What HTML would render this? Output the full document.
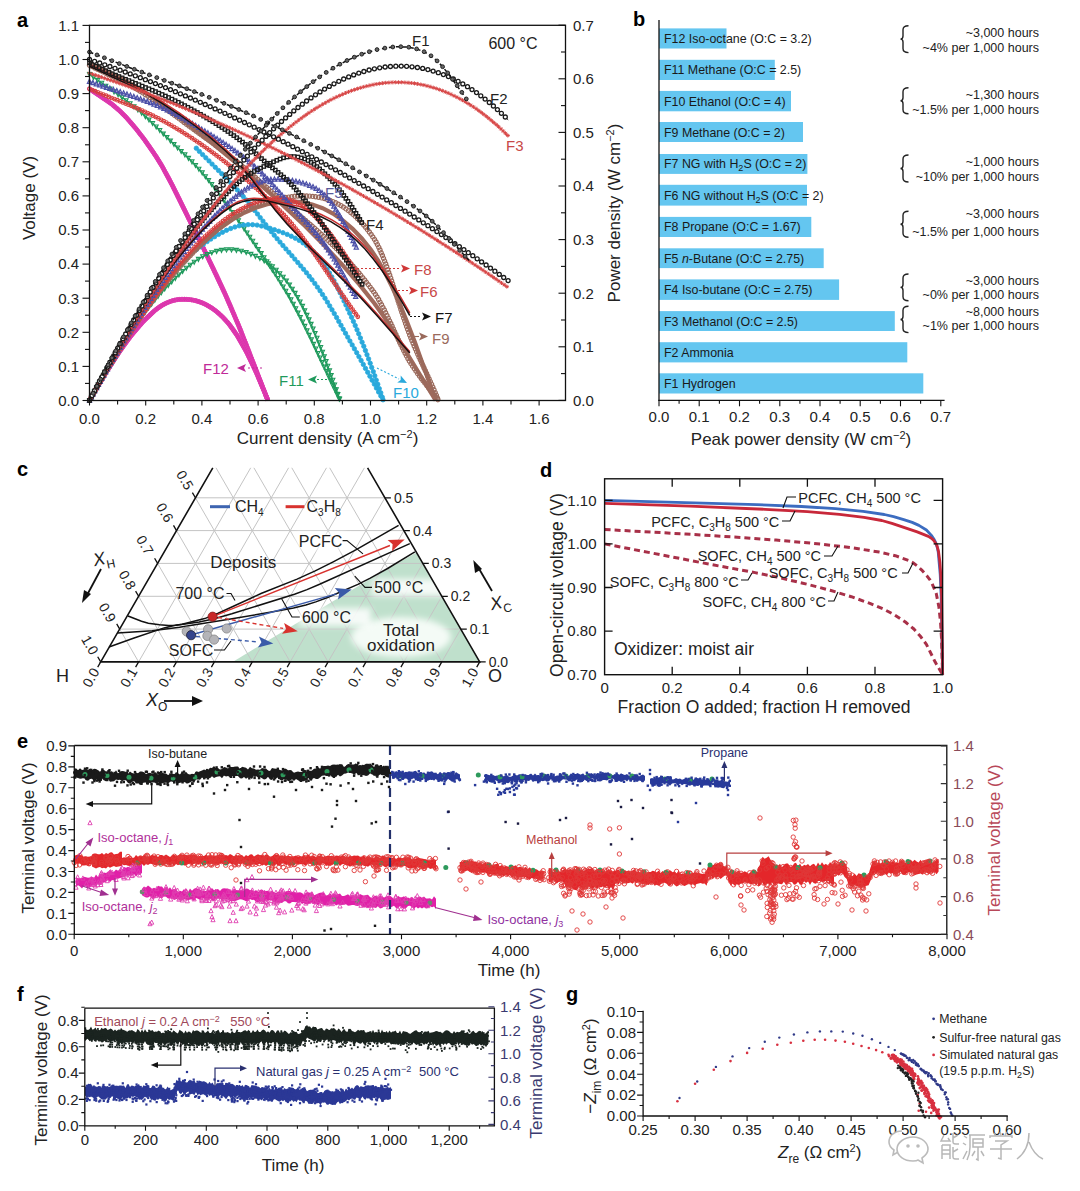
<!DOCTYPE html>
<html><head><meta charset="utf-8"><style>
html,body{margin:0;padding:0;background:#fff;width:1080px;height:1191px;overflow:hidden}
svg{display:block}
text{font-family:"Liberation Sans", sans-serif}
</style></head><body>
<svg width="1080" height="1191" viewBox="0 0 1080 1191" font-family="Liberation Sans, sans-serif">
<rect width="1080" height="1191" fill="#fff"/>
<defs><marker id="m1" markerUnits="userSpaceOnUse" markerWidth="12" markerHeight="12" viewBox="-6.0 -6.0 12 12" refX="0" refY="0" overflow="visible"><circle r="2.0" fill="none" stroke="#e03cb0" stroke-width="1.0"/></marker><marker id="m2" markerUnits="userSpaceOnUse" markerWidth="12" markerHeight="12" viewBox="-6.0 -6.0 12 12" refX="0" refY="0" overflow="visible"><path d="M0 2.4l2 -4h-4z" fill="none" stroke="#1f9a5c" stroke-width="1.1"/></marker><marker id="m3" markerUnits="userSpaceOnUse" markerWidth="12" markerHeight="12" viewBox="-6.0 -6.0 12 12" refX="0" refY="0" overflow="visible"><circle r="2.2" fill="#2aa9dc" stroke="#2aa9dc" stroke-width="0.8"/></marker><marker id="m4" markerUnits="userSpaceOnUse" markerWidth="12" markerHeight="12" viewBox="-6.0 -6.0 12 12" refX="0" refY="0" overflow="visible"><circle r="2.1" fill="none" stroke="#9a6a5c" stroke-width="1.2"/></marker><marker id="m5" markerUnits="userSpaceOnUse" markerWidth="12" markerHeight="12" viewBox="-6.0 -6.0 12 12" refX="0" refY="0" overflow="visible"><circle r="1.8" fill="none" stroke="#d84040" stroke-width="1.1"/></marker><marker id="m6" markerUnits="userSpaceOnUse" markerWidth="12" markerHeight="12" viewBox="-6.0 -6.0 12 12" refX="0" refY="0" overflow="visible"><path d="M0 -2.5l2.1 4.2h-4.2z" fill="none" stroke="#4b4fa8" stroke-width="1.2"/></marker><marker id="m7" markerUnits="userSpaceOnUse" markerWidth="12" markerHeight="12" viewBox="-6.0 -6.0 12 12" refX="0" refY="0" overflow="visible"><rect x="-1.7" y="-1.7" width="3.4" height="3.4" fill="none" stroke="#1a1a1a" stroke-width="1.3"/></marker><marker id="m8" markerUnits="userSpaceOnUse" markerWidth="12" markerHeight="12" viewBox="-6.0 -6.0 12 12" refX="0" refY="0" overflow="visible"><path d="M-2 0h4M0 -2v4M-1.4 -1.4l2.8 2.8M-1.4 1.4l2.8 -2.8" fill="none" stroke="#d84848" stroke-width="1.0"/></marker><marker id="m9" markerUnits="userSpaceOnUse" markerWidth="12" markerHeight="12" viewBox="-6.0 -6.0 12 12" refX="0" refY="0" overflow="visible"><circle r="2.0" fill="#fff" stroke="#1a1a1a" stroke-width="1.3"/></marker><marker id="m10" markerUnits="userSpaceOnUse" markerWidth="12" markerHeight="12" viewBox="-6.0 -6.0 12 12" refX="0" refY="0" overflow="visible"><circle r="1.9" fill="#666" stroke="#222" stroke-width="1.0"/></marker><marker id="m11" markerUnits="userSpaceOnUse" markerWidth="12" markerHeight="12" viewBox="-6.0 -6.0 12 12" refX="0" refY="0" overflow="visible"><circle r="2.5" fill="#2e9a5c"/></marker><marker id="m12" markerUnits="userSpaceOnUse" markerWidth="12" markerHeight="12" viewBox="-6.0 -6.0 12 12" refX="0" refY="0" overflow="visible"><rect x="-1.2" y="-1.2" width="2.4" height="2.4" fill="#1a1a1a"/></marker><marker id="m13" markerUnits="userSpaceOnUse" markerWidth="12" markerHeight="12" viewBox="-6.0 -6.0 12 12" refX="0" refY="0" overflow="visible"><rect x="-1.2" y="-1.2" width="2.4" height="2.4" fill="#283a9a"/></marker><marker id="m14" markerUnits="userSpaceOnUse" markerWidth="12" markerHeight="12" viewBox="-6.0 -6.0 12 12" refX="0" refY="0" overflow="visible"><rect x="-1.2" y="-1.2" width="2.4" height="2.4" fill="#1a1a40"/></marker><marker id="m15" markerUnits="userSpaceOnUse" markerWidth="12" markerHeight="12" viewBox="-6.0 -6.0 12 12" refX="0" refY="0" overflow="visible"><circle r="2.2" fill="none" stroke="#e03838" stroke-width="0.9"/></marker><marker id="m16" markerUnits="userSpaceOnUse" markerWidth="12" markerHeight="12" viewBox="-6.0 -6.0 12 12" refX="0" refY="0" overflow="visible"><circle r="2.4" fill="#6a8a70"/></marker><marker id="m17" markerUnits="userSpaceOnUse" markerWidth="12" markerHeight="12" viewBox="-6.0 -6.0 12 12" refX="0" refY="0" overflow="visible"><path d="M0 -2.5l2.1 4.2h-4.2z" fill="none" stroke="#e040b0" stroke-width="0.9"/></marker><marker id="m18" markerUnits="userSpaceOnUse" markerWidth="12" markerHeight="12" viewBox="-6.0 -6.0 12 12" refX="0" refY="0" overflow="visible"><rect x="-0.9" y="-0.9" width="1.8" height="1.8" fill="#1b2420"/></marker><marker id="m19" markerUnits="userSpaceOnUse" markerWidth="12" markerHeight="12" viewBox="-6.0 -6.0 12 12" refX="0" refY="0" overflow="visible"><rect x="-1.1" y="-1.1" width="2.2" height="2.2" fill="#2b3896"/></marker><marker id="m20" markerUnits="userSpaceOnUse" markerWidth="12" markerHeight="12" viewBox="-6.0 -6.0 12 12" refX="0" refY="0" overflow="visible"><circle r="1.2" fill="#303a88" stroke="none" stroke-width="0"/></marker><marker id="m21" markerUnits="userSpaceOnUse" markerWidth="12" markerHeight="12" viewBox="-6.0 -6.0 12 12" refX="0" refY="0" overflow="visible"><circle r="1.3" fill="#d83040" stroke="none" stroke-width="0"/></marker><marker id="m22" markerUnits="userSpaceOnUse" markerWidth="12" markerHeight="12" viewBox="-6.0 -6.0 12 12" refX="0" refY="0" overflow="visible"><circle r="1.2" fill="#222" stroke="none" stroke-width="0"/></marker></defs>
<g id="pa">
<path d="M89.5 88.8 112.1 104.4 119.2 110.4 126.4 117.6 135.3 127.9 144.8 140.2 156.1 156.5 162.7 167.3 173.4 187.4 203.1 247.6 224.5 292.7 240 328.9 267.9 400.5" stroke="#d62aa8" stroke-width="4.6" fill="none" />
<path d="M89.5 88.8 91.5 90.2 93.4 91.6 95.4 92.9 97.4 94.2 99.4 95.5 101.4 96.9 103.4 98.2 105.4 99.5 107.4 100.9 109.4 102.3 111.3 103.7 113.2 105.2 115 106.7 116.9 108.3 118.6 109.9 120.4 111.5 122.1 113.2 123.8 114.9 125.5 116.6 127.1 118.4 128.7 120.2 130.3 122 131.9 123.8 133.4 125.6 135 127.5 136.5 129.3 138 131.2 139.4 133.1 140.9 135 142.4 136.9 143.8 138.8 145.2 140.8 146.6 142.7 148 144.7 149.4 146.6 150.8 148.6 152.1 150.6 153.5 152.6 154.8 154.6 156.1 156.6 157.4 158.6 158.7 160.6 160 162.7 161.2 164.7 162.4 166.8 163.6 168.9 164.7 171 165.9 173.1 167 175.2 168.2 177.3 169.3 179.4 170.4 181.6 171.5 183.7 172.6 185.8 173.6 188 174.7 190.1 175.8 192.3 176.9 194.4 177.9 196.6 179 198.7 180 200.9 181.1 203.1 182.1 205.2 183.2 207.4 184.2 209.5 185.3 211.7 186.3 213.8 187.4 216 188.4 218.2 189.5 220.3 190.6 222.5 191.6 224.6 192.7 226.8 193.8 228.9 194.9 231 195.9 233.2 197 235.3 198.1 237.5 199.1 239.6 200.2 241.8 201.3 243.9 202.3 246.1 203.4 248.2 204.5 250.4 205.5 252.5 206.6 254.7 207.6 256.9 208.7 259 209.7 261.2 210.8 263.3 211.8 265.5 212.9 267.7 213.9 269.8 214.9 272 216 274.2 217 276.3 218 278.5 219 280.7 220 282.9 221 285 222 287.2 223 289.4 224 291.6 225 293.8 226 296 227 298.2 227.9 300.3 228.9 302.5 229.9 304.7 230.8 306.9 231.8 309.1 232.7 311.4 233.7 313.6 234.6 315.8 235.5 318 236.4 320.2 237.4 322.4 238.3 324.6 239.2 326.9 240.1 329.1 241 331.3 241.8 333.6 242.7 335.8 243.6 338 244.5 340.2 245.4 342.5 246.3 344.7 247.1 347 248 349.2 248.9 351.4 249.7 353.7 250.6 355.9 251.5 358.1 252.3 360.4 253.2 362.6 254.1 364.9 254.9 367.1 255.8 369.3 256.7 371.6 257.5 373.8 258.4 376 259.2 378.3 260.1 380.5 261 382.8 261.9 385 262.7 387.2 263.6 389.5 264.5 391.7 265.3 393.9 266.2 396.2 267.1 398.4" fill="none" stroke="none" marker-start="url(#m1)" marker-mid="url(#m1)" marker-end="url(#m1)"/>
<path d="M89.5 400.4 105 374.3 118.6 353 131.1 335.7 142.4 322.4 153.7 311.5 158.5 307.7 163.3 304.6 168 302.3 173.4 300.4 178.1 299.5 183.5 299.2 189.4 299.6 195.4 300.6 201.3 302.5 206.7 305 212 308.2 217.4 312.2 222.7 317.1 228.1 323 237 335.3 246.5 352 256.6 373.3 267.9 400.4" stroke="#d62aa8" stroke-width="4.6" fill="none" />
<path d="M89.5 400.4 90.7 398.3 91.9 396.2 93.1 394.2 94.3 392.1 95.5 390 96.8 388 98 385.9 99.2 383.8 100.4 381.8 101.7 379.7 102.9 377.7 104.2 375.6 105.4 373.6 106.7 371.5 108 369.5 109.2 367.5 110.5 365.4 111.8 363.4 113.1 361.4 114.4 359.4 115.7 357.4 117.1 355.4 118.4 353.4 119.8 351.4 121.1 349.4 122.5 347.5 123.9 345.5 125.3 343.5 126.7 341.6 128.1 339.7 129.6 337.8 131 335.9 132.5 334 134 332.1 135.5 330.3 137.1 328.4 138.7 326.6 140.2 324.8 141.8 323 143.5 321.3 145.1 319.5 146.8 317.8 148.6 316.2 150.3 314.5 152.1 312.9 153.9 311.3 155.7 309.8 157.6 308.3 159.6 306.9 161.6 305.6 163.7 304.4 165.8 303.3 168 302.3 170.2 301.4 172.5 300.7 174.8 300.1 177.2 299.7 179.6 299.4 182 299.2 184.4 299.2 186.8 299.3 189.1 299.6 191.5 299.9 193.9 300.3 196.2 300.9 198.5 301.5 200.8 302.3 203 303.2 205.2 304.2 207.3 305.3 209.4 306.5 211.4 307.8 213.4 309.1 215.4 310.6 217.2 312.1 219 313.6 220.8 315.3 222.5 316.9 224.2 318.6 225.8 320.4 227.4 322.2 229 324.1 230.5 325.9 231.9 327.8 233.3 329.8 234.7 331.8 236 333.8 237.3 335.8 238.6 337.8 239.8 339.9 241 341.9 242.2 344 243.4 346.1 244.5 348.2 245.7 350.3 246.8 352.5 247.9 354.6 248.9 356.8 250 358.9 251 361.1 252.1 363.2 253.1 365.4 254.1 367.6 255.1 369.8 256 372 257 374.2 258 376.4 258.9 378.6 259.9 380.8 260.8 383 261.7 385.2 262.7 387.4 263.6 389.6 264.5 391.9 265.4 394.1 266.3 396.3 267.2 398.5" fill="none" stroke="none" marker-start="url(#m1)" marker-mid="url(#m1)" marker-end="url(#m1)"/>
<path d="M89.5 74.2 125.4 99.8 136.3 108.3 144.6 115.6 193.9 163.5 204.8 175.6 216.5 190.2 234 214.1 265 258.7 277.5 277.5 287.5 293.7 295.9 308.6 305.9 328.2 340.2 400.5" stroke="#1f9a5c" stroke-width="1.3" fill="none" />
<path d="M89.5 74.2 93.5 77.1 97.6 80 101.7 82.9 105.8 85.8 109.9 88.6 114 91.5 118.1 94.4 122.1 97.3 126.1 100.3 130.1 103.4 134 106.5 137.9 109.6 141.7 112.9 145.4 116.3 149 119.7 152.6 123.1 156.2 126.6 159.8 130.1 163.3 133.7 166.9 137.2 170.4 140.7 174 144.2 177.6 147.6 181.2 151.1 184.9 154.5 188.5 158 192 161.5 195.5 165.1 198.9 168.8 202.2 172.5 205.4 176.3 208.6 180.2 211.7 184.1 214.8 188 217.9 192 220.9 196 223.9 200 226.8 204 229.8 208.1 232.7 212.1 235.6 216.2 238.4 220.3 241.3 224.4 244.1 228.5 247 232.6 249.8 236.8 252.7 240.9 255.5 245 258.3 249.1 261.2 253.2 264 257.3 266.8 261.5 269.7 265.6 272.4 269.8 275.2 273.9 277.9 278.1 280.6 282.3 283.2 286.6 285.8 290.9 288.4 295.2 290.9 299.5 293.3 303.9 295.7 308.3 298 312.7 300.3 317.1 302.6 321.6 304.8 326 307 330.5 309.2 335 311.4 339.5 313.5 344 315.7 348.6 317.8 353.1 319.9 357.6 322 362.2 324.1 366.7 326.3 371.2 328.4 375.8 330.5 380.3 332.6 384.8 334.8 389.3 336.9 393.8 339.1 398.3" fill="none" stroke="none" marker-start="url(#m2)" marker-mid="url(#m2)" marker-end="url(#m2)"/>
<path d="M89.5 400.4 109.6 365.4 129.6 333.7 146.3 310.3 154.7 300 163 290.5 173.1 280.2 183.1 270.8 191.4 263.8 199 258.6 206.5 254.6 214 251.7 221.5 250 229 249.4 236.5 250 244.9 251.9 253.3 255 261.6 259.2 269.1 264.1 276.7 270.2 283.3 277.1 289.2 284.3 294.2 291.6 300 301.5 305.9 312.9 311.7 325.5 324.3 356.4 340.2 400.4" stroke="#1f9a5c" stroke-width="1.3" fill="none" />
<path d="M89.5 400.4 91.9 396 94.3 391.7 96.8 387.3 99.3 382.9 101.8 378.6 104.3 374.3 106.8 370 109.4 365.7 112 361.4 114.6 357.1 117.2 352.9 119.9 348.7 122.5 344.4 125.3 340.2 128 336.1 130.8 331.9 133.6 327.8 136.5 323.7 139.4 319.6 142.3 315.6 145.3 311.6 148.4 307.6 151.6 303.8 154.8 299.9 158 296.1 161.3 292.4 164.7 288.7 168.2 285.1 171.7 281.5 175.3 278 178.9 274.6 182.6 271.2 186.3 267.9 190.2 264.8 194.2 261.8 198.4 259 202.7 256.4 207.2 254.2 211.8 252.4 216.6 251 221.5 250 226.5 249.5 231.5 249.5 236.4 250 241.3 250.9 246.2 252.2 250.9 254 255.4 256 259.9 258.2 264.2 260.7 268.4 263.5 272.4 266.5 276.2 269.8 279.8 273.3 283.2 276.9 286.4 280.7 289.5 284.7 292.3 288.8 295.1 293 297.6 297.2 300.1 301.6 302.5 306 304.7 310.5 306.9 315 309 319.5 311.1 324 313.1 328.6 315.1 333.2 317 337.8 318.9 342.5 320.7 347.1 322.5 351.8 324.3 356.4 326.1 361.1 327.8 365.8 329.5 370.5 331.2 375.2 332.9 379.9 334.6 384.6 336.3 389.3 337.9 394.1 339.6 398.8" fill="none" stroke="none" marker-start="url(#m2)" marker-mid="url(#m2)" marker-end="url(#m2)"/>
<path d="M196.3 148.2 227.5 179.5 243.1 196.4 251.8 206.9 274.3 235.3 302.3 267.8 314.8 283.5 323.5 296 332.9 311.2 358.5 355.9 383.4 400.5" stroke="#2aa9dc" stroke-width="1.2" fill="none" />
<path d="M196.3 148.2 199.4 151.4 202.6 154.6 205.8 157.8 209 160.9 212.1 164.1 215.3 167.3 218.5 170.5 221.7 173.7 224.9 176.9 228 180.1 231.1 183.3 234.2 186.6 237.3 189.9 240.3 193.2 243.3 196.6 246.2 200 249.1 203.5 251.9 207 254.7 210.5 257.5 214 260.2 217.6 263 221.1 265.8 224.7 268.6 228.2 271.4 231.7 274.2 235.2 277.1 238.7 280 242.1 282.9 245.5 285.9 248.9 288.9 252.3 291.9 255.7 294.8 259.1 297.8 262.5 300.7 265.9 303.6 269.3 306.5 272.8 309.3 276.3 312 279.8 314.8 283.4 317.4 287.1 320 290.7 322.5 294.5 325 298.2 327.4 302.1 329.7 305.9 332 309.8 334.3 313.6 336.6 317.5 338.8 321.4 341 325.3 343.2 329.3 345.5 333.2 347.7 337.1 349.9 341 352.2 344.9 354.4 348.8 356.7 352.7 358.9 356.6 361.1 360.5 363.3 364.4 365.5 368.4 367.7 372.3 369.9 376.2 372.1 380.2 374.3 384.1 376.4 388 378.6 392 380.8 395.9 383 399.8" fill="none" stroke="none" marker-start="url(#m3)" marker-mid="url(#m3)" marker-end="url(#m3)"/>
<path d="M196.3 249.7 210.6 239.2 217.5 235 224.4 231.3 230.6 228.6 236.8 226.5 243.1 225.1 248.1 224.6 254.9 224.9 261.8 226 269.9 228.3 281.1 232 288.6 235 295.5 238.3 301.7 242 307.3 246.1 316.1 254.3 323.5 263.6 331 275.5 339.8 292.1 352.2 318.8 361.6 340.9 372.2 368.6 383.4 400.4" stroke="#2aa9dc" stroke-width="1.2" fill="none" />
<path d="M196.3 249.7 199.8 246.9 203.4 244.2 207.1 241.6 210.8 239.1 214.6 236.7 218.5 234.4 222.5 232.3 226.5 230.3 230.7 228.5 234.9 227 239.2 225.8 243.6 225 248.1 224.6 252.6 224.7 257.1 225.1 261.5 226 265.9 227.1 270.2 228.4 274.5 229.7 278.7 231.2 283 232.7 287.2 234.4 291.3 236.2 295.3 238.2 299.2 240.4 303 242.9 306.6 245.5 310.1 248.4 313.4 251.5 316.5 254.7 319.4 258.1 322.2 261.7 324.8 265.4 327.2 269.1 329.5 273 331.8 276.9 334 280.8 336.1 284.8 338.1 288.8 340.1 292.8 342.1 296.9 344 301 345.9 305 347.8 309.1 349.7 313.2 351.6 317.3 353.4 321.4 355.2 325.5 357 329.7 358.7 333.8 360.4 338 362.1 342.2 363.8 346.3 365.4 350.5 367 354.7 368.6 358.9 370.2 363.2 371.7 367.4 373.3 371.6 374.8 375.8 376.3 380.1 377.8 384.3 379.3 388.6 380.8 392.8 382.3 397.1" fill="none" stroke="none" marker-start="url(#m3)" marker-mid="url(#m3)" marker-end="url(#m3)"/>
<path d="M89.5 62.9 119.5 77.7 134.5 85.8 150.7 96.1 169.1 109.5 209.5 141 238.4 164.8 273 195.9 305.3 226.3 324.9 246.1 342.2 264.7 359.5 284.7 374.5 303.5 383.8 316.5 394.1 332.4 435.7 400.5" stroke="#a06a5c" stroke-width="4.2" fill="none" />
<path d="M89.5 65.3 92.2 66.6 94.9 68 97.6 69.3 100.3 70.6 103 71.9 105.7 73.2 108.4 74.5 111.1 75.8 113.8 77.1 116.5 78.4 119.2 79.7 121.9 81.1 124.5 82.4 127.2 83.8 129.8 85.3 132.5 86.7 135.1 88.2 137.6 89.7 140.2 91.3 142.8 92.9 145.3 94.5 147.8 96.1 150.3 97.8 152.8 99.5 155.2 101.2 157.7 102.9 160.1 104.7 162.5 106.4 165 108.2 167.4 110 169.8 111.8 172.2 113.6 174.6 115.4 177 117.1 179.4 118.9 181.8 120.7 184.2 122.5 186.6 124.3 189 126.1 191.5 127.9 193.9 129.6 196.3 131.4 198.7 133.2 201.2 134.9 203.6 136.7 206 138.4 208.5 140.2 210.9 141.9 213.3 143.7 215.7 145.5 218.2 147.3 220.6 149.1 223 150.9 225.4 152.7 227.7 154.5 230.1 156.3 232.5 158.2 234.8 160 237.2 161.9 239.5 163.8 241.8 165.7 244.1 167.7 246.4 169.6 248.6 171.6 250.9 173.6 253.1 175.5 255.4 177.5 257.6 179.5 259.8 181.6 262.1 183.6 264.3 185.6 266.6 187.5 268.8 189.5 271.1 191.5 273.4 193.4 275.6 195.4 277.9 197.3 280.2 199.3 282.5 201.2 284.8 203.1 287.1 205 289.4 207 291.7 208.9 294 210.8 296.3 212.7 298.6 214.7 300.9 216.6 303.2 218.5 305.5 220.5 307.8 222.4 310.1 224.4 312.3 226.3 314.6 228.3 316.8 230.3 319.1 232.3 321.3 234.3 323.5 236.3 325.7 238.4 327.9 240.4 330.1 242.5 332.3 244.5 334.4 246.6 336.5 248.7 338.7 250.9 340.8 253 342.9 255.2 344.9 257.3 347 259.5 349 261.7 351 264 353 266.2 355 268.5 356.9 270.7 358.9 273 360.8 275.3 362.7 277.7 364.6 280 366.4 282.3 368.3 284.7 370.1 287.1 371.9 289.5 373.7 291.9 375.4 294.4 377 296.9 378.6 299.5 380 302.1 381.5 304.7 382.9 307.4 384.3 310 385.6 312.7 386.9 315.4 388.2 318.1 389.5 320.8 390.8 323.5 392.1 326.2 393.3 329 394.6 331.7 395.9 334.4 397.2 337.1 398.4 339.8 399.7 342.5 401 345.2 402.4 347.9 403.7 350.6 405.1 353.3 406.5 355.9 407.9 358.6 409.4 361.2 411 363.7 412.6 366.2 414.3 368.7 416 371.2 417.7 373.7 419.5 376.1 421.3 378.5 423.1 380.9 424.9 383.2 426.8 385.6 428.7 387.9 430.5 390.3 432.4 392.6 434.3 395 436.1 397.4 437.9 399.7" fill="none" stroke="none" marker-start="url(#m4)" marker-mid="url(#m4)" marker-end="url(#m4)"/>
<path d="M89.5 400.4 104.5 374.4 119.5 349.5 133.4 327.7 146 309 158.7 291.7 170.3 277.2 183 262.6 195.7 249.4 208.4 237.6 219.9 228.2 232.6 219.4 244.1 212.8 255.7 207.8 267.2 204.3 278.8 202.1 290.3 201.4 301.8 202.2 312.2 204.4 322.6 208.2 333 213.6 343.4 220.8 352.6 228.8 361.8 238.5 371.1 250 378 260.4 384.9 272.5 391.8 286.4 398.8 301.7 406.8 321.3 414.9 342.3 435.7 400.4" stroke="#a06a5c" stroke-width="4.2" fill="none" />
<path d="M89.5 400.4 91 397.8 92.5 395.2 94 392.6 95.5 390 97 387.4 98.5 384.8 100 382.2 101.5 379.6 103 377 104.6 374.4 106.1 371.9 107.6 369.3 109.2 366.7 110.7 364.2 112.3 361.6 113.8 359 115.4 356.5 117 353.9 118.5 351.4 120.1 348.8 121.7 346.3 123.3 343.7 124.9 341.2 126.5 338.7 128.2 336.1 129.8 333.6 131.4 331.1 133.1 328.6 134.7 326.1 136.4 323.6 138.1 321.1 139.7 318.6 141.4 316.2 143.1 313.7 144.9 311.2 146.6 308.8 148.3 306.3 150.1 303.9 151.9 301.5 153.7 299.1 155.5 296.7 157.3 294.3 159.1 291.9 160.9 289.5 162.8 287.2 164.6 284.8 166.5 282.5 168.4 280.2 170.3 277.8 172.3 275.5 174.2 273.3 176.2 271 178.1 268.7 180.1 266.5 182.1 264.3 184.2 262 186.2 259.8 188.2 257.6 190.3 255.5 192.4 253.3 194.5 251.1 196.6 249 198.7 246.9 200.8 244.8 203 242.7 205.2 240.6 207.4 238.6 209.6 236.6 211.8 234.6 214.1 232.6 216.3 230.6 218.6 228.7 221 226.8 223.3 224.9 225.7 223.1 228.1 221.3 230.5 219.6 233 217.9 235.5 216.2 238 214.6 240.6 213.1 243.2 211.6 245.9 210.2 248.6 208.9 251.3 207.6 254.1 206.5 256.9 205.4 259.7 204.3 262.5 203.4 265.4 202.5 268.3 201.6 271.1 200.8 274 200 277 199.3 279.9 198.7 282.8 198.1 285.8 197.5 288.7 197.1 291.7 196.7 294.7 196.3 297.7 196.1 300.7 196 303.7 195.9 306.7 196 309.7 196.1 312.7 196.4 315.6 196.8 318.6 197.3 321.5 197.9 324.4 198.6 327.3 199.5 330.1 200.5 332.9 201.6 335.7 202.8 338.3 204.2 341 205.6 343.5 207.2 346 208.9 348.4 210.6 350.8 212.5 353.1 214.4 355.3 216.4 357.5 218.5 359.6 220.6 361.7 222.8 363.7 225 365.6 227.3 367.5 229.7 369.3 232 371.1 234.4 372.8 236.9 374.5 239.4 376 242 377.4 244.6 378.8 247.3 380 250 381.2 252.8 382.4 255.5 383.5 258.3 384.6 261.1 385.7 263.9 386.7 266.7 387.7 269.6 388.7 272.4 389.7 275.2 390.7 278.1 391.6 280.9 392.6 283.8 393.5 286.6 394.4 289.5 395.4 292.3 396.3 295.2 397.2 298 398.1 300.9 399 303.7 400 306.6 400.9 309.5 401.8 312.3 402.8 315.2 403.7 318 404.7 320.8 405.6 323.7 406.6 326.5 407.6 329.3 408.7 332.2 409.7 335 410.8 337.8 411.9 340.5 413.1 343.3 414.2 346.1 415.4 348.8 416.6 351.6 417.8 354.3 419 357.1 420.3 359.8 421.5 362.5 422.8 365.3 424 368 425.3 370.7 426.6 373.4 427.8 376.2 429.1 378.9 430.3 381.6 431.6 384.3 432.8 387.1 434 389.8 435.2 392.6 436.4 395.3 437.5 398.1" fill="none" stroke="none" marker-start="url(#m4)" marker-mid="url(#m4)" marker-end="url(#m4)"/>
<path d="M89.5 88.8 142.4 110.7 156.7 117.5 170.2 124.8 189 136.2 206.9 148.4 224.9 161.8 242.8 176.4 258.9 190.7 274.2 205.1 284 215.1 293.9 226.4 302.8 237.9 312.7 251.4 345.9 299.9 358.4 317.6" stroke="#d03838" stroke-width="1.4" fill="none" />
<path d="M89.5 88.8 92.3 90 95 91.2 97.8 92.3 100.6 93.5 103.3 94.6 106.1 95.7 108.9 96.9 111.7 98 114.5 99.1 117.3 100.2 120 101.3 122.8 102.4 125.6 103.6 128.4 104.7 131.2 105.8 133.9 107 136.7 108.2 139.4 109.4 142.2 110.6 144.9 111.8 147.6 113.1 150.3 114.4 153 115.7 155.7 117 158.4 118.4 161.1 119.8 163.7 121.2 166.3 122.6 168.9 124.1 171.5 125.6 174.1 127.1 176.7 128.6 179.3 130.2 181.9 131.7 184.4 133.3 186.9 134.9 189.5 136.5 192 138.2 194.5 139.8 197 141.5 199.5 143.2 201.9 144.9 204.4 146.6 206.9 148.3 209.3 150.1 211.7 151.8 214.1 153.6 216.5 155.4 218.9 157.2 221.3 159 223.7 160.9 226.1 162.7 228.4 164.6 230.8 166.4 233.1 168.3 235.4 170.2 237.7 172.1 240 174.1 242.3 176 244.6 177.9 246.9 179.9 249.1 181.9 251.4 183.9 253.6 185.9 255.8 187.9 258.1 189.9 260.3 191.9 262.5 194 264.7 196 266.9 198.1 269 200.1 271.2 202.2 273.3 204.3 275.5 206.4 277.6 208.5 279.7 210.6 281.8 212.8 283.9 214.9 285.9 217.1 287.9 219.4 289.9 221.7 291.8 223.9 293.8 226.3 295.6 228.6 297.5 230.9 299.4 233.3 301.2 235.7 303 238.1 304.8 240.5 306.6 242.9 308.3 245.3 310.1 247.7 311.8 250.2 313.6 252.6 315.3 255.1 317 257.6 318.7 260 320.4 262.5 322.1 265 323.8 267.4 325.5 269.9 327.2 272.4 328.9 274.9 330.5 277.4 332.2 279.9 333.9 282.4 335.6 284.8 337.3 287.3 338.9 289.8 340.6 292.3 342.3 294.8 344 297.2 345.7 299.7 347.4 302.2 349.1 304.6 350.8 307.1 352.6 309.5 354.3 312 356.1 314.4 357.8 316.8" fill="none" stroke="none" marker-start="url(#m5)" marker-mid="url(#m5)" marker-end="url(#m5)"/>
<path d="M89.5 400.4 113.7 359.6 137 322.8 157.6 292.7 176.4 268.1 186.3 256.4 195.3 246.5 204.2 237.4 213.2 229.1 222.2 221.7 230.2 215.8 239.2 210.2 247.3 206 255.3 202.7 263.4 200.3 271.5 198.8 278.6 198.3 284 198.6 289.4 199.8 294.8 201.7 301 205.1 307.3 209.6 313.6 215.1 319.9 221.5 326.1 228.8 340.5 248.2 358.4 275.8" stroke="#d03838" stroke-width="1.4" fill="none" />
<path d="M89.5 400.4 91 397.8 92.5 395.2 94 392.6 95.5 390 97 387.4 98.5 384.8 100.1 382.2 101.6 379.7 103.1 377.1 104.7 374.5 106.2 371.9 107.7 369.4 109.3 366.8 110.8 364.2 112.4 361.7 114 359.1 115.5 356.6 117.1 354 118.7 351.4 120.3 348.9 121.9 346.4 123.5 343.8 125.1 341.3 126.7 338.7 128.3 336.2 129.9 333.7 131.5 331.2 133.2 328.6 134.8 326.1 136.4 323.6 138.1 321.1 139.7 318.6 141.4 316.1 143.1 313.6 144.8 311.1 146.4 308.7 148.1 306.2 149.9 303.7 151.6 301.3 153.3 298.8 155 296.4 156.8 293.9 158.5 291.5 160.3 289.1 162.1 286.7 163.9 284.2 165.7 281.8 167.5 279.5 169.3 277.1 171.2 274.7 173 272.4 174.9 270 176.8 267.7 178.7 265.4 180.6 263.1 182.5 260.8 184.5 258.5 186.4 256.2 188.4 254 190.4 251.7 192.4 249.5 194.5 247.3 196.5 245.1 198.6 243 200.7 240.8 202.9 238.7 205 236.6 207.2 234.6 209.4 232.5 211.6 230.5 213.9 228.5 216.1 226.6 218.4 224.6 220.8 222.8 223.1 220.9 225.5 219.1 228 217.4 230.4 215.7 232.9 214 235.5 212.4 238.1 210.9 240.7 209.4 243.3 208 246 206.6 248.7 205.4 251.5 204.2 254.3 203.1 257.1 202.1 260 201.2 262.9 200.4 265.8 199.8 268.7 199.2 271.7 198.8 274.7 198.5 277.7 198.4 280.7 198.4 283.7 198.6 286.6 199.1 289.6 199.8 292.4 200.8 295.2 201.9 297.8 203.3 300.4 204.8 303 206.4 305.4 208.1 307.8 210 310.1 211.9 312.3 213.9 314.5 216 316.6 218.1 318.7 220.2 320.7 222.5 322.7 224.7 324.6 227 326.5 229.3 328.4 231.7 330.3 234 332.1 236.4 333.9 238.8 335.6 241.3 337.4 243.7 339.1 246.2 340.8 248.6 342.5 251.1 344.1 253.6 345.8 256.1 347.4 258.6 349.1 261.1 350.7 263.6 352.3 266.2 353.9 268.7 355.6 271.2 357.2 273.8" fill="none" stroke="none" marker-start="url(#m5)" marker-mid="url(#m5)" marker-end="url(#m5)"/>
<path d="M89.5 81.7 142.9 100.1 158 106 170.5 111.7 188.3 121.4 216.7 138.7 232.8 149.3 247 160.1 257.7 169.5 269.2 181.2 309.3 225.7 319.1 237.2 326.2 246.7 332.4 256.2 356.4 298.2" stroke="#4b4fa8" stroke-width="1.0" fill="none" />
<path d="M89.5 81.7 92.9 82.9 96.3 84.1 99.7 85.2 103.1 86.4 106.5 87.6 109.9 88.7 113.3 89.8 116.8 91 120.2 92.1 123.6 93.3 127 94.4 130.4 95.6 133.8 96.8 137.2 98 140.6 99.2 143.9 100.5 147.3 101.7 150.7 103 154 104.4 157.3 105.8 160.6 107.2 163.9 108.6 167.2 110.1 170.4 111.7 173.6 113.4 176.8 115 180 116.7 183.1 118.5 186.3 120.3 189.4 122.1 192.5 123.9 195.6 125.8 198.7 127.6 201.7 129.5 204.8 131.3 207.9 133.2 211 135.1 214 137 217.1 138.9 220.1 140.8 223.1 142.8 226.1 144.8 229.1 146.8 232.1 148.9 235 150.9 237.9 153.1 240.8 155.2 243.7 157.4 246.5 159.7 249.3 161.9 252 164.3 254.7 166.7 257.3 169.1 259.9 171.6 262.5 174.2 265 176.7 267.5 179.3 269.9 182 272.4 184.6 274.8 187.3 277.2 189.9 279.6 192.6 282 195.3 284.4 198 286.8 200.7 289.1 203.4 291.5 206.1 293.9 208.8 296.4 211.4 298.8 214.1 301.2 216.8 303.6 219.4 306.1 222.1 308.5 224.8 310.9 227.4 313.2 230.2 315.5 232.9 317.8 235.7 320.1 238.5 322.3 241.4 324.4 244.2 326.5 247.2 328.5 250.2 330.5 253.2 332.4 256.2 334.3 259.3 336.1 262.4 337.9 265.5 339.7 268.6 341.5 271.8 343.3 274.9 345 278 346.8 281.2 348.5 284.3 350.3 287.5 352.1 290.6 353.8 293.7 355.7 296.8" fill="none" stroke="none" marker-start="url(#m6)" marker-mid="url(#m6)" marker-end="url(#m6)"/>
<path d="M89.5 400.4 113.5 358.7 137.6 319.1 158.9 286.2 177.6 259.9 197.2 235.5 207.8 223.4 217.6 213.1 226.5 204.6 234.5 197.7 242.6 191.6 250.6 186.4 257.7 183 264.8 180.8 271.9 179.6 279.9 179.4 289.7 180.4 300.4 182.6 308.4 185.1 315.5 188.5 320.9 192.1 325.3 195.9 328.9 199.8 333.3 205.6 342.2 220.2 356.4 247.6" stroke="#4b4fa8" stroke-width="1.0" fill="none" />
<path d="M89.5 400.4 91.3 397.3 93 394.1 94.8 391 96.6 387.9 98.4 384.7 100.2 381.6 102 378.5 103.8 375.4 105.6 372.3 107.4 369.1 109.2 366 111 362.9 112.8 359.8 114.7 356.7 116.5 353.6 118.3 350.5 120.2 347.5 122 344.4 123.9 341.3 125.8 338.2 127.6 335.1 129.5 332.1 131.4 329 133.3 325.9 135.2 322.9 137.1 319.8 139 316.8 140.9 313.7 142.9 310.7 144.8 307.7 146.8 304.6 148.7 301.6 150.7 298.6 152.7 295.6 154.6 292.6 156.6 289.6 158.7 286.6 160.7 283.6 162.7 280.6 164.8 277.7 166.8 274.7 168.9 271.8 171 268.9 173.1 266 175.3 263.1 177.4 260.2 179.6 257.3 181.8 254.5 184 251.6 186.2 248.8 188.5 246 190.7 243.2 193 240.4 195.3 237.7 197.7 234.9 200 232.2 202.4 229.5 204.8 226.8 207.2 224.1 209.7 221.5 212.1 218.8 214.6 216.2 217.1 213.7 219.7 211.1 222.2 208.6 224.9 206.1 227.5 203.7 230.2 201.3 232.9 199 235.7 196.7 238.6 194.5 241.5 192.3 244.4 190.3 247.4 188.3 250.5 186.5 253.7 184.8 257 183.3 260.4 182.1 263.8 181 267.3 180.3 270.9 179.7 274.5 179.4 278.1 179.3 281.7 179.5 285.2 179.8 288.8 180.2 292.4 180.8 295.9 181.5 299.4 182.3 302.9 183.3 306.3 184.3 309.7 185.6 313 187.1 316.1 188.8 319.1 190.8 322 193 324.7 195.3 327.2 197.9 329.6 200.6 331.8 203.5 333.9 206.4 335.8 209.4 337.7 212.5 339.6 215.6 341.4 218.7 343.1 221.9 344.8 225 346.5 228.2 348.2 231.4 349.8 234.6 351.4 237.8 353.1 241 354.7 244.2 356.3 247.4" fill="none" stroke="none" marker-start="url(#m6)" marker-mid="url(#m6)" marker-end="url(#m6)"/>
<path d="M89.5 64.6 133.3 85.2 145 91.5 162.1 101.7 179.2 112.8 195.2 124.3 210.2 136 225.1 148.8 234.7 157.9 243.3 167.4 252.9 179.3 275.3 208.5 287 222.4 306.3 242.5 344.7 279.8 360.7 296.1 377.8 314.8 409.8 351.7" stroke="#c83030" stroke-width="1.5" fill="none" />
<path d="M89.5 66.3 133.3 86.9 145 93.2 162.1 103.4 179.2 114.5 195.2 126 210.2 137.7 225.1 150.5 234.7 159.6 243.3 169.1 252.9 181 275.3 210.2 287 224.1 306.3 244.2 344.7 281.6 360.7 297.8 377.8 316.5 409.8 353.1" stroke="#1a1010" stroke-width="1.5" fill="none" />
<path d="M89.5 400.4 113 357.7 135.4 319.7 155.7 288.3 166.4 273.1 176 260.2 185.6 248.2 195.2 237.1 204.8 227 213.4 219 223 211.1 231.5 205.1 237.9 201.8 244.3 199.6 248.6 198.7 253.9 198.2 263.6 198.7 273.2 200.4 296.7 205.9 309.5 209.9 321.2 214.5 331.9 219.9 341.5 225.9 350 232.3 358.6 239.9 366.1 247.7 373.5 256.6 382.1 268.1 390.6 280.9 400.2 296.4 409.8 313" stroke="#c83030" stroke-width="1.5" fill="none" />
<path d="M89.5 400.4 113 357.9 135.4 320.1 155.7 288.9 174.9 262.4 184.5 250.4 194.1 239.2 203.8 229.1 212.3 221.1 221.9 213.1 230.4 207.2 236.9 203.7 243.3 201.4 247.5 200.4 252.9 199.8 262.5 200.2 272.1 201.9 295.6 207.6 308.4 211.6 320.1 216.3 330.8 221.7 340.4 227.6 349 233.9 357.5 241.4 365 249.1 373.5 259.3 382.1 270.8 390.6 283.5 400.2 298.9 409.8 315.5" stroke="#1a1010" stroke-width="1.5" fill="none" />
<path d="M89.5 62.9 92.7 64.5 96 66.1 99.2 67.7 102.4 69.2 105.7 70.7 109 72.2 112.3 73.7 115.6 75.1 118.9 76.5 122.2 77.9 125.5 79.3 128.9 80.6 132.2 82 135.5 83.4 138.9 84.7 142.2 86.1 145.5 87.5 148.9 88.8 152.2 90.2 155.5 91.6 158.8 93.1 162.1 94.5 165.4 96 168.6 97.5 171.9 99.1 175.1 100.7 178.3 102.3 181.5 103.9 184.7 105.6 187.9 107.3 191.1 109 194.2 110.8 197.3 112.5 200.5 114.3 203.6 116.1 206.7 118 209.8 119.8 212.8 121.7 215.9 123.6 218.9 125.6 221.9 127.5 224.9 129.5 227.9 131.5 230.9 133.6 233.8 135.6 236.8 137.7 239.6 139.9 242.5 142.1 245.3 144.4 248 146.7 250.7 149 253.5 151.4 256.1 153.8 258.8 156.2 261.5 158.6 264.2 161 267 163.3 269.7 165.6 272.5 167.9 275.3 170.1 278.1 172.4 280.9 174.7 283.6 177.1 286.3 179.5 288.9 182 291.4 184.6 293.9 187.2 296.3 189.9 298.6 192.6 300.9 195.3 303.2 198.1 305.5 200.9 307.6 203.8 309.8 206.7 311.9 209.6 314 212.5 316.1 215.5 318.1 218.4 320.1 221.4 322.2 224.4 324.2 227.4 326.2 230.3 328.3 233.3 330.3 236.3 332.3 239.2 334.4 242.2 336.4 245.2 338.4 248.2 340.4 251.2 342.3 254.2 344.3 257.2 346.3 260.2 348.3 263.2 350.2 266.2 352.2 269.3 354.2 272.3 356.2 275.3 358.1 278.3 360.1 281.3 362.1 284.3" fill="none" stroke="none" marker-start="url(#m7)" marker-mid="url(#m7)" marker-end="url(#m7)"/>
<path d="M89.5 400.4 91.2 397.2 92.9 394 94.6 390.9 96.3 387.7 98 384.5 99.7 381.4 101.5 378.2 103.2 375.1 104.9 371.9 106.7 368.8 108.4 365.6 110.2 362.5 112 359.3 113.7 356.2 115.5 353.1 117.3 349.9 119.1 346.8 120.9 343.7 122.7 340.6 124.5 337.5 126.3 334.4 128.1 331.3 129.9 328.2 131.8 325.1 133.6 322 135.5 318.9 137.3 315.8 139.2 312.7 141 309.6 142.9 306.6 144.8 303.5 146.7 300.4 148.6 297.4 150.5 294.3 152.4 291.3 154.3 288.2 156.3 285.2 158.2 282.1 160.2 279.1 162.1 276.1 164.1 273.1 166.1 270.1 168.1 267.1 170.1 264.1 172.1 261.1 174.2 258.2 176.2 255.2 178.3 252.3 180.4 249.3 182.5 246.4 184.6 243.5 186.7 240.6 188.9 237.7 191 234.8 193.2 232 195.4 229.1 197.6 226.3 199.9 223.5 202.2 220.7 204.4 217.9 206.7 215.1 209.1 212.4 211.4 209.7 213.8 207 216.2 204.3 218.7 201.7 221.1 199 223.6 196.4 226.2 193.9 228.7 191.4 231.3 188.9 234 186.4 236.7 184 239.4 181.7 242.2 179.5 245.1 177.3 248.1 175.3 251.1 173.4 254.2 171.5 257.4 169.8 260.6 168.1 263.8 166.5 267 164.9 270.3 163.3 273.5 161.8 276.8 160.3 280.1 159 283.5 157.8 287 157 290.6 156.6 294.2 156.6 297.8 157 301.3 157.9 304.7 159 308 160.5 311.1 162.4 314 164.4 316.9 166.6 319.6 168.9 322.3 171.3 324.9 173.8 327.5 176.3 330 178.9 332.5 181.5 334.9 184.2 337.2 187 339.4 189.8 341.7 192.6 343.8 195.5 345.9 198.4 348 201.3 350.1 204.3 352.1 207.3 354 210.3 356 213.3 357.9 216.4 359.8 219.4 361.7 222.5" fill="none" stroke="none" marker-start="url(#m7)" marker-mid="url(#m7)" marker-end="url(#m7)"/>
<path d="M89.5 73.1 114.6 81.6 141.1 91.2 167.7 101.4 194.2 112.3 219.3 123.1 245.8 135.1 272.3 147.8 298.8 161 324 174.2 350.5 188.7 377 203.8 403.5 219.5 455.2 251.8 481.7 269.4 508.2 287.5" stroke="#d84848" stroke-width="1.0" fill="none" />
<path d="M89.5 73.1 92.5 74.2 95.6 75.2 98.6 76.2 101.6 77.2 104.7 78.2 107.7 79.3 110.7 80.3 113.7 81.3 116.8 82.4 119.8 83.5 122.8 84.5 125.8 85.6 128.8 86.7 131.8 87.8 134.8 88.9 137.8 90 140.8 91.1 143.8 92.2 146.8 93.4 149.8 94.5 152.8 95.6 155.8 96.8 158.8 98 161.8 99.1 164.7 100.3 167.7 101.5 170.7 102.6 173.7 103.8 176.6 105 179.6 106.2 182.6 107.4 185.5 108.7 188.5 109.9 191.4 111.1 194.4 112.3 197.3 113.6 200.3 114.8 203.2 116.1 206.2 117.4 209.1 118.6 212 119.9 215 121.2 217.9 122.5 220.8 123.8 223.7 125.1 226.7 126.4 229.6 127.7 232.5 129 235.4 130.3 238.3 131.7 241.2 133 244.1 134.3 247 135.7 249.9 137 252.8 138.4 255.7 139.8 258.6 141.1 261.5 142.5 264.4 143.9 267.3 145.3 270.1 146.7 273 148.1 275.9 149.5 278.8 150.9 281.6 152.4 284.5 153.8 287.4 155.2 290.2 156.7 293.1 158.1 295.9 159.5 298.8 161 301.6 162.5 304.5 163.9 307.3 165.4 310.1 166.9 313 168.4 315.8 169.9 318.6 171.3 321.5 172.8 324.3 174.4 327.1 175.9 329.9 177.4 332.7 178.9 335.6 180.4 338.4 182 341.2 183.5 344 185 346.8 186.6 349.6 188.1 352.4 189.7 355.2 191.3 357.9 192.8 360.7 194.4 363.5 196 366.3 197.6 369.1 199.2 371.8 200.8 374.6 202.4 377.4 204 380.1 205.6 382.9 207.2 385.7 208.8 388.4 210.4 391.2 212.1 393.9 213.7 396.7 215.4 399.4 217 402.2 218.6 404.9 220.3 407.6 222 410.4 223.6 413.1 225.3 415.8 227 418.6 228.6 421.3 230.3 424 232 426.7 233.7 429.4 235.4 432.1 237.1 434.8 238.8 437.5 240.5 440.2 242.3 442.9 244 445.6 245.7 448.3 247.4 451 249.2 453.7 250.9 456.4 252.6 459.1 254.4 461.7 256.1 464.4 257.9 467.1 259.7 469.8 261.4 472.4 263.2 475.1 265 477.7 266.7 480.4 268.5 483.1 270.3 485.7 272.1 488.4 273.9 491 275.7 493.6 277.5 496.3 279.3 498.9 281.1 501.5 283 504.2 284.8 506.8 286.6" fill="none" stroke="none" marker-start="url(#m8)" marker-mid="url(#m8)" marker-end="url(#m8)"/>
<path d="M89.5 400.4 120.2 346 135.6 320.2 150.9 295.4 166.3 271.8 180.2 251.2 194.2 231.6 208.1 213.1 222.1 195.6 236 179.2 250 163.9 262.6 151.2 276.5 138.2 289.1 127.5 301.6 117.9 314.2 109.4 326.8 102 339.3 95.7 351.9 90.6 364.4 86.7 377 84 389.6 82.5 402.1 82.3 413.3 83.3 425.8 85.6 437 88.8 449.6 93.7 460.7 99.3 473.3 106.9 484.5 114.9 495.6 124.1 508.2 135.9" stroke="#d84848" stroke-width="1.0" fill="none" />
<path d="M89.5 400.4 91 397.6 92.6 394.8 94.1 392 95.7 389.2 97.2 386.4 98.8 383.6 100.3 380.8 101.9 378 103.5 375.2 105 372.4 106.6 369.6 108.2 366.9 109.8 364.1 111.3 361.3 112.9 358.5 114.5 355.7 116.1 353 117.7 350.2 119.4 347.4 121 344.7 122.6 341.9 124.2 339.2 125.8 336.4 127.5 333.6 129.1 330.9 130.8 328.2 132.4 325.4 134.1 322.7 135.7 319.9 137.4 317.2 139 314.5 140.7 311.7 142.4 309 144.1 306.3 145.8 303.6 147.5 300.9 149.2 298.2 150.9 295.5 152.6 292.8 154.3 290.1 156.1 287.4 157.8 284.7 159.5 282 161.3 279.3 163 276.6 164.8 274 166.6 271.3 168.3 268.6 170.1 266 171.9 263.3 173.7 260.7 175.5 258 177.3 255.4 179.1 252.8 181 250.1 182.8 247.5 184.6 244.9 186.5 242.3 188.3 239.7 190.2 237.1 192.1 234.5 194 231.9 195.9 229.3 197.8 226.7 199.7 224.2 201.6 221.6 203.5 219.1 205.5 216.5 207.4 214 209.4 211.5 211.4 208.9 213.3 206.4 215.3 203.9 217.3 201.4 219.3 198.9 221.4 196.5 223.4 194 225.4 191.5 227.5 189.1 229.6 186.6 231.7 184.2 233.8 181.8 235.9 179.4 238 177 240.1 174.6 242.3 172.2 244.4 169.9 246.6 167.5 248.8 165.2 251 162.9 253.2 160.6 255.4 158.3 257.7 156 260 153.7 262.2 151.5 264.5 149.3 266.8 147 269.2 144.8 271.5 142.7 273.9 140.5 276.3 138.4 278.7 136.3 281.1 134.2 283.5 132.1 286 130.1 288.5 128 291 126 293.5 124.1 296 122.1 298.6 120.2 301.2 118.3 303.8 116.4 306.4 114.6 309 112.8 311.7 111 314.4 109.3 317.1 107.6 319.8 106 322.6 104.3 325.4 102.8 328.2 101.2 331 99.7 333.9 98.3 336.8 96.9 339.7 95.6 342.6 94.3 345.6 93 348.5 91.9 351.5 90.7 354.6 89.7 357.6 88.7 360.7 87.8 363.7 86.9 366.8 86.1 369.9 85.4 373.1 84.7 376.2 84.1 379.4 83.6 382.6 83.2 385.7 82.8 388.9 82.6 392.1 82.4 395.3 82.3 398.5 82.3 401.7 82.3 404.9 82.5 408.1 82.7 411.3 83 414.5 83.4 417.6 83.9 420.8 84.5 423.9 85.1 427 85.9 430.1 86.7 433.2 87.6 436.2 88.5 439.3 89.6 442.3 90.7 445.3 91.9 448.2 93.1 451.1 94.4 454 95.8 456.9 97.2 459.7 98.7 462.5 100.2 465.3 101.8 468 103.5 470.7 105.2 473.4 106.9 476.1 108.7 478.7 110.6 481.3 112.5 483.8 114.4 486.4 116.4 488.8 118.3 491.3 120.4 493.7 122.5 496.2 124.6 498.5 126.7 500.9 128.9 503.2 131.1 505.5 133.3 507.8 135.5" fill="none" stroke="none" marker-start="url(#m8)" marker-mid="url(#m8)" marker-end="url(#m8)"/>
<path d="M89.5 59.5 114.6 68.2 141.1 78 167.7 88.5 194.2 99.6 219.3 110.8 245.8 123.1 272.3 136.2 298.8 149.9 324 163.4 350.5 178.4 377 194 403.5 210.2 428.6 226.2 455.2 243.8 481.7 261.9 508.2 280.7" stroke="#222" stroke-width="1.0" fill="none" />
<path d="M89.5 59.5 94.6 61.3 99.7 63 104.8 64.8 109.9 66.5 115 68.3 120.1 70.2 125.2 72 130.2 73.9 135.3 75.8 140.3 77.7 145.4 79.7 150.4 81.6 155.4 83.6 160.4 85.6 165.5 87.6 170.5 89.6 175.4 91.7 180.4 93.8 185.4 95.9 190.4 98 195.3 100.1 200.3 102.3 205.2 104.5 210.2 106.6 215.1 108.9 220 111.1 224.9 113.3 229.8 115.6 234.7 117.9 239.6 120.2 244.5 122.5 249.3 124.8 254.2 127.2 259.1 129.6 263.9 132 268.7 134.4 273.6 136.8 278.4 139.2 283.2 141.7 288 144.2 292.8 146.7 297.5 149.2 302.3 151.7 307.1 154.3 311.8 156.8 316.6 159.4 321.3 162 326 164.6 330.8 167.2 335.5 169.8 340.2 172.5 344.9 175.2 349.6 177.9 354.2 180.6 358.9 183.3 363.6 186 368.2 188.7 372.9 191.5 377.5 194.3 382.1 197.1 386.7 199.9 391.3 202.7 395.9 205.5 400.5 208.4 405.1 211.2 409.7 214.1 414.2 217 418.8 219.9 423.3 222.8 427.9 225.7 432.4 228.7 436.9 231.6 441.4 234.6 445.9 237.6 450.4 240.6 454.9 243.6 459.4 246.6 463.9 249.6 468.3 252.7 472.8 255.7 477.2 258.8 481.6 261.9 486.1 265 490.5 268.1 494.9 271.2 499.3 274.4 503.7 277.5 508.1 280.6" fill="none" stroke="none" marker-start="url(#m9)" marker-mid="url(#m9)" marker-end="url(#m9)"/>
<path d="M89.5 400.4 120.2 343.7 135.6 316.8 150.9 290.9 166.3 266.2 180.2 244.7 194.2 224.2 208.1 204.8 222.1 186.5 236 169.2 250 153.2 262.6 139.8 276.5 126.1 289.1 114.9 301.6 104.7 314.2 95.7 326.8 87.8 339.3 81.1 351.9 75.6 364.4 71.3 377 68.3 389.6 66.6 402.1 66.2 413.3 66.9 425.8 69.1 437 72.3 449.6 77.1 460.7 82.7 473.3 90.4 484.5 98.5 495.6 107.9 508.2 119.9" stroke="#222" stroke-width="1.0" fill="none" />
<path d="M89.5 400.4 92 395.6 94.5 390.8 97.1 386.1 99.6 381.3 102.2 376.6 104.7 371.8 107.3 367.1 109.9 362.3 112.5 357.6 115.1 352.9 117.7 348.1 120.3 343.4 123 338.7 125.7 334 128.3 329.3 131 324.6 133.7 320 136.4 315.3 139.2 310.6 141.9 306 144.7 301.3 147.4 296.7 150.2 292.1 153 287.5 155.8 282.9 158.7 278.3 161.5 273.7 164.4 269.1 167.3 264.5 170.2 260 173.1 255.5 176.1 250.9 179.1 246.4 182.1 241.9 185.1 237.5 188.1 233 191.2 228.5 194.3 224.1 197.4 219.7 200.5 215.3 203.7 210.9 206.8 206.6 210 202.2 213.3 197.9 216.6 193.6 219.9 189.3 223.2 185.1 226.5 180.8 229.9 176.6 233.4 172.5 236.8 168.3 240.3 164.2 243.9 160.1 247.4 156.1 251 152.1 254.7 148.1 258.4 144.1 262.1 140.2 265.9 136.4 269.7 132.6 273.6 128.8 277.6 125.1 281.5 121.5 285.6 117.9 289.7 114.4 293.8 110.9 298 107.5 302.3 104.2 306.6 101 311 97.9 315.5 94.8 320 91.9 324.6 89.1 329.3 86.4 334 83.8 338.8 81.3 343.7 79 348.7 76.9 353.7 74.9 358.8 73.1 363.9 71.5 369.1 70 374.4 68.8 379.7 67.8 385.1 67 390.4 66.5 395.8 66.2 401.2 66.1 406.6 66.3 412 66.8 417.4 67.5 422.7 68.4 427.9 69.6 433.1 71.1 438.3 72.7 443.4 74.6 448.4 76.6 453.3 78.9 458.1 81.3 462.8 83.9 467.5 86.7 472 89.6 476.5 92.6 480.8 95.8 485.1 99.1 489.3 102.5 493.4 106 497.4 109.6 501.4 113.3 505.3 117" fill="none" stroke="none" marker-start="url(#m9)" marker-mid="url(#m9)" marker-end="url(#m9)"/>
<path d="M89.5 52 131.3 68.2 199.7 93.6 233.9 107.4 255.4 116.9 278.2 127.8 301 139.3 323.8 151.5 351.6 167.2 379.5 183.9 401 197.5 417.5 209.1 427.6 217.1 436.5 225.3 469.4 260.7" stroke="#111" stroke-width="1.5" fill="none" stroke-dasharray="4 3"/>
<path d="M89.5 52 97 54.9 104.4 57.8 111.9 60.7 119.3 63.6 126.8 66.4 134.3 69.3 141.8 72.1 149.3 74.9 156.8 77.6 164.3 80.4 171.8 83.2 179.3 85.9 186.8 88.7 194.3 91.6 201.7 94.4 209.2 97.3 216.6 100.3 224 103.3 231.4 106.4 238.8 109.5 246.1 112.7 253.4 116 260.7 119.4 267.9 122.8 275.1 126.3 282.3 129.8 289.4 133.4 296.6 137 303.7 140.7 310.7 144.4 317.8 148.2 324.8 152 331.8 155.9 338.8 159.8 345.7 163.8 352.6 167.8 359.5 171.9 366.4 176 373.3 180.1 380.1 184.3 386.9 188.5 393.7 192.8 400.4 197.1 407 201.6 413.6 206.2 420 211 426.2 216 432.2 221.2 438 226.8 443.5 232.6 449 238.4 454.3 244.3 459.7 250.3 465.1 256.2" fill="none" stroke="none" marker-start="url(#m10)" marker-mid="url(#m10)" marker-end="url(#m10)"/>
<path d="M89.5 400.4 118.6 345.5 149 292 164.2 266.6 179.4 242.2 194.6 218.8 208.5 198.4 222.5 178.9 235.1 162.1 247.8 146.2 260.5 131.5 273.1 117.7 285.8 105.1 298.5 93.5 309.8 84.2 322.5 74.9 335.2 66.9 347.8 60.1 360.5 54.7 373.2 50.6 385.8 47.9 397.2 46.7 407.4 47.1 415 48.5 422.6 51.1 428.9 54.4 435.2 59.2 441.6 65.6 449.2 74.7 469.4 103.3" stroke="#111" stroke-width="1.5" fill="none" stroke-dasharray="4 3"/>
<path d="M89.5 400.4 93.2 393.3 96.9 386.2 100.6 379.1 104.3 372 108.1 365 111.8 357.9 115.7 350.9 119.5 343.9 123.4 336.9 127.3 329.9 131.2 322.9 135.1 315.9 139.1 309 143.1 302.1 147.1 295.2 151.2 288.3 155.3 281.4 159.4 274.5 163.5 267.7 167.7 260.9 171.9 254.1 176.2 247.3 180.5 240.5 184.8 233.8 189.2 227.1 193.6 220.4 198 213.8 202.5 207.1 207 200.5 211.6 194 216.2 187.5 220.9 181 225.7 174.5 230.5 168.1 235.3 161.8 240.3 155.5 245.3 149.3 250.4 143.1 255.6 137 260.9 131 266.2 125.1 271.7 119.2 277.2 113.5 282.9 107.8 288.7 102.3 294.6 96.9 300.6 91.7 306.8 86.6 313.1 81.7 319.6 76.9 326.2 72.4 333 68.2 339.9 64.2 347 60.5 354.3 57.2 361.7 54.2 369.3 51.7 377 49.6 384.9 48.1 392.8 47 400.8 46.7 408.8 47.2 416.6 48.9 424.1 51.7 431 55.8 437.1 60.9 442.6 66.7 447.7 72.9 452.5 79.2 457.2 85.7 461.8 92.3 466.3 98.9" fill="none" stroke="none" marker-start="url(#m10)" marker-mid="url(#m10)" marker-end="url(#m10)"/>
<rect x="89.5" y="25.3" width="476" height="375.2" fill="none" stroke="#111" stroke-width="1.3"/>
<line x1="82.5" y1="400.5" x2="89.5" y2="400.5" stroke="#111" stroke-width="1.1" />
<text x="79" y="405.8" font-size="15" text-anchor="end" fill="#222" font-weight="normal" >0.0</text>
<line x1="85" y1="383.4" x2="89.5" y2="383.4" stroke="#111" stroke-width="1.1" />
<line x1="82.5" y1="366.4" x2="89.5" y2="366.4" stroke="#111" stroke-width="1.1" />
<text x="79" y="371.7" font-size="15" text-anchor="end" fill="#222" font-weight="normal" >0.1</text>
<line x1="85" y1="349.4" x2="89.5" y2="349.4" stroke="#111" stroke-width="1.1" />
<line x1="82.5" y1="332.3" x2="89.5" y2="332.3" stroke="#111" stroke-width="1.1" />
<text x="79" y="337.6" font-size="15" text-anchor="end" fill="#222" font-weight="normal" >0.2</text>
<line x1="85" y1="315.2" x2="89.5" y2="315.2" stroke="#111" stroke-width="1.1" />
<line x1="82.5" y1="298.2" x2="89.5" y2="298.2" stroke="#111" stroke-width="1.1" />
<text x="79" y="303.5" font-size="15" text-anchor="end" fill="#222" font-weight="normal" >0.3</text>
<line x1="85" y1="281.1" x2="89.5" y2="281.1" stroke="#111" stroke-width="1.1" />
<line x1="82.5" y1="264.1" x2="89.5" y2="264.1" stroke="#111" stroke-width="1.1" />
<text x="79" y="269.4" font-size="15" text-anchor="end" fill="#222" font-weight="normal" >0.4</text>
<line x1="85" y1="247" x2="89.5" y2="247" stroke="#111" stroke-width="1.1" />
<line x1="82.5" y1="230" x2="89.5" y2="230" stroke="#111" stroke-width="1.1" />
<text x="79" y="235.3" font-size="15" text-anchor="end" fill="#222" font-weight="normal" >0.5</text>
<line x1="85" y1="212.9" x2="89.5" y2="212.9" stroke="#111" stroke-width="1.1" />
<line x1="82.5" y1="195.9" x2="89.5" y2="195.9" stroke="#111" stroke-width="1.1" />
<text x="79" y="201.2" font-size="15" text-anchor="end" fill="#222" font-weight="normal" >0.6</text>
<line x1="85" y1="178.8" x2="89.5" y2="178.8" stroke="#111" stroke-width="1.1" />
<line x1="82.5" y1="161.8" x2="89.5" y2="161.8" stroke="#111" stroke-width="1.1" />
<text x="79" y="167.1" font-size="15" text-anchor="end" fill="#222" font-weight="normal" >0.7</text>
<line x1="85" y1="144.8" x2="89.5" y2="144.8" stroke="#111" stroke-width="1.1" />
<line x1="82.5" y1="127.7" x2="89.5" y2="127.7" stroke="#111" stroke-width="1.1" />
<text x="79" y="133" font-size="15" text-anchor="end" fill="#222" font-weight="normal" >0.8</text>
<line x1="85" y1="110.6" x2="89.5" y2="110.6" stroke="#111" stroke-width="1.1" />
<line x1="82.5" y1="93.6" x2="89.5" y2="93.6" stroke="#111" stroke-width="1.1" />
<text x="79" y="98.9" font-size="15" text-anchor="end" fill="#222" font-weight="normal" >0.9</text>
<line x1="85" y1="76.5" x2="89.5" y2="76.5" stroke="#111" stroke-width="1.1" />
<line x1="82.5" y1="59.5" x2="89.5" y2="59.5" stroke="#111" stroke-width="1.1" />
<text x="79" y="64.8" font-size="15" text-anchor="end" fill="#222" font-weight="normal" >1.0</text>
<line x1="85" y1="42.4" x2="89.5" y2="42.4" stroke="#111" stroke-width="1.1" />
<line x1="82.5" y1="25.4" x2="89.5" y2="25.4" stroke="#111" stroke-width="1.1" />
<text x="79" y="30.7" font-size="15" text-anchor="end" fill="#222" font-weight="normal" >1.1</text>
<line x1="558.5" y1="400.4" x2="565.5" y2="400.4" stroke="#111" stroke-width="1.1" />
<text x="573" y="405.7" font-size="15" text-anchor="start" fill="#222" font-weight="normal" >0.0</text>
<line x1="561" y1="373.6" x2="565.5" y2="373.6" stroke="#111" stroke-width="1.1" />
<line x1="558.5" y1="346.8" x2="565.5" y2="346.8" stroke="#111" stroke-width="1.1" />
<text x="573" y="352.1" font-size="15" text-anchor="start" fill="#222" font-weight="normal" >0.1</text>
<line x1="561" y1="320" x2="565.5" y2="320" stroke="#111" stroke-width="1.1" />
<line x1="558.5" y1="293.2" x2="565.5" y2="293.2" stroke="#111" stroke-width="1.1" />
<text x="573" y="298.5" font-size="15" text-anchor="start" fill="#222" font-weight="normal" >0.2</text>
<line x1="561" y1="266.4" x2="565.5" y2="266.4" stroke="#111" stroke-width="1.1" />
<line x1="558.5" y1="239.6" x2="565.5" y2="239.6" stroke="#111" stroke-width="1.1" />
<text x="573" y="244.9" font-size="15" text-anchor="start" fill="#222" font-weight="normal" >0.3</text>
<line x1="561" y1="212.8" x2="565.5" y2="212.8" stroke="#111" stroke-width="1.1" />
<line x1="558.5" y1="186" x2="565.5" y2="186" stroke="#111" stroke-width="1.1" />
<text x="573" y="191.3" font-size="15" text-anchor="start" fill="#222" font-weight="normal" >0.4</text>
<line x1="561" y1="159.2" x2="565.5" y2="159.2" stroke="#111" stroke-width="1.1" />
<line x1="558.5" y1="132.4" x2="565.5" y2="132.4" stroke="#111" stroke-width="1.1" />
<text x="573" y="137.7" font-size="15" text-anchor="start" fill="#222" font-weight="normal" >0.5</text>
<line x1="561" y1="105.6" x2="565.5" y2="105.6" stroke="#111" stroke-width="1.1" />
<line x1="558.5" y1="78.8" x2="565.5" y2="78.8" stroke="#111" stroke-width="1.1" />
<text x="573" y="84.1" font-size="15" text-anchor="start" fill="#222" font-weight="normal" >0.6</text>
<line x1="561" y1="52" x2="565.5" y2="52" stroke="#111" stroke-width="1.1" />
<line x1="558.5" y1="25.2" x2="565.5" y2="25.2" stroke="#111" stroke-width="1.1" />
<text x="573" y="30.5" font-size="15" text-anchor="start" fill="#222" font-weight="normal" >0.7</text>
<line x1="89.5" y1="400.5" x2="89.5" y2="405.5" stroke="#111" stroke-width="1.1" />
<text x="89.5" y="424" font-size="15" text-anchor="middle" fill="#222" font-weight="normal" >0.0</text>
<line x1="117.6" y1="400.5" x2="117.6" y2="404.5" stroke="#111" stroke-width="1.1" />
<line x1="145.7" y1="400.5" x2="145.7" y2="405.5" stroke="#111" stroke-width="1.1" />
<text x="145.7" y="424" font-size="15" text-anchor="middle" fill="#222" font-weight="normal" >0.2</text>
<line x1="173.8" y1="400.5" x2="173.8" y2="404.5" stroke="#111" stroke-width="1.1" />
<line x1="201.9" y1="400.5" x2="201.9" y2="405.5" stroke="#111" stroke-width="1.1" />
<text x="201.9" y="424" font-size="15" text-anchor="middle" fill="#222" font-weight="normal" >0.4</text>
<line x1="230" y1="400.5" x2="230" y2="404.5" stroke="#111" stroke-width="1.1" />
<line x1="258.1" y1="400.5" x2="258.1" y2="405.5" stroke="#111" stroke-width="1.1" />
<text x="258.1" y="424" font-size="15" text-anchor="middle" fill="#222" font-weight="normal" >0.6</text>
<line x1="286.2" y1="400.5" x2="286.2" y2="404.5" stroke="#111" stroke-width="1.1" />
<line x1="314.3" y1="400.5" x2="314.3" y2="405.5" stroke="#111" stroke-width="1.1" />
<text x="314.3" y="424" font-size="15" text-anchor="middle" fill="#222" font-weight="normal" >0.8</text>
<line x1="342.4" y1="400.5" x2="342.4" y2="404.5" stroke="#111" stroke-width="1.1" />
<line x1="370.5" y1="400.5" x2="370.5" y2="405.5" stroke="#111" stroke-width="1.1" />
<text x="370.5" y="424" font-size="15" text-anchor="middle" fill="#222" font-weight="normal" >1.0</text>
<line x1="398.6" y1="400.5" x2="398.6" y2="404.5" stroke="#111" stroke-width="1.1" />
<line x1="426.7" y1="400.5" x2="426.7" y2="405.5" stroke="#111" stroke-width="1.1" />
<text x="426.7" y="424" font-size="15" text-anchor="middle" fill="#222" font-weight="normal" >1.2</text>
<line x1="454.8" y1="400.5" x2="454.8" y2="404.5" stroke="#111" stroke-width="1.1" />
<line x1="482.9" y1="400.5" x2="482.9" y2="405.5" stroke="#111" stroke-width="1.1" />
<text x="482.9" y="424" font-size="15" text-anchor="middle" fill="#222" font-weight="normal" >1.4</text>
<line x1="511" y1="400.5" x2="511" y2="404.5" stroke="#111" stroke-width="1.1" />
<line x1="539.1" y1="400.5" x2="539.1" y2="405.5" stroke="#111" stroke-width="1.1" />
<text x="539.1" y="424" font-size="15" text-anchor="middle" fill="#222" font-weight="normal" >1.6</text>
<text x="327.5" y="444" font-size="17" text-anchor="middle" fill="#222" font-weight="normal" >Current density (A cm<tspan font-size="11" dy="-6">−2</tspan><tspan dy="6">)</tspan></text>
<text transform="translate(35 198) rotate(-90)" font-size="17" text-anchor="middle" fill="#222">Voltage (V)</text>
<text transform="translate(620 213) rotate(-90)" font-size="17" text-anchor="middle" fill="#222">Power density (W cm<tspan font-size="11" dy="-6">−2</tspan><tspan dy="6">)</tspan></text>
<text x="17" y="27" font-size="20" text-anchor="start" fill="#000" font-weight="bold" >a</text>
<text x="513" y="49" font-size="16" text-anchor="middle" fill="#222" font-weight="normal" >600 °C</text>
<text x="412" y="46" font-size="15" text-anchor="start" fill="#222" font-weight="normal" >F1</text>
<text x="490" y="104" font-size="15" text-anchor="start" fill="#222" font-weight="normal" >F2</text>
<text x="506" y="151" font-size="15" text-anchor="start" fill="#c84848" font-weight="normal" >F3</text>
<text x="366" y="230" font-size="15" text-anchor="start" fill="#222" font-weight="normal" >F4</text>
<text x="325" y="198" font-size="15" text-anchor="start" fill="#5a5a9a" font-weight="normal" >F5</text>
<text x="414" y="275" font-size="15" text-anchor="start" fill="#c84848" font-weight="normal" >F8</text>
<text x="420" y="297" font-size="15" text-anchor="start" fill="#c84848" font-weight="normal" >F6</text>
<text x="435" y="323" font-size="15" text-anchor="start" fill="#111" font-weight="normal" >F7</text>
<text x="432" y="344" font-size="15" text-anchor="start" fill="#9a6a5c" font-weight="normal" >F9</text>
<text x="393" y="398" font-size="15" text-anchor="start" fill="#2aa9dc" font-weight="normal" >F10</text>
<text x="279" y="386" font-size="15" text-anchor="start" fill="#1f9a5c" font-weight="normal" >F11</text>
<text x="203" y="374" font-size="15" text-anchor="start" fill="#c02a98" font-weight="normal" >F12</text>
<line x1="357" y1="268.5" x2="401" y2="268.5" stroke="#d03838" stroke-width="1.1" stroke-dasharray="2 2"/>
<path d="M410 268.5L401 272.5L403 268.5L401 264.5z" fill="#d03838"/>
<line x1="398" y1="290.5" x2="409" y2="290.5" stroke="#d03838" stroke-width="1.1" stroke-dasharray="2 2"/>
<path d="M418 290.5L409 294.5L411 290.5L409 286.5z" fill="#d03838"/>
<line x1="410" y1="316.5" x2="422" y2="316.5" stroke="#111" stroke-width="1.1" stroke-dasharray="2 2"/>
<path d="M431 316.5L422 320.5L424 316.5L422 312.5z" fill="#111"/>
<line x1="412" y1="336.5" x2="419" y2="336.5" stroke="#9a6a5c" stroke-width="1.1" />
<path d="M428 336.5L419 340.5L421 336.5L419 332.5z" fill="#9a6a5c"/>
<line x1="377" y1="368" x2="399" y2="379" stroke="#2aa9dc" stroke-width="1.1" stroke-dasharray="2 2"/>
<path d="M407 383L397.2 382.6L400.7 379.9L400.7 375.4z" fill="#2aa9dc"/>
<line x1="331" y1="379.5" x2="317" y2="379.5" stroke="#1f9a5c" stroke-width="1.1" stroke-dasharray="2 2"/>
<path d="M308 379.5L317 375.5L315 379.5L317 383.5z" fill="#1f9a5c"/>
<line x1="262" y1="368" x2="246" y2="368" stroke="#c02a98" stroke-width="1.1" stroke-dasharray="2 2"/>
<path d="M237 368L246 364L244 368L246 372z" fill="#c02a98"/>
</g>
<g id="pb">
<text x="633" y="26" font-size="20" text-anchor="start" fill="#000" font-weight="bold" >b</text>
<rect x="659" y="28.4" width="67.5" height="20.1" fill="#64c6f0"/>
<rect x="659" y="59.8" width="115.8" height="20.2" fill="#64c6f0"/>
<rect x="659" y="90.9" width="132" height="20.4" fill="#64c6f0"/>
<rect x="659" y="122" width="144" height="20" fill="#64c6f0"/>
<rect x="659" y="154" width="148.4" height="19.9" fill="#64c6f0"/>
<rect x="659" y="184.8" width="148" height="20.8" fill="#64c6f0"/>
<rect x="659" y="216.9" width="152.3" height="20.1" fill="#64c6f0"/>
<rect x="659" y="248.3" width="164.7" height="19.8" fill="#64c6f0"/>
<rect x="659" y="279.4" width="180.1" height="20.5" fill="#64c6f0"/>
<rect x="659" y="311.1" width="235.8" height="19.9" fill="#64c6f0"/>
<rect x="659" y="342.2" width="248.3" height="20.2" fill="#64c6f0"/>
<rect x="659" y="373.3" width="264.3" height="20.2" fill="#64c6f0"/>
<text x="664" y="43" font-size="12.4" text-anchor="start" fill="#1a1a1a" font-weight="normal" >F12 Iso-octane (O:C = 3.2)</text>
<text x="664" y="74.4" font-size="12.4" text-anchor="start" fill="#1a1a1a" font-weight="normal" >F11 Methane (O:C = 2.5)</text>
<text x="664" y="105.6" font-size="12.4" text-anchor="start" fill="#1a1a1a" font-weight="normal" >F10 Ethanol (O:C = 4)</text>
<text x="664" y="136.5" font-size="12.4" text-anchor="start" fill="#1a1a1a" font-weight="normal" >F9 Methane (O:C = 2)</text>
<text x="664" y="168.4" font-size="12.4" text-anchor="start" fill="#1a1a1a" font-weight="normal" >F7 NG with H<tspan font-size="9" dy="3">2</tspan><tspan dy="-3">S (O:C = 2)</tspan></text>
<text x="664" y="199.7" font-size="12.4" text-anchor="start" fill="#1a1a1a" font-weight="normal" >F6 NG without H<tspan font-size="9" dy="3">2</tspan><tspan dy="-3">S (O:C = 2)</tspan></text>
<text x="664" y="231.4" font-size="12.4" text-anchor="start" fill="#1a1a1a" font-weight="normal" >F8 Propane (O:C = 1.67)</text>
<text x="664" y="262.7" font-size="12.4" text-anchor="start" fill="#1a1a1a" font-weight="normal" >F5 <tspan font-style="italic">n</tspan>-Butane (O:C = 2.75)</text>
<text x="664" y="294.1" font-size="12.4" text-anchor="start" fill="#1a1a1a" font-weight="normal" >F4 Iso-butane (O:C = 2.75)</text>
<text x="664" y="325.6" font-size="12.4" text-anchor="start" fill="#1a1a1a" font-weight="normal" >F3 Methanol (O:C = 2.5)</text>
<text x="664" y="356.8" font-size="12.4" text-anchor="start" fill="#1a1a1a" font-weight="normal" >F2 Ammonia</text>
<text x="664" y="387.9" font-size="12.4" text-anchor="start" fill="#1a1a1a" font-weight="normal" >F1 Hydrogen</text>
<line x1="659" y1="20" x2="659" y2="401" stroke="#111" stroke-width="1.3" />
<line x1="658.4" y1="400.3" x2="944.6" y2="400.3" stroke="#111" stroke-width="1.3" />
<line x1="659" y1="400.3" x2="659" y2="406.3" stroke="#111" stroke-width="1.1" />
<text x="659" y="421.5" font-size="15" text-anchor="middle" fill="#222" font-weight="normal" >0.0</text>
<line x1="679.1" y1="400.3" x2="679.1" y2="403.8" stroke="#111" stroke-width="1.1" />
<line x1="699.2" y1="400.3" x2="699.2" y2="406.3" stroke="#111" stroke-width="1.1" />
<text x="699.2" y="421.5" font-size="15" text-anchor="middle" fill="#222" font-weight="normal" >0.1</text>
<line x1="719.4" y1="400.3" x2="719.4" y2="403.8" stroke="#111" stroke-width="1.1" />
<line x1="739.5" y1="400.3" x2="739.5" y2="406.3" stroke="#111" stroke-width="1.1" />
<text x="739.5" y="421.5" font-size="15" text-anchor="middle" fill="#222" font-weight="normal" >0.2</text>
<line x1="759.6" y1="400.3" x2="759.6" y2="403.8" stroke="#111" stroke-width="1.1" />
<line x1="779.8" y1="400.3" x2="779.8" y2="406.3" stroke="#111" stroke-width="1.1" />
<text x="779.8" y="421.5" font-size="15" text-anchor="middle" fill="#222" font-weight="normal" >0.3</text>
<line x1="799.9" y1="400.3" x2="799.9" y2="403.8" stroke="#111" stroke-width="1.1" />
<line x1="820" y1="400.3" x2="820" y2="406.3" stroke="#111" stroke-width="1.1" />
<text x="820" y="421.5" font-size="15" text-anchor="middle" fill="#222" font-weight="normal" >0.4</text>
<line x1="840.1" y1="400.3" x2="840.1" y2="403.8" stroke="#111" stroke-width="1.1" />
<line x1="860.2" y1="400.3" x2="860.2" y2="406.3" stroke="#111" stroke-width="1.1" />
<text x="860.2" y="421.5" font-size="15" text-anchor="middle" fill="#222" font-weight="normal" >0.5</text>
<line x1="880.4" y1="400.3" x2="880.4" y2="403.8" stroke="#111" stroke-width="1.1" />
<line x1="900.5" y1="400.3" x2="900.5" y2="406.3" stroke="#111" stroke-width="1.1" />
<text x="900.5" y="421.5" font-size="15" text-anchor="middle" fill="#222" font-weight="normal" >0.6</text>
<line x1="920.6" y1="400.3" x2="920.6" y2="403.8" stroke="#111" stroke-width="1.1" />
<line x1="940.8" y1="400.3" x2="940.8" y2="406.3" stroke="#111" stroke-width="1.1" />
<text x="940.8" y="421.5" font-size="15" text-anchor="middle" fill="#222" font-weight="normal" >0.7</text>
<text x="801" y="444.5" font-size="17" text-anchor="middle" fill="#222" font-weight="normal" >Peak power density (W cm<tspan font-size="11" dy="-6">−2</tspan><tspan dy="6">)</tspan></text>
<text x="1039" y="36.9" font-size="12.5" text-anchor="end" fill="#222" font-weight="normal" >~3,000 hours</text>
<text x="1039" y="51.9" font-size="12.5" text-anchor="end" fill="#222" font-weight="normal" >~4% per 1,000 hours</text>
<path d="M908.5 25.7Q903 25.7 903 29.7V36.1Q903 39.1 900.5 39.1Q903 39.1 903 42.1V48.6Q903 52.6 908.5 52.6" stroke="#222" stroke-width="1.4" fill="none"/>
<text x="1039" y="99.1" font-size="12.5" text-anchor="end" fill="#222" font-weight="normal" >~1,300 hours</text>
<text x="1039" y="114.3" font-size="12.5" text-anchor="end" fill="#222" font-weight="normal" >~1.5% per 1,000 hours</text>
<path d="M908.5 87.8Q903 87.8 903 91.8V97.8Q903 100.8 900.5 100.8Q903 100.8 903 103.8V109.7Q903 113.7 908.5 113.7" stroke="#222" stroke-width="1.4" fill="none"/>
<text x="1039" y="166.2" font-size="12.5" text-anchor="end" fill="#222" font-weight="normal" >~1,000 hours</text>
<text x="1039" y="181" font-size="12.5" text-anchor="end" fill="#222" font-weight="normal" >~10% per 1,000 hours</text>
<path d="M908.5 155Q903 155 903 159V165.5Q903 168.5 900.5 168.5Q903 168.5 903 171.5V178Q903 182 908.5 182" stroke="#222" stroke-width="1.4" fill="none"/>
<text x="1039" y="218.3" font-size="12.5" text-anchor="end" fill="#222" font-weight="normal" >~3,000 hours</text>
<text x="1039" y="236" font-size="12.5" text-anchor="end" fill="#222" font-weight="normal" >~1.5% per 1,000 hours</text>
<path d="M908.5 211.3Q903 211.3 903 215.3V221.2Q903 224.2 900.5 224.2Q903 224.2 903 227.2V233.2Q903 237.2 908.5 237.2" stroke="#222" stroke-width="1.4" fill="none"/>
<text x="1039" y="284.5" font-size="12.5" text-anchor="end" fill="#222" font-weight="normal" >~3,000 hours</text>
<text x="1039" y="299.3" font-size="12.5" text-anchor="end" fill="#222" font-weight="normal" >~0% per 1,000 hours</text>
<path d="M908.5 274Q903 274 903 278V284.4Q903 287.4 900.5 287.4Q903 287.4 903 290.4V296.7Q903 300.7 908.5 300.7" stroke="#222" stroke-width="1.4" fill="none"/>
<text x="1039" y="315.6" font-size="12.5" text-anchor="end" fill="#222" font-weight="normal" >~8,000 hours</text>
<text x="1039" y="330.4" font-size="12.5" text-anchor="end" fill="#222" font-weight="normal" >~1% per 1,000 hours</text>
<path d="M908.5 306.3Q903 306.3 903 310.3V316.5Q903 319.5 900.5 319.5Q903 319.5 903 322.5V328.6Q903 332.6 908.5 332.6" stroke="#222" stroke-width="1.4" fill="none"/>
</g>
<g id="pc">
<text x="17" y="476" font-size="20" text-anchor="start" fill="#000" font-weight="bold" >c</text>
<path d="M232.6 661.9 322.2 607.8 373.1 577.2 416 552.8 L479.7 661.9 Z" fill="#bfe0cc"/>
<path d="M119.7 629.1L460.8 629.1M138.6 596.3L441.8 596.3M157.6 563.4L422.8 563.4M176.5 530.6L403.9 530.6M195.4 497.8L384.9 497.8M138.6 661.9L250.7 467.8M176.5 661.9L288.6 467.8M214.4 661.9L326.5 467.8M252.3 661.9L364.4 467.8M290.2 661.9L384.9 497.8M328.1 661.9L403.9 530.6M366 661.9L422.8 563.4M403.9 661.9L441.8 596.3M441.8 661.9L460.8 629.1M138.6 661.9L119.7 629.1M176.5 661.9L138.6 596.3M214.4 661.9L157.6 563.4M252.3 661.9L176.5 530.6M290.2 661.9L195.4 497.8M328.1 661.9L216 467.8M366 661.9L253.9 467.8M403.9 661.9L291.8 467.8M441.8 661.9L329.7 467.8" stroke="#c4c4c4" stroke-width="1" fill="none"/>
<defs><filter id="blr" x="-50%" y="-50%" width="200%" height="200%"><feGaussianBlur stdDeviation="3"/></filter></defs>
<ellipse cx="401" cy="637" rx="50" ry="20" fill="#f4fbf6" filter="url(#blr)"/>
<rect x="372" y="579" width="75" height="17" fill="#fff" opacity="0.85" filter="url(#blr)"/>
<rect x="299" y="608" width="72" height="18" fill="#fff" opacity="0.85" filter="url(#blr)"/>
<rect x="296" y="533" width="50" height="17" fill="#fff" opacity="0.85" filter="url(#blr)"/>
<path d="M212.8 467.8L100.7 661.9L479.7 661.9L367.6 467.8" stroke="#111" stroke-width="1.6" fill="none"/>
<path d="M100.7 661.9l-3 5.2M138.6 661.9l-3 5.2M176.5 661.9l-3 5.2M214.4 661.9l-3 5.2M252.3 661.9l-3 5.2M290.2 661.9l-3 5.2M328.1 661.9l-3 5.2M366 661.9l-3 5.2M403.9 661.9l-3 5.2M441.8 661.9l-3 5.2M479.7 661.9l-3 5.2M479.7 661.9h6M460.8 629.1h6M441.8 596.3h6M422.8 563.4h6M403.9 530.6h6M384.9 497.8h6M195.4 497.8l-3 -5.2M176.5 530.6l-3 -5.2M157.6 563.4l-3 -5.2M138.6 596.3l-3 -5.2M119.7 629.1l-3 -5.2M100.7 661.9l-3 -5.2" stroke="#111" stroke-width="1.3" fill="none"/>
<text transform="translate(90.7 677.5) rotate(-60)" font-size="14" text-anchor="middle" dominant-baseline="central" fill="#222">0.0</text>
<text transform="translate(128.6 677.5) rotate(-60)" font-size="14" text-anchor="middle" dominant-baseline="central" fill="#222">0.1</text>
<text transform="translate(166.5 677.5) rotate(-60)" font-size="14" text-anchor="middle" dominant-baseline="central" fill="#222">0.2</text>
<text transform="translate(204.4 677.5) rotate(-60)" font-size="14" text-anchor="middle" dominant-baseline="central" fill="#222">0.3</text>
<text transform="translate(242.3 677.5) rotate(-60)" font-size="14" text-anchor="middle" dominant-baseline="central" fill="#222">0.4</text>
<text transform="translate(280.2 677.5) rotate(-60)" font-size="14" text-anchor="middle" dominant-baseline="central" fill="#222">0.5</text>
<text transform="translate(318.1 677.5) rotate(-60)" font-size="14" text-anchor="middle" dominant-baseline="central" fill="#222">0.6</text>
<text transform="translate(356 677.5) rotate(-60)" font-size="14" text-anchor="middle" dominant-baseline="central" fill="#222">0.7</text>
<text transform="translate(393.9 677.5) rotate(-60)" font-size="14" text-anchor="middle" dominant-baseline="central" fill="#222">0.8</text>
<text transform="translate(431.8 677.5) rotate(-60)" font-size="14" text-anchor="middle" dominant-baseline="central" fill="#222">0.9</text>
<text transform="translate(469.7 677.5) rotate(-60)" font-size="14" text-anchor="middle" dominant-baseline="central" fill="#222">1.0</text>
<text x="488.7" y="666.9" font-size="14" text-anchor="start" fill="#222" font-weight="normal" >0.0</text>
<text x="469.8" y="634.1" font-size="14" text-anchor="start" fill="#222" font-weight="normal" >0.1</text>
<text x="450.8" y="601.3" font-size="14" text-anchor="start" fill="#222" font-weight="normal" >0.2</text>
<text x="431.8" y="568.4" font-size="14" text-anchor="start" fill="#222" font-weight="normal" >0.3</text>
<text x="412.9" y="535.6" font-size="14" text-anchor="start" fill="#222" font-weight="normal" >0.4</text>
<text x="393.9" y="502.8" font-size="14" text-anchor="start" fill="#222" font-weight="normal" >0.5</text>
<text transform="translate(185 480) rotate(60)" font-size="14" text-anchor="middle" dominant-baseline="central" fill="#222">0.5</text>
<text transform="translate(165 512.5) rotate(60)" font-size="14" text-anchor="middle" dominant-baseline="central" fill="#222">0.6</text>
<text transform="translate(145 545) rotate(60)" font-size="14" text-anchor="middle" dominant-baseline="central" fill="#222">0.7</text>
<text transform="translate(127.5 580) rotate(60)" font-size="14" text-anchor="middle" dominant-baseline="central" fill="#222">0.8</text>
<text transform="translate(107.5 612.5) rotate(60)" font-size="14" text-anchor="middle" dominant-baseline="central" fill="#222">0.9</text>
<text transform="translate(90 645) rotate(60)" font-size="14" text-anchor="middle" dominant-baseline="central" fill="#222">1.0</text>
<text x="62.5" y="682" font-size="18" text-anchor="middle" fill="#222" font-weight="normal" >H</text>
<text x="495" y="682" font-size="18" text-anchor="middle" fill="#222" font-weight="normal" >O</text>
<path d="M128 616 141.5 621.2 148.3 623.2 159.6 624.8 168.6 625.5 175.4 625.2 182.1 624.3 204.7 618.6 218.2 613.3 261 593.5 297.1 579.1 315.2 570.9 333.2 561.8 355.8 549.9 398.6 525.3" stroke="#111" stroke-width="1.5" fill="none" />
<path d="M109 647 134.1 638 164.1 627.9 174.2 625.6 199.2 622.1 214.3 618.8 231.8 613.8 294.5 594.2 307 589.6 319.6 584.3 409.8 543.6" stroke="#111" stroke-width="1.5" fill="none" />
<path d="M117.5 633 152.2 630.8 179.5 627.2 229 619.3 278.6 610.8 293.5 608 305.9 605 315.8 601.9 328.2 597.3 357.9 584.4 370.3 578.1 387.6 568.5 414.9 551.8" stroke="#111" stroke-width="1.5" fill="none" />
<path d="M404.7 539.5L392.1 551L392.6 544.3L387.6 539.9z" fill="#d8322e"/>
<line x1="212.6" y1="616.7" x2="389.9" y2="545.5" stroke="#d8322e" stroke-width="1.4" />
<path d="M351.8 589.4L338 599.5L339.3 592.9L334.8 588z" fill="#3a5aa8"/>
<line x1="191" y1="635" x2="336.4" y2="593.8" stroke="#3a5aa8" stroke-width="1.4" />
<path d="M297.8 631.2L282 633.8L286 629L284.1 623z" fill="#d8322e"/>
<line x1="218" y1="617.5" x2="283.1" y2="628.4" stroke="#d8322e" stroke-width="1.4" stroke-dasharray="4 3"/>
<path d="M273.3 643.4L257.9 647.5L261.4 642.3L258.9 636.6z" fill="#3a5aa8"/>
<line x1="196" y1="636.5" x2="258.4" y2="642" stroke="#3a5aa8" stroke-width="1.4" stroke-dasharray="4 3"/>
<circle cx="186.7" cy="631.5" r="4.6" fill="#b4b4b8" stroke="#888" stroke-width="0.8"/>
<circle cx="208.1" cy="629.3" r="4.6" fill="#b4b4b8" stroke="#888" stroke-width="0.8"/>
<circle cx="226.7" cy="628.5" r="4.6" fill="#b4b4b8" stroke="#888" stroke-width="0.8"/>
<circle cx="207.4" cy="635.9" r="4.6" fill="#b4b4b8" stroke="#888" stroke-width="0.8"/>
<circle cx="214.1" cy="639.6" r="4.6" fill="#b4b4b8" stroke="#888" stroke-width="0.8"/>
<circle cx="191.1" cy="635.2" r="4.6" fill="#34448c" stroke="#223" stroke-width="0.8"/>
<circle cx="212.6" cy="616.7" r="4.6" fill="#c82828" stroke="#822" stroke-width="0.8"/>
<line x1="210" y1="506.7" x2="230" y2="506.7" stroke="#3d64b0" stroke-width="3" />
<text x="235" y="512" font-size="16" text-anchor="start" fill="#222" font-weight="normal" >CH<tspan font-size="10" dy="4">4</tspan></text>
<line x1="285.6" y1="506.7" x2="304.4" y2="506.7" stroke="#d8322e" stroke-width="3" />
<text x="306.5" y="512" font-size="16" text-anchor="start" fill="#222" font-weight="normal" >C<tspan font-size="10" dy="4">3</tspan><tspan dy="-4">H</tspan><tspan font-size="10" dy="4">8</tspan></text>
<text x="243.3" y="568" font-size="17" text-anchor="middle" fill="#222" font-weight="normal" >Deposits</text>
<text x="224.5" y="599" font-size="16" text-anchor="end" fill="#222" font-weight="normal" >700 °C</text>
<text x="298.8" y="547" font-size="16" text-anchor="start" fill="#222" font-weight="normal" >PCFC</text>
<text x="301.9" y="622.5" font-size="16" text-anchor="start" fill="#222" font-weight="normal" >600 °C</text>
<text x="374.2" y="593" font-size="16" text-anchor="start" fill="#222" font-weight="normal" >500 °C</text>
<text x="191.1" y="655.5" font-size="16" text-anchor="middle" fill="#222" font-weight="normal" >SOFC</text>
<text x="401" y="636" font-size="17" text-anchor="middle" fill="#222" font-weight="normal" >Total</text>
<text x="401" y="650.5" font-size="17" text-anchor="middle" fill="#222" font-weight="normal" >oxidation</text>
<path d="M226.5 593.5 231 593.5 235 600.6" stroke="#111" stroke-width="1.1" fill="none" />
<path d="M342.6 540.6 347 540.6 363 553.8" stroke="#111" stroke-width="1.1" fill="none" />
<path d="M299.8 617 292 617 281.5 598.6" stroke="#111" stroke-width="1.1" fill="none" />
<path d="M372 587.4 365 587.4 354.8 576.2" stroke="#111" stroke-width="1.1" fill="none" />
<path d="M214 650 224.4 650 231 641" stroke="#111" stroke-width="1.1" fill="none" />
<text x="93" y="565" font-size="18" font-style="italic" fill="#222" transform="rotate(-12 100 558)">X<tspan font-size="12" dy="5" font-style="normal">H</tspan></text>
<path d="M101 569L86 597" stroke="#111" stroke-width="1.8"/><path d="M82 603L84 590L91 594z" fill="#111"/>
<text x="146" y="706" font-size="18" font-style="italic" fill="#222">X<tspan font-size="12" dy="5" font-style="normal">O</tspan></text>
<path d="M164 701H196" stroke="#111" stroke-width="1.8"/><path d="M203 701L192 696V706z" fill="#111"/>
<text x="490" y="609" font-size="18" font-style="italic" fill="#222" transform="rotate(-12 497 603)">X<tspan font-size="12" dy="5" font-style="normal">C</tspan></text>
<path d="M492 591L478 567" stroke="#111" stroke-width="1.8"/><path d="M473.3 560L482 569L475 573z" fill="#111"/>
</g>
<g id="pd">
<text x="540" y="477" font-size="20" text-anchor="start" fill="#000" font-weight="bold" >d</text>
<path d="M604.6 500.3 756.7 504.6 801.5 506.5 835.3 508.7 863.2 511.4 884.3 514.5 893.6 516.7 903.7 519.6 912.2 522.4 918.9 525.4 926.4 530 931.4 535.4 934.2 539.5 935.8 542.9 937.5 548.3 938.2 551.9 940.2 574.4 941.2 597.1 942.6 674.7" stroke="#3c6cc0" stroke-width="2.8" fill="none"  stroke-linejoin="round"/>
<path d="M604.6 503.4 689.9 506.2 765.1 509.3 807.4 511.6 839.5 514.3 864 517.3 881.8 520.5 891.9 523.4 917.2 531.9 928.4 536.4 931.4 538.3 933.8 540.4 936.9 545.3 938.5 551.3 939.9 562.1 940.9 576.8 941.6 596.2 942.6 674.7" stroke="#c8283a" stroke-width="2.8" fill="none"  stroke-linejoin="round"/>
<path d="M604.6 529.5 685.7 534 740.6 537.4 776.1 540.1 820.1 544 852.2 547.8 879.2 552.1 895.3 555.7 908.8 560.5 913 562.8 917.2 565.9 921.5 569.8 926.7 575.6 929.8 579.6 932.1 583.6 936.2 593.3 938.9 606.9 940.6 623 941.6 639.8 942.6 674.7" stroke="#a83048" stroke-width="3.0" fill="none" stroke-dasharray="6 4" stroke-linejoin="round"/>
<path d="M604.6 543.9 708.5 564 755 572.6 777 577.1 807.4 584.3 830.2 590.3 851.3 596.7 869.9 603.4 883.5 609.1 894.4 614.8 905.4 622 913.9 629 920.6 636.5 926.4 644.3 935.2 662.1 942.6 674.7" stroke="#a83048" stroke-width="3.0" fill="none" stroke-dasharray="6 4" stroke-linejoin="round"/>
<rect x="604.6" y="478.8" width="338" height="195.9" fill="none" stroke="#111" stroke-width="1.4"/>
<text x="596.5" y="636.4" font-size="15" text-anchor="end" fill="#222" font-weight="normal" >0.80</text>
<text x="596.5" y="592.8" font-size="15" text-anchor="end" fill="#222" font-weight="normal" >0.90</text>
<text x="596.5" y="549.2" font-size="15" text-anchor="end" fill="#222" font-weight="normal" >1.00</text>
<text x="596.5" y="505.6" font-size="15" text-anchor="end" fill="#222" font-weight="normal" >1.10</text>
<text x="596.5" y="680" font-size="15" text-anchor="end" fill="#222" font-weight="normal" >0.70</text>
<path d="M604.6 631.1h8M942.6 631.1h-9M604.6 587.5h8M942.6 587.5h-9M604.6 543.9h8M942.6 543.9h-9M604.6 500.3h8M942.6 500.3h-9M672.2 478.8v8M672.2 674.7v-8M739.8 478.8v8M739.8 674.7v-8M807.4 478.8v8M807.4 674.7v-8M875 478.8v8M875 674.7v-8" stroke="#111" stroke-width="1.3"/>
<text x="604.6" y="693" font-size="15" text-anchor="middle" fill="#222" font-weight="normal" >0</text>
<text x="672.2" y="693" font-size="15" text-anchor="middle" fill="#222" font-weight="normal" >0.2</text>
<text x="739.8" y="693" font-size="15" text-anchor="middle" fill="#222" font-weight="normal" >0.4</text>
<text x="807.4" y="693" font-size="15" text-anchor="middle" fill="#222" font-weight="normal" >0.6</text>
<text x="875" y="693" font-size="15" text-anchor="middle" fill="#222" font-weight="normal" >0.8</text>
<text x="942.6" y="693" font-size="15" text-anchor="middle" fill="#222" font-weight="normal" >1.0</text>
<text x="764" y="713" font-size="17.5" text-anchor="middle" fill="#222" font-weight="normal" >Fraction O added; fraction H removed</text>
<text transform="translate(563 585) rotate(-90)" font-size="17.5" text-anchor="middle" fill="#222">Open-circuit voltage (V)</text>
<text x="798.3" y="502.5" font-size="14.5" text-anchor="start" fill="#222" font-weight="normal" >PCFC, CH<tspan font-size="10" dy="4">4</tspan><tspan dy="-4"> 500 °C</tspan></text>
<text x="651.2" y="527" font-size="14.5" text-anchor="start" fill="#222" font-weight="normal" >PCFC, C<tspan font-size="10" dy="4">3</tspan><tspan dy="-4">H</tspan><tspan font-size="10" dy="4">8</tspan><tspan dy="-4"> 500 °C</tspan></text>
<text x="697.7" y="560.5" font-size="14.5" text-anchor="start" fill="#222" font-weight="normal" >SOFC, CH<tspan font-size="10" dy="4">4</tspan><tspan dy="-4"> 500 °C</tspan></text>
<text x="768.7" y="578" font-size="14.5" text-anchor="start" fill="#222" font-weight="normal" >SOFC, C<tspan font-size="10" dy="4">3</tspan><tspan dy="-4">H</tspan><tspan font-size="10" dy="4">8</tspan><tspan dy="-4"> 500 °C</tspan></text>
<text x="609.8" y="586.5" font-size="14.5" text-anchor="start" fill="#222" font-weight="normal" >SOFC, C<tspan font-size="10" dy="4">3</tspan><tspan dy="-4">H</tspan><tspan font-size="10" dy="4">8</tspan><tspan dy="-4"> 800 °C</tspan></text>
<text x="702.5" y="606.5" font-size="14.5" text-anchor="start" fill="#222" font-weight="normal" >SOFC, CH<tspan font-size="10" dy="4">4</tspan><tspan dy="-4"> 800 °C</tspan></text>
<text x="614" y="654.5" font-size="17.5" text-anchor="start" fill="#222" font-weight="normal" >Oxidizer: moist air</text>
<path d="M783 508 787 497 796 497" stroke="#111" stroke-width="1.1" fill="none" />
<path d="M782 521 790 521 795 511" stroke="#111" stroke-width="1.1" fill="none" />
<path d="M824 556 832 556 838 546" stroke="#111" stroke-width="1.1" fill="none" />
<path d="M902 573 908 573 913 563" stroke="#111" stroke-width="1.1" fill="none" />
<path d="M741 580 748 580 752 573" stroke="#111" stroke-width="1.1" fill="none" />
<path d="M828 601 834 601 838 592" stroke="#111" stroke-width="1.1" fill="none" />
</g>
<g id="pe">
<text x="17" y="748" font-size="20" text-anchor="start" fill="#000" font-weight="bold" >e</text>
<path d="M74 768.9 76 768.3 78 770.2 80 768.2 82 769.9 84 769.4 86 768.4 88 770.1 90 768.5 92 770 94 768.7 96 768.9 98 770.2 100 771.7 102 769.3 104 769.9 106 771.5 108 772.8 110 771.6 112 771.2 114 773.4 116 770.3 118 773.4 120 771.5 122 771.1 124 771.2 126 771.9 128 773.8 130 771.6 132 773.1 134 773.4 136 772.5 138 773.2 140 771.6 142 771.6 144 772.2 146 774 148 773.2 150 772.8 152 773.8 154 773.3 156 772.8 158 774.6 160 774.2 162 772.6 164 773.8 166 773.6 168 774.9 170 774.3 172 772.7 174 775.2 176 772.1 178 773.2 180 774.4 182 772.2 184 773.5 186 771.8 188 774.1 190 774.5 192 773.8 194 774.2 196 771.6 198 772.3 200 771.3 202 770.6 204 769.6 206 770.3 208 770 210 767.7 212 768.1 214 766 216 768.3 218 768.2 220 769.5 222 768.9 224 767 226 767.4 228 768.5 230 766.2 232 767.8 234 766.8 236 766.6 238 766.5 240 769.1 242 766.8 244 767.3 246 767.8 248 769.6 250 766.8 252 768.2 254 768.6 256 769.8 258 769.6 260 769.8 262 767.9 264 768.5 266 768.4 268 770.5 270 770.9 272 768.1 274 768.4 276 768.7 278 768.9 280 769.9 282 770.5 284 769.4 286 768.7 288 770.3 290 770.3 292 771.1 294 772.7 296 771.9 298 771.4 300 771.9 302 771.8 304 769.2 306 771.9 308 771.2 310 771.2 312 770.6 314 768.8 316 768.5 318 767.1 320 768.7 322 766.3 324 765.9 326 766.1 328 765.6 330 765.9 332 764.8 334 764.4 336 764.8 338 764.5 340 765.3 342 764 344 766.9 346 765.8 348 764 350 764.2 352 764.4 354 764.4 356 763.3 358 765.8 360 766.4 362 764.7 364 764.9 366 763.7 368 763.9 370 765 372 764.9 374 767.1 376 764.9 378 764.6 380 768.1 382 766.8 384 765.6 386 767.2 388 765.5 390 767.5 390 778.1 388 777.5 386 776.7 384 775 382 775.2 380 774.3 378 776.3 376 775.2 374 775.9 372 774.1 370 773.5 368 775.5 366 775.9 364 775.2 362 774.9 360 774.7 358 774.4 356 772.7 354 773.9 352 773.5 350 772.4 348 772.6 346 773.6 344 773.7 342 775.4 340 776.5 338 774.8 336 776.7 334 777 332 777 330 775 328 774.8 326 775.2 324 775.4 322 775.8 320 777.6 318 778.9 316 779.1 314 778.1 312 779.1 310 779.9 308 777.7 306 780.1 304 781.3 302 781.2 300 781.4 298 780.3 296 779 294 781.1 292 779.3 290 780.8 288 781.3 286 779.1 284 778.9 282 780.8 280 779.8 278 777.7 276 777.4 274 777.3 272 779.9 270 779.4 268 776.8 266 779.1 264 779.5 262 778.2 260 777 258 777.6 256 776.1 254 775.6 252 779 250 777.8 248 777.4 246 778.8 244 776.9 242 778.5 240 778.3 238 776 236 776.1 234 776.2 232 776 230 777.2 228 776 226 776.5 224 775.4 222 778.2 220 776.2 218 776.5 216 776.9 214 778 212 776.2 210 778.3 208 777.5 206 778.2 204 778.8 202 777.6 200 779.8 198 779.5 196 779.5 194 782.9 192 781.3 190 782.4 188 783.3 186 782.7 184 781.9 182 782.6 180 782.7 178 783.5 176 781.1 174 782.7 172 781.6 170 781.7 168 783.5 166 782.5 164 782.7 162 783.4 160 784 158 782.3 156 782.9 154 782.5 152 782.5 150 783.2 148 782.3 146 782.5 144 782.2 142 783.8 140 782.8 138 783.4 136 783.6 134 781 132 782 130 783.4 128 782.9 126 780.3 124 780.2 122 781.2 120 779.7 118 780.1 116 779.4 114 781.3 112 781.6 110 781.8 108 779 106 780.8 104 780.4 102 778.4 100 780.9 98 781.1 96 778.3 94 780.9 92 778.8 90 779.1 88 780.8 86 780.2 84 777.7 82 778.6 80 778.8 78 778.1 76 777.5 74 777.8Z" fill="#1a1a1a" opacity="1"/>
<path d="M85 774.4 107 775.6 129 777.2 151 778 173 778 195 777.1 217 772.1 239 772.6 261 773.1 283 774.7 305 775.2 327 771.5 349 769.7 371 770.1" fill="none" stroke="none" marker-start="url(#m11)" marker-mid="url(#m11)" marker-end="url(#m11)"/>
<path d="M302.9 769.3 249.6 772 79.7 772 271.8 774 94.4 781.1 323.9 778.1 107.2 772.6 86.5 778.1 159.7 773.2 207.9 778.3 333.6 767.6 121.3 782.3 254.9 775.5 102.4 769.5 292.2 774.4 97 780.6 275.1 778.1 100.5 779.7 95.1 779.5 217.8 770 249.3 778.3 158.9 773.2 241 769.2 108.7 771.4 90 770.7 172.9 775.5 314.8 770.8 232.5 768.3 184 771.7 153.4 771.7 306.4 775.6 134.1 777.1 370.3 764.9 333.6 769.9 230.9 776.8 198.6 776 292 781.7 182.6 782.3 298 777.6 202.3 772.8 91.2 769.9 96.4 778 155 773.6 100.8 779.5 350 771.8 163.4 774.6 166.9 777.5 123.9 776.3 157.4 784 382.3 771.8 151.5 784.1 172.1 776.1 74.3 772.5 224.5 772.3 137.7 777.6 75.6 771 102.5 773.9 87.2 768.3 170.4 774.5 259.6 773.4 311.9 776.1 301 780.8 197.5 774 386.2 767 303.6 777.3 87.9 778.9 356.7 770.8 306.6 779 118.2 776.9 233.9 776.8 329.1 775.4 259.1 778.1 290.5 777.8 146.9 771.8 116.2 774.6 107.3 780 251.1 774.5 272.5 776.3 229.1 765.9 326.9 774.7 233.4 772.9 283 769.1 307.6 771.5 97.6 771.9 305.2 771.3 308.5 780.8 230.6 770.9 225.8 774.7 317.1 774.7 277.8 768.8 120.7 773.6 309.6 771.9 254 766.5 93.2 771.7 287 777.5 288.2 772.4 237.7 772.1 221.8 767.3 357.3 765.2 384.1 777 79.5 773.7 333.9 776.8 216.5 769.1 140.5 783.4 140.8 778.7 118.9 777 376 765.8 334 770.8 355.1 771.9 147.3 783.1 228.1 766.2 75.1 773.9 216.9 769.5 118.6 774.6 174.2 782.4 74.6 777.3 340 765.4 367.7 772.6 359.8 766.3 192 776.6 390.6 773.1 188.3 777.1 161.2 772.1 106.2 779.9 164.5 783.7 153 775 236 768.5 192.4 783.8 354.3 773.4 274 779.4 372.2 770.9 302.1 769.8 306.2 774.3 312.6 775.8 164.7 772.1 367.8 765 223.7 770.2 168.4 781.1 383.5 768.2 282 772.1 250.7 771.4 127 772.8 139.9 782.9 231.6 768.8 361.3 775.7 216.6 767.4 135 772.1 182.4 772.7 149.8 774.9 254.6 777.9 311.6 772.9 205.2 774.1 193.5 775.4 93.7 771.9 380.8 766.2 233.6 774.1 347.5 766.1 159.9 774.7 200.7 774.5 376.4 775.2 350.7 763.4 84.2 777.1 357.9 768.7 260.1 766.5 198.1 781.6 335.7 775.2 382.2 767.9 108.6 771.3 239.6 775 372.5 773.1 279.2 777.9 219 772.8 86.5 778.2 147.7 783.4 278.6 771.8 114.6 773 275.7 776.8 109.5 770.2 240.2 773.7 197 772.8 264.5 767 169.6 777.5 378 772.7 354.2 769 148.4 774.7 378.5 773.5 171.4 771.8 232 774.7 207.1 770.1 285.6 780.4 145.9 771.8 181.2 777 290.4 771.4 326.7 774.7 234 768.6 381.4 768.7 333.9 767.2 144.2 781.2 167.5 783.9 231.2 768.3 144.8 776.7 284.9 780.7 120.4 775.4 141.5 783.8 119 770.8 93.1 773.3 358.7 774 306.3 781.4 369.3 767.7 132.8 783 310.6 768.2 284.6 773.3 192.5 775.6 127.7 770.7 162.7 776.1 376.9 765.8 379.7 767.1 187.1 782.2 334.6 769.8 89.6 774.3 192.2 783.4 135.2 775.7 358.3 762.9 204.2 778.2 317 767.2 85 768.7 365.7 766.5 310.9 779.4 181.5 775 377.6 772.3 157.1 780.8 174.3 775.1 75.2 777.4 364.5 771.3 373 764.1 148.1 777.6 377.3 776.6 196.5 773.3 210.3 772.1 368.2 765.7 328.4 774.4 334.8 774.2 266.5 771.2 175.3 776.2 322 766.9 136.5 780.8 152.4 772.3 84.7 775.1 177.3 784.2 354.1 775.7 158 772.6 104.6 775.4 299 775.2 148.2 776.9 270.6 776.1 311.1 778.7 284.6 769.9 340.6 767.6 253.7 771.2 308 770.8 115 785.7 214 793.5 225 790 239.5 820 241 847 249 789 274 796.7 296 790 312 787 322 790 337 801 335.5 818.7 332 826.6 337 805 353 789 356 801 371.7 823.4 376 822 375 925.8 324.5 930.5 331 929 241 883 389 787 134 784 168 785 160 783 190 786 268 784 156.7 782.2 127.5 785.4 259.3 782.6 202.8 786 237.3 782.2 330.6 784.3 387.2 781.5 227.2 785.1 340.6 785.6 92.5 782.5 117 781.9 381.6 783.9 368.4 782.9 348.5 783.2 160.6 784.9 373.2 781.5 264.8 784.1 147.5 782.8 123.8 782 159 784 282 782 83.5 782.6 290.3 781.9 176.8 782 326.5 783.7 99.6 781.5 202.5 783.8 278.1 781.5 130.7 784.5 207 782.4" fill="none" stroke="none" marker-start="url(#m12)" marker-mid="url(#m12)" marker-end="url(#m12)"/>
<path d="M392 770.9 394 773 396 771 398 771.9 400 771.3 402 771.6 404 773.1 406 773.6 408 771.6 410 771.2 412 772.9 414 771.3 416 770.8 418 773.7 420 772.3 422 773.6 424 772.3 426 773.9 428 772.6 430 771.7 432 771.2 434 773 436 773.3 438 774.3 440 771.7 442 773.4 444 772.7 446 773.1 448 772 450 772.5 452 773.3 454 774.7 456 772.1 458 773.4 460 774.5 460 782 458 779.5 456 779.2 454 781.7 452 781.8 450 780.2 448 778.8 446 781.5 444 779.7 442 781.3 440 780.4 438 781 436 778.8 434 780.8 432 778.9 430 779.4 428 780.8 426 780.7 424 778.6 422 778.6 420 779.2 418 779.5 416 779 414 778.1 412 778.4 410 779.9 408 780.3 406 777.5 404 779.1 402 779.7 400 777.3 398 779.8 396 777.4 394 778.9 392 778.7Z" fill="#283a9a" opacity="1"/>
<path d="M485 775.4 487 774.5 489 774.9 491 775.6 493 775.2 495 776 497 775.4 499 775.5 501 774.3 503 776.3 505 776 507 775.1 509 776.7 511 776.7 513 775.5 515 774.6 517 775.4 519 774.2 521 774.2 523 775.1 525 773.9 527 774.9 529 775.1 531 773.5 533 775.4 535 773.6 537 775.6 539 775.8 541 774.9 543 773.4 545 774.8 547 774.4 549 776.2 551 773.5 553 775.8 555 776.2 557 775.4 559 775.6 561 773.6 563 776.1 565 774.5 567 775.9 569 775.8 571 773.3 573 775.3 575 775.7 577 772.9 579 773.8 581 775.1 583 773.2 585 775.5 587 773.5 589 775.2 591 773 593 774.1 595 775.4 597 773.1 599 773.3 601 774 603 773.5 605 772.6 607 773.1 609 773.1 611 775.6 613 774.9 615 775.6 617 773.3 619 775.3 621 773.2 623 774.6 625 775 627 774.1 629 775.8 631 774.9 633 775 635 776 637 773.5 639 776.4 641 775.3 643 774.6 645 775.9 645 780.2 643 782.5 641 781.1 639 780.4 637 781.7 635 780.6 633 779.7 631 781.5 629 779.2 627 781.6 625 779.8 623 780.9 621 782 619 780.7 617 780.9 615 779.7 613 778.7 611 778.7 609 779.1 607 780.5 605 779.9 603 780.1 601 781.3 599 778.8 597 779.2 595 780.6 593 778.6 591 778.5 589 779.7 587 778.9 585 779.8 583 779.4 581 780.5 579 780.6 577 779.4 575 780.8 573 780.3 571 779.2 569 781.8 567 779.7 565 779.4 563 779.2 561 781 559 781.8 557 781.5 555 780.3 553 779.9 551 779.1 549 781.2 547 781 545 780.3 543 781.3 541 780.7 539 782.3 537 781.6 535 780.1 533 782.2 531 779.5 529 781.1 527 780.8 525 780.4 523 779.9 521 782.3 519 779.9 517 781.7 515 783 513 780.5 511 780.8 509 782.2 507 781.9 505 782.5 503 782.9 501 780.8 499 781.1 497 781 495 780.1 493 782.6 491 782.2 489 781.9 487 779.5 485 782.1Z" fill="#283a9a" opacity="1"/>
<path d="M650 778.7 652 777.9 654 778.8 656 778 658 777.4 660 777.1 662 777.5 664 777 666 777.9 668 779.2 670 779.1 672 779.6 674 779.2 676 777.9 678 778.9 680 778.6 682 779.7 684 778.9 686 778.2 688 779.4 690 780.4 692 778.2 694 780.1 696 777.5 698 778.3 700 778.2 702 779.7 704 780.3 706 779.7 708 778.5 710 780.1 712 778.5 712 784.2 710 786.2 708 785.4 706 785.6 704 785.5 702 786.4 700 784.9 698 786 696 785.6 694 786.1 692 784.8 690 785.7 688 785.2 686 784.3 684 784 682 785.2 680 783.5 678 785.9 676 783.6 674 783.2 672 783.4 670 785.8 668 784 666 783.3 664 782.9 662 782.9 660 784.8 658 784.6 656 784.7 654 784.8 652 782.7 650 784.3Z" fill="#283a9a" opacity="1"/>
<path d="M714 779.1 716 780.6 718 780.7 720 781 722 778.7 724 781.2 726 781.5 728 781.7 730 779.3 730 786.6 728 786.2 726 785.9 724 788.2 722 787.9 720 787.3 718 787.7 716 787 714 785.9Z" fill="#283a9a" opacity="1"/>
<path d="M400 776 422 776 444 776 478.3 775 500 777 522 777 544 776 566 776 588 776 610 776 632 776 665 779 690 780 712 779" fill="none" stroke="none" marker-start="url(#m11)" marker-mid="url(#m11)" marker-end="url(#m11)"/>
<path d="M398.9 771.2 444.3 773.6 414 775 393.4 772.6 411.5 777.9 417.4 774.1 458.5 777 450.7 777.9 394.1 774.2 422.1 778.8 415.9 777.9 429.1 773.4 451.5 772.7 448.6 773.4 392.1 772 444.6 781.4 392.3 774.9 425.9 779.1 404.7 775.4 416 779.2 410 780.1 411.6 772.8 440.3 776.5 399.6 776.6 397.6 778.1 440.1 779.4 435.3 774.9 419.7 774.9 453.4 772.7 453.3 772.1 406.2 773.1 454.2 776.8 418.2 779.8 408.1 775.2 428.7 778.8 444 778 416 774.1 402.7 778.8 437.7 778.9 403.7 774.8 445.4 777.4 400.7 774.9 453.1 774.2 405.2 773.5 440.5 779.9 402.7 771.9 409.1 773.9 428 772.8 414.6 772.7 459.3 779.2 399 779.9 399 774.1 459.9 779.9 442.6 775.9 405.5 776.9 399.4 772.3 418.8 771.3 419.5 778.9 439.8 776.5 435.6 776 401.8 776.4 419.9 778.4 454.7 776.1 431.6 778.8 421.1 773.3 441.8 780.3 445.4 778.6 450.8 778.5 436.3 775.9 413.6 777.1 398.8 774.4 446 778.8 435.4 773.9 421.2 775.6 434.9 775.5 438.6 780.8 404.6 777 445.7 775.5 425.8 780.9 394.6 775.5 403.1 778.2 456.9 777.1 399 776 429.3 778.4 427.3 777.6 449.2 776.9 420.3 780.5 406.5 777.4 419.1 778.6 400.4 780.1 542.2 773.8 529.2 777.1 487.1 777.4 552.7 779.5 541.7 775.7 521.1 780.5 636.3 778 520.2 781.1 548.1 775.1 505.8 781.5 615.3 778.5 560.5 778.1 521.4 782.5 541.9 779.1 616.8 780.2 560.4 775.7 573.3 774 619.2 776.1 622 775.4 545.6 775.6 553.6 774.8 485.4 780 530.3 775.7 533.6 777.8 554 778.9 591.1 775.9 634.5 780.9 494.2 781.4 630.8 780.2 507.6 781.9 586.9 772.8 486.8 782.2 590.6 774.9 501.3 775.6 522.6 780.8 540.8 774.7 630.6 780.3 512 782.2 582.9 779.8 592.6 780.7 611.9 780.3 516.8 780.3 570.5 779.6 555.6 781.1 574.4 775.2 522.7 775 564.4 773.5 560.2 774.4 564.1 777.5 571.9 780.7 486.1 781.1 560.3 778.1 592.1 780.2 545.4 777 639.7 774 587.6 778.4 489.6 779.2 594.9 781 538.2 782.2 567.2 777.3 629.5 773.4 600.6 778.1 539.5 781.1 544 777.6 569.6 779.9 518.9 777.9 553 778.2 618.1 775.5 618.3 776.5 566.1 775.4 566.5 781.8 590.4 779.8 538.3 776.2 533.2 778.7 587.2 779.7 491.4 780.3 627.6 778 493 776.6 486 775.3 633.4 778.7 590.9 779.7 631.5 778.7 584.3 778.4 597.1 777.9 594.6 774.5 592.4 776.7 607.8 773.6 514.2 774.5 609.7 780.9 590.6 776 617.4 780 575.5 775.2 533.6 777.2 536.3 777.3 588.3 781.1 493.8 779 491.3 774.9 615.5 778 632.9 777.2 487.3 777.1 580.3 781.2 642.9 777.7 551.4 774.1 588.8 774.6 509.4 774.5 485.8 779.7 504.6 783.2 499.2 782 505.8 774.6 600.8 774.7 603.1 774.3 493.1 780.9 599.9 780.2 602.5 773.3 586.2 779.1 559.2 781.5 525.9 782.3 600.5 772.6 487.4 779.5 616.6 773.6 535.1 780 511.7 782 563.3 773.6 544.2 778.5 555.6 779.2 508.3 781.5 543.5 779.1 586.4 776.5 547.1 780.3 637.1 780.4 576.3 775.5 494.8 782.8 598.2 780 538.5 778.8 642.4 780.9 581.8 775.5 554 781.2 545.6 779.4 581.9 780.8 615 775.4 485.3 775.9 553 778.5 616.4 780.8 491.8 781.3 615.7 780.6 577.1 775.3 622 780.2 595.2 780.8 540.8 774.1 574.1 780 517.3 780.8 635 775.4 582.7 778.8 559.9 774.9 526 780.4 612.5 776.9 499.1 781.5 609.3 774.8 578.3 780.9 627.5 777.8 688.1 782.8 665.1 778.6 664.5 783.2 679 782.3 682.2 782 661.9 777.2 729.8 780.9 658.5 782.4 713 778.9 697.8 780.6 691.6 777.7 652.7 785.5 719.3 781.9 695.4 779.9 712.3 781.3 725.7 784.4 715.5 786.2 670.3 777.3 666.1 778.5 656.7 777.1 694.6 785.3 686.7 785.9 722.8 778.1 697.8 781.1 659.6 785.4 670.6 782.1 701.3 786.1 703.6 781 685.9 778.8 727.3 786.4 667.7 777.3 670.5 780.2 722.2 785.6 717 777.9 712.9 783.9 701.7 786.4 654.5 777.9 710.4 786 704.2 780.2 697.3 784.3 658.4 779.6 670.6 778.1 688.5 779 669.1 778.3 704.2 777.6 707.4 779.3 652.9 784.9 667.6 785.3 719.3 785.5 661.2 780.8 657.8 785.1 717.4 783.2 686.2 780.5 715.8 781.8 700.3 778.8 667.7 777.5 707.1 782.5 661.6 784.6 671.3 780.7 662.5 779.3 717.2 780.5 663.4 781.3 675.4 785.3 659.1 785.5 654.5 784.7 703.5 779.4 688.2 780 670.6 778.8 679.1 786.1 729.8 785.8 657.8 779.3 721.7 778 708.1 780.1 728.3 777.6 714.6 780.6 661.2 776.8 716.6 782.2 664.9 780.8 723 779.5 695.7 778.7 500.8 793.1 511.9 783.3 498.7 781.5 509.8 788.4 502.8 783.5 509.9 792 514 789.9 501.2 781.1 512.4 786.9 512.2 780.9 514 785.7 514.7 794.7 507.4 780.3 516.1 788.1 515.3 784.5 500.9 794.1 504.7 782.8 504.8 790.1 497.1 788.8 506.4 788.8 499.5 792.1 514.1 794.7 503.7 792.1 505 792.8 498.3 794.8 517 788.4 507.8 789 508.3 780.4 690.2 782.1 454.7 781.5 475.1 785.1 409 781.5 609.7 782 405.3 784 572.9 783.6 610.8 781.5 660.9 784.6 413.6 781.6 548.1 783.5 483.9 781.6 521.7 781.7 577.5 785.3 444.2 783.9 624 781.8 647.8 785.7 516.6 783.1 651.9 783.6 518.7 785.7 650 770 650 774 650 790 728 790 728 795 448 812 696 803 678 822 727 788" fill="none" stroke="none" marker-start="url(#m13)" marker-mid="url(#m13)" marker-end="url(#m13)"/>
<path d="M448.6 811.7 448.6 848.6 505.6 822 518 823.6 611 844.4 632 839 672 813 621 807 643 808 560 820 566 818 618 801 631.5 800 671.5 800 671.5 812.5 700 863.5" fill="none" stroke="none" marker-start="url(#m14)" marker-mid="url(#m14)" marker-end="url(#m14)"/>
<path d="M74 856.3 76 855 78 854.7 80 855 82 855.3 84 856.9 86 856.4 88 856.7 90 856.4 92 856.7 94 854.6 96 856.2 98 857.7 100 857.8 102 855.7 104 856.3 106 856.9 108 856.1 110 856.6 112 855.2 114 856.3 116 856.5 118 855.1 120 855.4 122 857.9 124 857.3 126 857.8 128 856.9 130 857.4 132 857.7 134 857.7 136 855 138 856.7 140 855.5 142 856.6 144 855.2 146 855.9 148 856.9 150 855.9 152 854.8 154 855.6 156 855.3 158 856.9 160 854.9 162 854.9 164 855.9 166 854.4 168 855.8 170 856.9 172 855.5 174 854.8 176 855.4 178 855.6 180 854.4 182 854.4 184 854.4 186 854.9 188 855.2 190 854.9 192 854.7 194 854.3 196 855.6 198 856.5 200 855.8 202 855.7 204 856 206 854.6 208 856.1 210 855.4 212 855.6 214 855.8 216 855.4 218 854.9 220 854.7 222 854.7 224 855.5 226 855.1 228 855.8 230 854 232 855.1 234 856.6 236 854.7 238 855.7 240 855.5 242 854.9 244 857 246 854.9 248 856.3 250 854.5 252 854.2 254 856.6 256 855.3 258 854.2 260 855.2 262 855.3 264 856.2 266 854.3 268 854.7 270 856.9 272 856.2 274 854.5 276 855 278 855.1 280 856 282 855.8 284 856.5 286 856.5 288 855.6 290 856.2 292 856.2 294 856.3 296 855.4 298 856.4 300 856.1 302 856.8 304 854.4 306 856.7 308 854.1 310 856.5 312 856 314 855.7 316 857.2 318 856 320 855.6 322 856.7 324 857 326 856.3 328 855.6 330 855.9 332 855.9 334 856.7 336 855.5 338 855.8 340 856.3 342 855.9 344 855.7 346 857.1 348 857.3 350 856.3 352 856.2 354 855.5 356 855.8 358 855.4 360 856.7 362 856.8 364 855.4 366 857.9 368 856.2 370 857.8 372 857.8 374 858.2 376 856 378 856.7 380 858.2 382 855.6 384 855.7 386 857.3 388 857.2 390 858.5 392 858.1 394 857.5 396 858.9 398 857.5 400 857.6 402 858.2 404 857.4 406 857.4 408 858.2 410 857.6 412 859.5 414 858.8 416 858.5 418 857.3 420 858.2 422 858.4 424 859 426 859.2 428 860.2 430 860.6 432 859.2 434 859.2 436 859.9 436 870 434 867.9 432 868.4 430 869.1 428 867.1 426 867.4 424 869.3 422 868.7 420 867.6 418 866.3 416 868.6 414 867.8 412 868.1 410 868.5 408 868.1 406 866.6 404 865.7 402 866 400 866.5 398 866.5 396 865.5 394 865.4 392 866.7 390 866.6 388 865.8 386 867.6 384 866.5 382 864.7 380 865.7 378 866.8 376 865.3 374 866.4 372 864.3 370 865.2 368 866.7 366 865.9 364 866.1 362 864.6 360 865.5 358 865.6 356 864.7 354 865.8 352 865.5 350 866.8 348 865.5 346 865 344 864.1 342 864.2 340 865.9 338 864 336 863.9 334 864.1 332 865.1 330 866 328 865.3 326 865.9 324 863.6 322 863.4 320 865.6 318 864.3 316 865.4 314 864.3 312 863.7 310 864 308 863.4 306 865.8 304 864.8 302 864.1 300 864.3 298 864.2 296 863.2 294 865.7 292 864.7 290 865.9 288 864.3 286 864.9 284 863.7 282 863.1 280 865.8 278 865.6 276 863.9 274 865.7 272 865.4 270 863.9 268 864.8 266 865.9 264 864.5 262 865.8 260 863.7 258 864.2 256 865.2 254 863.7 252 863.9 250 865.6 248 864.5 246 865.4 244 863.7 242 863.5 240 864.1 238 863.6 236 865.9 234 863.9 232 864.7 230 863.3 228 864.6 226 864.2 224 864.2 222 863.2 220 863.4 218 865.5 216 864.1 214 863.7 212 863.6 210 863.9 208 863.7 206 863.1 204 865 202 864 200 863.5 198 865.1 196 863.3 194 863.8 192 865.5 190 863.4 188 864.3 186 865.5 184 865.4 182 863.5 180 864.1 178 865.2 176 864.1 174 865.9 172 863.6 170 865.9 168 864.5 166 863.7 164 864.4 162 863.4 160 865.1 158 863.8 156 865.7 154 864.8 152 864.1 150 863.7 148 865 146 863.9 144 866 142 863.9 140 865.2 138 865.4 136 864.7 134 866.3 132 865.2 130 866 128 865.7 126 864.9 124 865.2 122 864.3 120 864.5 118 866.6 116 865 114 866 112 864.3 110 865.7 108 865.1 106 865.5 104 864.9 102 864.2 100 864.9 98 864.5 96 864 94 865.6 92 864 90 864.2 88 865.7 86 865.3 84 865.6 82 865.6 80 863.4 78 863.8 76 863.1 74 865Z" fill="#e4262a" opacity="1"/>
<path d="M92 854.5 94 853.5 96 853.6 98 854.3 100 854.3 102 852.9 104 854.7 106 853.1 108 853.9 110 852.5 112 852.2 114 854.5 116 853.9 118 853.8 120 851.7 122 851.7 122 866 120 866.2 118 866.6 116 866.9 114 865.9 112 866.8 110 867.8 108 866.5 106 868.6 104 867.8 102 868.3 100 867 98 867.6 96 868.4 94 867.5 92 866.5Z" fill="#e4262a" opacity="1"/>
<path d="M459.7 862 461.7 862 463.7 860.8 465.7 860.2 467.7 862.9 469.7 862.3 471.7 860.8 473.7 861.6 475.7 861.4 477.7 863.6 479.7 862.1 481.7 864.4 483.7 864.1 485.7 862.3 487.7 864.4 489.7 863.7 491.7 864.9 493.7 865.4 495.7 863.9 497.7 863.5 499.7 866.3 501.7 864.9 503.7 866.7 505.7 866.1 507.7 866.5 509.7 867 511.7 866.6 513.7 866.2 515.7 865.2 517.7 867.4 519.7 866.8 521.7 867.3 523.7 868.9 525.7 866.8 527.7 869.1 529.7 867.2 531.7 869.6 533.7 870.2 535.7 868.9 537.7 870.1 539.7 871.7 541.7 871 543.7 871.1 543.7 880.2 541.7 879.3 539.7 879.9 537.7 879.7 535.7 878.7 533.7 878.7 531.7 877.9 529.7 879.2 527.7 878.8 525.7 877.2 523.7 876.8 521.7 877.3 519.7 876.8 517.7 878.1 515.7 876.1 513.7 875.8 511.7 877.3 509.7 874.9 507.7 876 505.7 875.1 503.7 876.3 501.7 875.3 499.7 875.8 497.7 873.8 495.7 875.1 493.7 874.7 491.7 874.1 489.7 874.8 487.7 874.8 485.7 872.4 483.7 872.7 481.7 872.8 479.7 872.1 477.7 871.5 475.7 871.9 473.7 871.5 471.7 872.8 469.7 871.8 467.7 870.6 465.7 871.1 463.7 871.3 461.7 870.8 459.7 870Z" fill="#e4262a" opacity="1"/>
<path d="M548.6 868.3 550.6 868 552.6 872 554.6 871 556.6 868.3 558.6 870.9 560.6 871.9 562.6 870.3 564.6 868.4 566.6 870 568.6 869.7 570.6 868.8 572.6 870.2 574.6 868 576.6 871.7 578.6 870.6 580.6 870.5 582.6 871.7 584.6 870.6 586.6 869 588.6 869 590.6 868.6 592.6 868.1 594.6 871.1 596.6 871.4 598.6 869.2 600.6 868.8 602.6 870.7 604.6 871.6 606.6 872 608.6 869 610.6 871.6 612.6 871.8 614.6 871.6 616.6 870 618.6 869.5 620.6 872.1 622.6 870.2 624.6 870.5 626.6 871.3 628.6 870.6 630.6 872.5 632.6 870.3 634.6 869.5 636.6 871.7 638.6 872.1 640.6 872.9 642.6 872.5 644.6 873.4 646.6 873.6 648.6 871.9 650.6 872 652.6 870.7 654.6 871.3 656.6 872.5 658.6 870.5 660.6 873 662.6 870.9 664.6 872.1 666.6 874.2 668.6 870.7 670.6 870.6 672.6 872.2 674.6 871.3 676.6 873.4 678.6 870.6 680.6 874 682.6 874.1 684.6 873.8 686.6 872.4 688.6 871.9 690.6 873.5 692.6 872.9 694.6 872.6 696.6 872.3 698.6 872.7 700.6 873.6 702.6 873.9 704.6 874 706.6 870.7 708.6 864.2 710.6 864.8 712.6 865.3 714.6 864.4 716.6 863.8 718.6 863.3 720.6 864.3 722.6 864.8 724.6 866.9 726.6 866.6 728.6 870.2 730.6 873.9 732.6 873.8 734.6 872.5 736.6 873.2 738.6 870.2 740.6 872.7 742.6 872.4 744.6 871.2 746.6 872.3 748.6 873.8 750.6 871.9 752.6 872.6 754.6 871.2 756.6 871.4 758.6 871.4 760.6 861 762.6 856.8 764.6 858.7 766.6 857.8 768.6 856.3 770.6 859.7 772.6 862.2 774.6 866.6 776.6 866.7 778.6 867.2 780.6 867.4 782.6 866.7 784.6 865.6 786.6 865.9 788.6 868.8 790.6 867.5 792.6 865.8 794.6 868.8 796.6 866.4 798.6 865.8 800.6 867.6 802.6 866.5 804.6 867.5 806.6 867.8 808.6 866.5 810.6 867.9 812.6 866.1 814.6 867.7 816.6 868.1 818.6 866.1 820.6 867.4 822.6 866.1 824.6 867.6 826.6 869.4 828.6 868.1 830.6 868.8 832.6 867.5 834.6 861.5 836.6 865 838.6 863.9 840.6 861.4 842.6 864.3 844.6 862.6 846.6 865.3 848.6 876.8 850.6 875.3 852.6 876.1 854.6 873.5 856.6 876.1 858.6 873.2 860.6 873.9 862.6 874.5 864.6 873.1 866.6 875.4 868.6 873.9 870.6 867.3 872.6 862.8 874.6 861.7 876.6 863.5 878.6 862.4 880.6 863.4 882.6 862.1 884.6 863.5 886.6 863.3 888.6 860.4 890.6 862.7 892.6 861.1 894.6 862.7 896.6 862.4 898.6 862.9 900.6 860.1 902.6 861 904.6 862.5 906.6 863.3 908.6 862.3 910.6 859.6 912.6 861.8 914.6 859.8 916.6 861.5 918.6 862.5 920.6 859.7 922.6 863 924.6 861.9 926.6 860.2 928.6 859.9 930.6 860.9 932.6 862.5 934.6 861.4 936.6 859.5 938.6 859.1 938.6 871.5 936.6 874.3 934.6 871.8 932.6 873.3 930.6 872.3 928.6 873.9 926.6 872.7 924.6 871.8 922.6 874.8 920.6 873.4 918.6 874.1 916.6 874.6 914.6 875.2 912.6 871.5 910.6 872.8 908.6 872.1 906.6 873.5 904.6 875 902.6 874.8 900.6 871.7 898.6 872.3 896.6 874.9 894.6 874.4 892.6 873.3 890.6 873.6 888.6 872.4 886.6 875.2 884.6 873.4 882.6 875.3 880.6 874.3 878.6 872.2 876.6 873.2 874.6 872.8 872.6 875.6 870.6 880.4 868.6 885.2 866.6 885.7 864.6 886.4 862.6 886.9 860.6 887.3 858.6 886.6 856.6 886.4 854.6 885 852.6 887.3 850.6 886.3 848.6 885.1 846.6 878.4 844.6 876.9 842.6 873.2 840.6 873.6 838.6 875.7 836.6 874.1 834.6 874.1 832.6 878.5 830.6 879 828.6 880.2 826.6 880 824.6 881.7 822.6 881.8 820.6 877.9 818.6 880 816.6 880.8 814.6 881.2 812.6 880.8 810.6 880.2 808.6 880.1 806.6 879 804.6 878.6 802.6 880.7 800.6 880.9 798.6 881.2 796.6 880.1 794.6 878.6 792.6 880.4 790.6 880.2 788.6 879.3 786.6 879.7 784.6 878.6 782.6 879.3 780.6 878.7 778.6 877.3 776.6 878.4 774.6 877.6 772.6 876.6 770.6 871 768.6 869.5 766.6 869 764.6 868.9 762.6 869.4 760.6 873.4 758.6 879.9 756.6 885.5 754.6 883.8 752.6 883.8 750.6 884.3 748.6 883.2 746.6 882.7 744.6 882.3 742.6 883.2 740.6 883.2 738.6 884.9 736.6 884.2 734.6 885.7 732.6 883.4 730.6 885.7 728.6 881.1 726.6 875.3 724.6 875.7 722.6 877.3 720.6 878.9 718.6 876.4 716.6 878.1 714.6 876.7 712.6 878.5 710.6 875.3 708.6 876.9 706.6 885.7 704.6 883.4 702.6 883.7 700.6 883 698.6 883.6 696.6 884 694.6 885.7 692.6 883.7 690.6 884.4 688.6 883.6 686.6 885.1 684.6 886.1 682.6 885.2 680.6 883.4 678.6 885.5 676.6 886.4 674.6 884.9 672.6 882.8 670.6 885.6 668.6 885.9 666.6 883.7 664.6 882.8 662.6 883 660.6 884.4 658.6 885.7 656.6 884.7 654.6 885.8 652.6 882.9 650.6 883.3 648.6 884.9 646.6 884.5 644.6 883.4 642.6 884.4 640.6 883 638.6 881.8 636.6 883.1 634.6 881.6 632.6 883.8 630.6 882.6 628.6 883.1 626.6 883.5 624.6 882 622.6 882.8 620.6 880.9 618.6 884.4 616.6 882.9 614.6 884.5 612.6 880.7 610.6 882.9 608.6 883.2 606.6 881.6 604.6 880.6 602.6 880.7 600.6 880.6 598.6 883.1 596.6 880.4 594.6 883.3 592.6 881.7 590.6 882.2 588.6 882.4 586.6 882.2 584.6 882.6 582.6 882.4 580.6 881.3 578.6 883 576.6 881 574.6 882.8 572.6 883.1 570.6 883.1 568.6 881.2 566.6 883.1 564.6 883.9 562.6 881.8 560.6 881.1 558.6 882.1 556.6 883.8 554.6 880.5 552.6 880 550.6 881.9 548.6 882.6Z" fill="#e4262a" opacity="1"/>
<path d="M758 867.4 760 865.3 762 868.3 764 864.5 766 867.1 768 863.7 770 863.3 772 863.8 774 863.4 776 865.5 778 865.8 780 863.8 782 867.6 784 864.7 786 863.5 788 863.6 790 866.4 792 867.2 794 863.4 796 862.7 798 866.4 800 863.6 802 867.3 804 864.8 806 865.4 808 863.9 810 866.2 812 864.4 814 863.7 816 866.5 818 862.5 820 865.6 822 862.2 824 865 826 863.7 828 866 830 861.9 832 864.4 834 863.6 834 884.1 832 884.3 830 882.8 828 880.8 826 881 824 881.1 822 882 820 881 818 881 816 883.8 814 883.3 812 881.6 810 885.1 808 881.3 806 883.1 804 881.1 802 884.7 800 884.8 798 881.8 796 884.3 794 884.7 792 882 790 882.3 788 883.1 786 885.2 784 881.6 782 884.3 780 883.9 778 883.2 776 883.9 774 885.5 772 882.2 770 885.6 768 883 766 885.2 764 885.7 762 882.3 760 885.8 758 886.5Z" fill="#e4262a" opacity="1"/>
<path d="M565 871 567 869.6 569 870.1 571 874.4 573 869.5 575 874.1 577 870.3 579 873.2 581 870 583 870.3 585 872.9 587 870 589 871.2 591 874.1 593 873.1 595 873.9 597 874.4 599 869.7 601 870.7 603 873.5 605 872.9 607 869.7 609 872 611 870.7 613 871.7 615 870 615 885.6 613 890.5 611 887.1 609 889.9 607 886.1 605 887.9 603 886.2 601 887.6 599 886.4 597 888.9 595 886.2 593 889.2 591 888 589 886.1 587 887.3 585 888 583 890.1 581 887.2 579 886.6 577 890.3 575 889.9 573 889.2 571 886.9 569 886.4 567 886.8 565 885.8Z" fill="#e4262a" opacity="1"/>
<path d="M137.1 863 160 863 181.8 863 204.1 863 225.7 863 247 863 270.4 863 292.3 863 314.1 863 336.1 863 358.4 863 381 863 402.7 863 424.4 863 445.8 867.5 467 862.7 489 864.9 511 867.1 533 870.2 556 870 578 870 600 870 622 870.9 644 871.8 666 872.3 688 872.8 710 865 732 872 754 872 776 867 798 867.4 820 867.8 842 863 864 875 886 861.8 908 861.5 930 861.1" fill="none" stroke="none" marker-start="url(#m11)" marker-mid="url(#m11)" marker-end="url(#m11)"/>
<path d="M218.5 858 225.7 865.2 214.1 858.7 222.4 856.1 435.4 858.5 294 864.7 166.2 861.2 210.5 857.1 145.8 856.1 379.2 864.6 402.9 857.2 325.3 858.5 307.9 860.7 188.3 865.2 74.3 862.7 383 861.7 288.4 865.4 158.9 861.4 343.1 859.4 331.8 859.4 264.5 861.2 319.1 858.4 301.7 860.5 154.8 861.2 169.9 864.5 245.3 862.4 263 859.7 154.1 856.1 409.7 862.9 263.7 860.3 368.4 858.3 136.4 864.4 240.6 861.5 373.5 865.7 388.1 856.7 212 863.7 370 857.1 129.7 858.3 111.2 859.4 364.8 861.4 237.9 855.5 217.2 865.5 325.6 859.9 247.2 863.3 348.7 857 320.2 858.9 262.5 857.1 208.2 858.2 212 854.7 146.7 861 94.9 857 334 858.1 191.3 857.2 376 856.9 304.3 864 147 859.4 360.8 862.3 208.5 855 234.2 858.5 331.9 858.3 221.7 861.6 367.5 859.6 213.5 860.9 408.8 859.1 425.6 865.8 208.8 861.8 193.3 855.3 347.7 859.5 264.3 860 400.3 864.8 83.3 861 241.4 859.6 377.9 860.5 245.4 864.3 233.2 859.9 259.3 863.6 316.7 862.9 219.4 854.9 320.1 860.9 352.5 863.8 116.8 857.9 101.9 864.5 110.8 856.5 346.7 861.5 93.9 862.4 331.4 860.3 93.8 862.5 225.3 860.9 435.3 867.4 389.6 857.8 195 860.2 76.2 865.4 173.4 857.4 187.3 857.3 384.9 862.2 259 859.1 92.5 858.1 387.8 865 384.1 858.9 147.1 855.3 268.3 858.6 242 859.9 285.3 858.5 364.1 857.8 406.8 863 92.5 858.2 267 859 278.5 858.1 173 863.3 179.5 862.3 364.5 862.1 238.6 864.8 235 864.2 94.9 859.8 305.4 855.1 386.3 856.9 289.9 856.5 407.9 863.1 363.9 861.1 317.9 862.2 180.8 856.8 377.5 857.5 406.3 859.1 110.5 856.5 357.9 865.9 224.1 861.7 167.2 864.5 322.3 856.6 94.5 862.6 89.1 863.7 180.3 857.1 284.7 858 276.9 856.2 404.1 860.3 378.6 857.6 363.4 866.4 215.7 854.9 211.6 861.5 154.9 860.5 107.9 860.6 337.6 859.9 319.8 856.1 373.9 857.2 408.2 867.9 414.1 863.1 179.3 858.3 345.6 860.7 410.6 858.1 249.5 864 290.4 860.4 106 857 172.2 864.3 380 858.5 408.7 857.3 290.8 865.1 198.6 864.9 311.7 855.2 194.6 859.4 163.6 862.7 138.7 863.9 182 855.3 276.4 855.6 273.7 863.2 289.6 859.6 86.2 860.1 109.2 862.6 121.8 861.9 201.7 858.6 314.1 856.5 135.4 865.8 194.1 863.8 390.2 861.5 128 856.5 392.2 857.6 253.6 860.4 116.6 860.6 133.4 861.4 257.5 858.5 145.6 859.2 147.7 856.1 160.8 864.1 255.7 864.3 79.5 864.9 250.8 863.2 280.5 862.1 157 862.8 129.6 858.4 85.2 858.8 261.6 857.7 396.4 857.3 283.4 857.1 289.5 863.1 331.3 855.7 163 861.1 429.8 858.6 297.8 862.1 368.9 859.5 367.4 860.8 407.3 857 414.4 861.8 221.4 855.5 162.6 862.6 319.7 856.5 198.6 856 145.7 857.2 193.8 865.2 435 867.2 247.7 860 356.1 865.4 346 862.3 146.1 861.6 380.2 864.7 107.4 863.4 200.4 856.3 423.6 865.2 343.9 856.7 373.9 866.2 401.5 864.8 375.3 864.7 287.7 859.3 372.7 864.4 389.2 859.5 421.9 863.6 416.4 858.7 424.6 866.5 165.2 863.7 158 856.7 239.8 857.1 252.3 864.5 322.1 862.7 215.9 863.1 361.3 863 414.9 866.4 221.1 855.5 310.2 863.9 196.9 861 376.7 864.6 75.6 859.9 79.9 855.7 368.1 860.3 292.9 859.5 195.4 856.9 202 863.8 298.2 857.7 105.8 858.5 327.8 859.8 313.3 863.6 117.7 863 89 863.6 140.6 858.1 420.7 861.6 155.2 864.3 294.9 864.3 216.8 860 420 863.2 431.9 860.4 374.7 857.7 264.8 854.5 137.5 865.7 238.6 863.4 164.8 858.4 110.5 861.6 386.1 861.8 210.4 864.7 397.6 863.8 101.5 862.4 234.8 865 205 861.8 302.8 858.7 263 861.9 402.4 862.1 205.7 865.2 94.6 864.1 321.4 861 236.1 862.8 396.6 864.4 345.4 855.6 191.7 856 419 867.4 126.3 862 282.8 855 216 862.7 306.2 857.7 350 858.5 271 859.1 428.1 865.2 365.4 863.1 211.7 865.1 330.9 862.6 174.4 856.3 282.2 863.6 361.3 859.4 124.6 861.2 391.6 858.1 341.3 857.1 186.9 855.1 181.7 858.7 424 868.4 141.7 858.5 415.6 859.5 486.9 867.9 468.9 864 493.1 867.9 541.3 872.8 477 872.6 497.8 873.8 513.7 874.7 486.4 864.5 523.8 872.3 507 872.7 523.4 869.9 490.4 874.1 504.5 867.9 513.1 868.4 525 867.3 529.7 874.4 489.7 874.2 482.2 865.1 465.6 867.2 523.5 874.7 494.7 873.2 469.1 864.6 514.3 877 513.4 873.6 525.3 871.6 539.3 878.1 488.6 867.6 527.9 871.5 475.4 872 504.7 870.7 516.4 876.5 471 865.2 465.3 865.5 502.2 874.4 516.3 872.6 493.9 870.3 482.9 872.4 526.5 877.1 472.5 869.3 523.6 872.6 535.8 879.4 522.6 876.3 514.7 876 470.8 869.5 519.3 873.3 483 863.1 510.8 875 482.8 864.8 478.7 863 517 877.4 527.6 871.6 518.9 866.8 530.7 871.7 460 867.6 471.5 864.5 464.7 865.8 506.7 874.4 463.1 870.3 469.1 863.6 513 869.4 487.7 869.6 478.2 871.3 477.4 871.8 528.2 873.8 462.3 869.6 462.1 866.3 495.6 864.3 513.1 874 509.2 869.7 503.1 871.4 478.9 872.3 544 879.7 541.1 873.5 543.2 870.7 500.2 865.6 498.2 872 519.7 871.4 488.6 865.1 493.8 866.8 476.1 870.5 503.4 869.6 476.4 870.1 476.4 864.8 507.2 873.1 542.1 878.7 540 880.4 520.9 874.8 465 863 460.8 870.5 520.9 873.7 482 866.5 473.6 869 543.7 873.6 463.4 862.5 489.8 873.8 527.8 872.8 468.4 862.1 472.7 870.6 499.6 875.8 536.9 878.4 500 873.9 470.6 862.4 507.4 870.8 477.4 864.8 461.5 871.1 519.9 877.3 542.8 875 521.7 870.9 528.5 877.5 471 861.3 632.4 878.6 696.9 871.6 873.6 872.3 730.1 871.1 896.6 868.2 576.4 873.4 793.1 879.1 738.2 880.1 629.1 873.3 903.1 865.8 589.3 877.4 598 871.5 727.2 872.8 797.7 876.5 720.7 864.5 832.2 866.9 732.8 876.5 812 876.9 642.5 879.9 819.5 873.4 604.1 882.3 783.1 866.6 642 885 638.1 875.9 857 885.9 796.7 877 563.6 869.9 930.7 871.7 563.5 869.2 642.7 884.2 634.5 880 912.7 869.5 908.4 863.9 608.6 869.1 844.9 863.1 929.5 870.3 621.8 881.5 612.3 876.7 590 880.3 896.8 873.9 549.5 881.3 766.2 868.8 745.3 879.8 781.3 877.6 579 869.3 762.1 860.9 704 871 840.2 861.9 873.3 872.7 727.9 867.3 803 869.1 716.5 865.2 930.8 867.8 686.6 872.6 834.4 874.2 880.6 861.9 692.5 875.9 847 869.8 786 880.4 849.5 873.6 578 870.2 819.6 875.3 752.2 877.3 708.1 872.7 802.5 879.7 835.4 873.4 905.9 872.6 829.1 866.9 815.1 879 717.2 876.7 619 883.4 721.5 874.1 647.5 874.9 685 876.1 585.7 875.1 932.5 869.4 913.5 871.3 876.1 875.4 843.2 865.6 646.4 876.5 556.8 872 895.5 874 677.3 882.6 851.9 886.8 859.6 881.5 589.6 880.9 671.4 880.3 692.3 879.4 926.6 862.1 756.4 880.2 759.3 879.9 708.1 877.2 818.6 880.8 583.7 871.7 661.1 884.3 553.9 872.4 828.8 881.3 617.6 875.8 817.4 876.6 840.6 872.8 645.9 874.2 559.4 878.9 630.5 873.6 926 869.4 780 875.4 782.6 876.1 667.5 871.8 574.8 868.7 690.1 873.4 592.8 875.9 928.1 870 655.6 882.2 618.2 870.7 667.3 877 818.5 872.9 833.7 863.8 913.5 865 874.4 860.9 873 863.9 883.3 872.4 811.1 870.3 552.4 871.3 902.8 862.4 806.6 874.9 807.4 868.8 604.8 870.1 933.2 865.3 803.9 874.6 636 870.9 554.4 881.3 599.5 882.9 690.9 882.2 602.8 880.4 647.1 875.9 753.3 872.2 645.8 882.3 660.3 876.4 847.9 876.5 624.5 872.8 699 877 799.7 873 889 861 808.3 878.6 640.5 870.6 720.2 865.2 728.6 878 585.3 870.3 736.3 873.1 638.9 876.7 594.9 869.5 690 878.3 915.2 868.2 576.6 871.8 839.9 869.9 889.2 874.7 884.4 862 918 867.7 642.4 872.8 887 863.5 581.1 872.5 910.3 866.9 834.8 862.6 725.9 868.3 629 879.6 690 873.1 933.8 866.8 619 869.4 804.2 873.7 558.2 875.6 838.4 869.6 640.2 877.6 785.4 875.4 605.4 880.8 918.7 870.9 884.2 865.8 901.9 862.8 637.4 879 901.5 861.3 633.5 870.4 720.4 865.6 623.6 880.7 776.9 879.6 705.9 880.8 553.5 882.7 639.8 877.2 748.9 884.7 741.2 885.4 791.7 869 875 863.5 939.8 866.4 637.2 884.4 674.5 877.1 682.9 881.2 557.6 874.1 612 881.4 548.7 877.6 649.5 877.3 768.5 867.2 602.5 872.2 595.8 882.9 607 870.8 753 879.2 895.6 861 640.3 872.6 777.8 872.3 708.7 876.8 807.6 879 923.1 863.8 917.3 866 568.8 882.2 589.3 868.8 662 875.1 927 872.7 713 871.4 880.8 872.5 804.3 873.7 594.2 872.2 806.2 874.8 862.1 887 925.3 862.6 578.4 882 771.8 862.5 819.5 870.1 641.2 875.6 753.6 880.7 577.3 879.6 792.9 872.9 811.7 878.1 552.4 875.6 813.9 876.8 802 868.7 923.8 871.5 639.8 876.5 923.5 862.8 708.7 877.9 900.9 863.6 836.4 866.9 808.2 877.6 598.5 871.8 632.7 873.8 562.6 870.5 707.6 872.9 579 877.2 917.4 868.5 687.8 881.8 719.7 866.1 737.1 870.8 813.2 868.6 693.3 885.8 848.7 886 799.9 875.5 824.5 880.9 625.4 881 666.4 874.7 870.2 877.5 881.2 873.5 779.1 868.5 554.5 876.5 832.6 869.1 576 868.6 616.4 879.6 550.1 871.9 652.4 881.2 935 859.9 593.3 882.5 928.2 861.9 679.9 878.9 673.9 877.2 736 874.4 570.1 869.8 612.2 870.4 792.9 876.3 651.5 882.4 833.8 867 741.1 873.3 912.2 868.3 568.7 870.8 819.7 872.1 829.2 869.9 860.6 885.5 585.5 877.3 623.5 880.1 863.3 885.4 639.1 871.5 808.3 874.6 602.7 871.5 776.6 867.1 796.7 869.5 649.8 876.8 757.3 881.4 560.7 879.4 635.1 874.3 799 876.3 789.2 879.3 628.7 874.3 807.9 870 610.2 872.3 850.5 885.9 829 880.8 859.5 878.1 672.1 881.8 570.4 877.6 583.5 869.2 749.7 872.8 913.3 873.1 729.3 871.9 595.4 876.1 752.6 875.9 829 874.4 852.1 875.1 576 874.3 737.9 874.3 810.3 869.4 673.2 878.1 827.4 878 694.1 878.1 911.7 873.9 790.8 867.4 727 873.1 657.6 871.2 932.6 873.3 599.1 875.5 791 870.3 575.4 879.8 850.3 880.1 582.1 874.4 585.4 883 568.6 872.8 849.2 875.5 590.3 869.6 612.8 877 874.7 863 616.6 880.6 715.3 868.6 596.8 872.1 928.9 861.4 650.2 881.6 897.6 873.7 733.6 884.8 785 870 730.7 881.2 835.9 863.4 624.4 883.8 590.5 880.7 681.2 874.8 648.5 877.5 936.3 861.8 883.1 865.2 616.2 880.3 682.3 874 712.4 875.8 886.4 868.9 552.7 880 786 879.2 921.2 864.7 880.7 872.7 652.7 876 695.2 876.7 696.6 873.1 637.5 883.6 709.3 873 895.9 871.5 644.2 884.1 863.4 888.4 833.6 873.9 866.8 877.3 805.3 871.7 877.3 862.4 759.6 869.9 869.8 875.3 878.9 873.1 892.6 862.3 915.8 871 813.6 876 567.4 881.6 763 863.3 681.4 882.9 854.8 886.5 632.4 874.9 646.2 871.9 676.6 871.4 860.4 876.9 576.3 869.5 838.7 864.5 729.5 875.3 862.7 887.8 669.9 880.4 898.8 867.2 900.7 871.1 670.5 884 773 863.4 778.5 878 751.6 877.8 711.6 876.7 809.1 869.2 690.4 876.8 923.8 870.2 597.5 882.2 562.3 877.4 717.8 874.3 318.4 866.5 337.9 870.1 392.5 867.8 275.8 869.7 395.2 867.1 411.9 871 319.3 867.9 376.2 870.6 271.6 867.5 297.8 869.7 268.5 868.7 333.1 869.3 259.5 870.8 436 868.8 393.8 866.9 417.5 868.8 386.5 870.3 304.5 870.6 272.7 866.1 333.5 870.5 415.5 870.8 335.2 870.7 345.4 866.7 360 870 317.3 869 283.4 867.4 316.6 868.6 326.5 866.5 231.2 867.7 377.7 869.7 278.8 867.3 336.4 866.9 354.2 870.5 271.6 868.9 378.5 869.7 376.7 869.6 286.1 870.2 420.6 866.3 424.5 868.2 247.8 866.3 607.8 891.5 568.5 888.4 598.3 896 580.2 892.7 574.7 884.8 569.7 887.7 597.1 886.2 569.7 885.1 565.1 884.7 578.9 889.1 571 888.7 586.4 895.6 589.2 895.2 588.3 884.8 595.5 884 570.2 883 602.1 895.5 584.2 887 585.5 886.9 601.4 887.5 569.1 894.1 594.4 882.1 611 892.2 581.3 890.8 615.2 887.6 586 886.2 593.3 891.3 604.1 895.3 568.7 887.1 611.1 893.1 595.4 891.5 580.4 895.2 593 887.6 570.9 883.6 613.9 893.2 561.6 886.5 588.8 888.9 581.8 894.5 581 889.4 615.8 890.9 588.6 886.7 583.2 890.5 607.2 885.6 582.2 887.4 581.8 894.8 592.3 885.9 579.9 893.5 569.6 891.7 561.3 884.7 563.6 893.3 568.8 885.2 563.5 885.7 604 892.1 614.6 895.3 593.1 894.9 565.4 895 586 884.7 604.9 894 583.1 883.3 612.4 892.5 817.6 899.5 745 881.1 756.1 880.4 832.1 892.6 754.6 883.2 763.5 892.2 827.4 899.4 786.9 899.6 796.5 887.8 772.9 884.7 866.7 899.9 831.8 883.5 763.4 883 785.6 894.7 747.7 890.6 828.5 880.7 797.1 895.8 814.8 889 854.6 892 783.8 887.9 862.6 897.2 858.9 891.2 758.5 883.5 789.8 893.8 740.6 896 842.2 890.3 740.7 896 793.8 893.4 814.1 894.6 793.1 899.2 864.2 898.6 820 886.3 789 885.4 857.5 895.8 842.5 896.4 868.8 893.8 781.4 895.2 774.1 892.2 760.6 897.2 803.5 885.5 860 881.7 860.9 895.1 759.4 895.2 814.5 898.1 816.2 888.5 861.3 881.7 841 882.1 776 882.3 853.3 888.8 834.4 885.1 834.9 893 752.7 889.9 833.8 884.3 825.1 885.6 788.2 898.4 862.6 900 795.5 891.4 845.1 895.2 799.3 897.3 792.2 899 772.8 889.7 774.5 890.8 774.1 887.1 775.9 906.6 774.4 890.2 773.8 900.1 771.5 917.6 770.2 904.1 770.5 919.1 775.4 886.4 772.8 903.8 774.3 914.2 772.1 922.3 771.1 890.5 774.9 889.8 771.1 905 772 891.6 775.6 904 774.7 895 775.5 893.8 773.3 904.5 773.8 910.8 771 901.3 772.8 897.7 766.8 916.5 772.4 907.3 772 889.3 769.7 912.9 773.7 916.9 767.3 907.4 770.4 896.2 767.3 885.5 769.8 899.7 768.1 894.7 770.4 910.5 770.7 886.5 773.1 894.7 773.7 919.3 767.1 903.3 773.7 895.4 770.4 892.6 766.2 888.2 767 891.4 771 902.5 773.6 907.4 794.4 858 795.5 841.7 796.5 846.8 794.4 844.2 794.2 858.8 794 858.9 793.3 820.4 795.2 828.2 795 824.7 796.3 846.8 795.7 857.1 797 847.1 795.9 820.1 793.2 837.1 590 825 590 828 609.7 829 619.4 827.8 619.4 854 236 880 365.4 881.7 374 876 460 880 466 889 481 882 519 880 565 896 572 911 583 914 590 922 577 930 606 907 623 918 612 898 716 897 741 905 744 910 824 904 838 904 852 910 866 911 916 884 916 888 940 903 802 861 795 857 760 818" fill="none" stroke="none" marker-start="url(#m15)" marker-mid="url(#m15)" marker-end="url(#m15)"/>
<path d="M142 888.7 144 886.4 146 887.4 148 885.4 150 887 152 888.8 154 887.8 156 888.7 158 885.8 160 886.6 162 886.6 164 889 166 886.4 168 889.5 170 887.2 172 890 174 889.3 176 889.2 178 892.1 180 890.7 182 891.5 184 889 186 891.6 188 891.9 190 888.6 192 890.7 194 888.8 196 888.1 198 888.7 200 889.6 202 890.7 204 890.9 206 890.9 208 889.6 210 889.8 212 888.1 214 890.2 216 889.6 218 888.9 220 890.9 222 888.7 224 888.3 226 888.4 228 888.4 230 890.1 232 890.9 234 888.6 236 889.9 238 890.2 240 890.2 242 889.8 244 890.4 246 888.6 248 888.8 250 890.2 252 889.7 254 891.6 256 889.9 258 892.1 260 890.1 262 889.6 264 891.1 266 890.9 268 890.8 270 892.5 272 890.6 274 892.3 276 893 278 891.7 280 892 282 893.6 284 892.6 286 891.2 288 890.9 290 891 292 892 294 891.2 296 893.3 298 892.6 300 892.3 302 893.1 304 894.8 306 892.4 308 892.2 310 892.8 312 893 314 895.2 316 894.5 318 893.6 320 892.8 322 892.5 324 892.8 326 895.6 328 894.9 330 893.3 332 895.1 334 893.1 336 894.8 338 894.3 340 893.6 342 896 344 896 346 895.3 348 894.2 350 896.1 352 895.3 354 896.2 356 894.3 358 897.3 360 894.1 362 895 364 895.7 366 895.1 368 894.8 370 897 372 898.2 374 895.9 376 895.7 378 897.3 380 895.7 382 896.4 384 897.6 386 896.7 388 895.8 390 895.5 392 897.3 394 898.9 396 898.7 398 895.8 400 897.3 402 897.3 404 896.2 406 898 408 897.4 410 898.6 412 896.8 414 899.1 416 898.7 418 897.5 420 896.4 422 897.7 424 896.4 426 898.5 428 898.5 430 898.2 432 899.6 434 896.3 436 898.8 436 909.1 434 906.6 432 907.3 430 906.3 428 908.1 426 908.6 424 907.2 422 908.4 420 907.2 418 908.4 416 906.8 414 909.3 412 907.3 410 905.7 408 906 406 908.2 404 908.7 402 907.8 400 906 398 908.6 396 908 394 905.8 392 906.7 390 907.7 388 905.2 386 905.3 384 906.4 382 908.1 380 908.5 378 906 376 908 374 907.5 372 907.7 370 906.6 368 907.9 366 906.7 364 907.7 362 906.2 360 904.8 358 905.9 356 905.7 354 905.1 352 905.1 350 905.5 348 905.7 346 904.3 344 904.4 342 905.1 340 905 338 904.6 336 905.4 334 903.6 332 904.7 330 903.7 328 905.4 326 905 324 905.2 322 904.2 320 903.1 318 905.4 316 903.8 314 903.3 312 902.8 310 903.1 308 904.2 306 904.4 304 903.1 302 903.9 300 902 298 902.7 296 902.3 294 902 292 902.1 290 903.4 288 903.2 286 901.2 284 901.2 282 903.1 280 902.6 278 902.5 276 902.3 274 902.4 272 900.8 270 899.9 268 900.9 266 899.6 264 902.9 262 901.2 260 901.6 258 902.6 256 901.9 254 899.7 252 900 250 899.1 248 901.5 246 901.2 244 900.2 242 899.6 240 899.2 238 899.9 236 900.7 234 901.3 232 901.1 230 901.1 228 899.5 226 899.4 224 898.9 222 901.3 220 898.4 218 898.2 216 898.6 214 900.9 212 900.6 210 898.6 208 900.5 206 900.6 204 898.8 202 897.9 200 900 198 898.7 196 898 194 901.1 192 899.6 190 899.6 188 900.5 186 899.5 184 898.9 182 900.4 180 900.6 178 898.6 176 899.3 174 900.1 172 898 170 898.6 168 898.4 166 896.7 164 896.1 162 898.3 160 898 158 896.8 156 896.4 154 898.7 152 898.8 150 896.3 148 897.5 146 897.4 144 896.4 142 895.3Z" fill="#e020a8" opacity="1"/>
<path d="M76 876.9 78 878.2 80 878.2 82 878 84 876.8 86 877.3 88 877.8 90 877.6 92 876.7 94 878 96 874.6 98 877.1 100 873.7 102 875.3 104 872.5 106 873.1 108 871.7 110 869.8 112 872.1 114 871.8 116 869.4 118 870.8 120 869.3 122 870.7 124 866.9 126 867.7 128 866.7 130 867.7 132 867.8 134 867.6 136 866.2 138 865.2 140 866.2 142 863.3 142 872.8 140 875 138 874.3 136 876.8 134 873.9 132 875.7 130 875.2 128 874.9 126 875.6 124 876.1 122 877.5 120 878.1 118 878.8 116 878.5 114 880.4 112 880.1 110 882.2 108 879.9 106 881.8 104 882.4 102 882.6 100 885 98 883.3 96 886.3 94 885.1 92 885.6 90 887.3 88 887.7 86 886.6 84 885.7 82 888.6 80 886.4 78 885.3 76 887.1Z" fill="#e020a8" opacity="1"/>
<path d="M142.1 892 165.7 892.9 189.7 895 214.7 894.4 237.7 895 261.8 896.1 286.9 897.3 309.7 898.5 333.8 899.7 357.3 900.8 382.3 901.8 406.3 902.4 429.9 902.9" fill="none" stroke="none" marker-start="url(#m16)" marker-mid="url(#m16)" marker-end="url(#m16)"/>
<path d="M261.3 892.3 374.2 900.9 386.6 900.2 357.7 894.2 206.6 900.6 342.6 902.6 288.1 897 200.1 889.4 331.7 902.3 218.1 896.5 182 897.4 192.5 894.9 234.3 895.6 181.4 895.6 323.3 894.1 232.8 897.3 302.6 899.8 371.3 902.4 207.3 893.4 386.1 902.9 363.4 899.2 273.9 903.3 383.7 904 173.3 895.6 151.8 898.4 427.8 906 220.7 899.4 194.1 899.2 295.1 891 403.7 901.5 386.1 904.6 298.6 903 201.7 899.6 241.6 888.4 241 889 163.2 894.5 177.5 890.5 228 891.6 412.5 908.2 397.8 909.1 271.4 900.7 224.6 900.6 380.3 905 208.9 888.5 414 903.3 322 904.2 184.2 898.4 278.4 900.9 276 892.6 423.2 899.7 361 905.6 214.8 897.1 258.5 892.1 205.9 900.5 250.3 895.7 289.4 890.8 363.5 904.5 399.5 900.3 203.7 892 357.3 903 261.4 896.4 187.3 901.1 280.7 897.1 373.4 897.2 354.4 898.6 380.9 896.1 223.1 896.5 283.8 895.5 312.1 894.7 270.6 889.6 376.8 898.1 386.2 902.7 318.8 900.7 178.9 899.5 227.9 899.8 373.2 903.9 381.7 900.9 340 906.3 197.6 888.7 263.1 896.3 185.8 891.5 396.8 900.6 185.8 891 311.8 894.2 281.7 897.6 271.3 896.6 388 895.3 415.4 898.4 153.3 896.1 309.6 899 206 898.1 232.1 898 209.1 895.2 332.6 897.8 283.1 891.1 331.1 902.2 187.1 896 357.5 895.2 388.6 907.2 156.8 889 166.7 889.4 167.4 892.8 215.6 891.6 277.7 895.1 373.8 904.6 175.5 890.8 144.4 889.7 173.8 896.9 371.4 908.3 203.4 887.6 364.5 899.9 415.7 901.1 233.9 888.9 420.7 902.9 271.6 895.7 368 905.9 281.9 892.6 261.5 901.6 261.9 898.3 306.6 897.8 311 895 305.9 903.4 165.5 891 400.9 909 145.9 893.9 327.8 904.2 280.2 891.8 230.3 897.7 356.1 896.6 330.9 901.7 335.4 893.1 271.8 894.1 317.6 896.6 179.7 898.3 226.4 898.7 231.9 895.4 379.6 896.3 357 894.7 417.3 896 354.9 898.8 194.8 893 289.4 896.3 178 895.7 230.2 901.3 254.6 894.8 209 900.8 236.6 897 386.8 900.5 364.1 898 174.2 887.9 274 901.9 201.7 893.2 366.3 898 186.9 895.6 267.1 902.5 405.8 898.7 306.9 897.2 152 891.6 411.2 899.7 314.3 901.7 160.5 898.6 174.1 891.5 352.5 893.8 252.4 890.4 281.2 890.3 186.4 891.5 166 887.1 199.2 894.3 182.3 900.3 264.6 892.8 212.8 899.1 155.8 895.9 170.7 899.4 262 897.5 395.8 896.6 160.8 895.4 314.8 901.8 223.7 894.5 196.9 893.4 224.8 895.8 229.9 891.6 330.9 893.7 377.5 901.6 209.3 888.8 291.6 897.6 353.5 898.8 263.2 901.7 222.5 901.3 404.4 909.2 419.3 899.3 381.4 903.3 202 901 332.4 904 306.1 892.4 395.8 897.6 218.2 896.1 199 893.6 351.8 894.9 336.2 894.3 281.8 899.2 122.1 868 88.8 888.3 102.2 877.6 101.1 881.2 125.6 874.5 103 879.1 110.5 872.1 139.6 875.3 128.1 878.1 107.2 881 92.1 884.6 123.9 878.3 131.8 875.9 93.9 884.6 107.8 874.4 100.7 882.6 132.5 875.4 120.9 869.7 86.4 883.7 90.2 880.3 82.9 878.4 124 869.7 132.8 869.1 132.9 868.8 93.9 879.9 76.8 881.3 101.5 872.9 133.7 869.5 76 887.5 91.3 879 77.6 877.3 123.6 874.1 109.8 873 95.2 886.3 100.9 884.8 135.4 866.1 132.8 865.4 123.6 876.8 122.6 873.9 130.5 867.5 112.2 872.7 102.7 874.6 123.5 874 128.2 873.7 116.1 879.8 130.4 872.5 97.9 885 100.9 874.1 98.3 882.2 138.4 871.7 284.6 912.2 296.7 905.8 263.5 909.9 248.4 901.4 280.1 910.5 241.1 908.9 308.7 901.7 229.3 906.4 250.1 912.3 319.7 905.8 298.3 908.2 233.2 912.6 233.3 901 262.5 900.2 265.5 905.4 315.2 905.4 304.2 910.1 276.6 903.1 247 906.4 256.5 908.4 268.1 904.2 278.7 913 236.3 904.4 216.3 901.2 220.8 905.5 302.8 909.1 316.4 910.9 276.5 907.5 216.3 905 242.5 908.1 221.9 907 254.4 906.4 257.5 901.3 291.8 910.4 277.8 901.5 90 823 151.7 922.5 150 924 211 911 212 917 213 920 215 906 230 921 236 921 256 914 298 904 266 902 247 880 252 877" fill="none" stroke="none" marker-start="url(#m17)" marker-mid="url(#m17)" marker-end="url(#m17)"/>
<line x1="390" y1="746" x2="390" y2="934" stroke="#22306a" stroke-width="2.2" stroke-dasharray="9 5"/>
<path d="M74.3 745.5V934.3H946.8V745.5H74.3" stroke="#111" stroke-width="1.3" fill="none"/>
<text x="67" y="939.6" font-size="15" text-anchor="end" fill="#222" font-weight="normal" >0.0</text>
<text x="67" y="918.7" font-size="15" text-anchor="end" fill="#222" font-weight="normal" >0.1</text>
<text x="67" y="897.7" font-size="15" text-anchor="end" fill="#222" font-weight="normal" >0.2</text>
<text x="67" y="876.8" font-size="15" text-anchor="end" fill="#222" font-weight="normal" >0.3</text>
<text x="67" y="855.9" font-size="15" text-anchor="end" fill="#222" font-weight="normal" >0.4</text>
<text x="67" y="834.9" font-size="15" text-anchor="end" fill="#222" font-weight="normal" >0.5</text>
<text x="67" y="814" font-size="15" text-anchor="end" fill="#222" font-weight="normal" >0.6</text>
<text x="67" y="793.1" font-size="15" text-anchor="end" fill="#222" font-weight="normal" >0.7</text>
<text x="67" y="772.2" font-size="15" text-anchor="end" fill="#222" font-weight="normal" >0.8</text>
<text x="67" y="751.2" font-size="15" text-anchor="end" fill="#222" font-weight="normal" >0.9</text>
<path d="M74.3 934.3h-6M74.3 923.8h-3.5M74.3 913.4h-6M74.3 902.9h-3.5M74.3 892.4h-6M74.3 882h-3.5M74.3 871.5h-6M74.3 861h-3.5M74.3 850.6h-6M74.3 840.1h-3.5M74.3 829.6h-6M74.3 819.2h-3.5M74.3 808.7h-6M74.3 798.3h-3.5M74.3 787.8h-6M74.3 777.3h-3.5M74.3 766.9h-6M74.3 756.4h-3.5M74.3 745.9h-6M74.2 934.3v5M128.8 934.3v3M183.3 934.3v5M237.9 934.3v3M292.4 934.3v5M346.9 934.3v3M401.5 934.3v5M456.1 934.3v3M510.6 934.3v5M565.1 934.3v3M619.7 934.3v5M674.3 934.3v3M728.8 934.3v5M783.4 934.3v3M837.9 934.3v5M892.5 934.3v3M947 934.3v5" stroke="#111" stroke-width="1.1"/>
<text x="74.2" y="956" font-size="15" text-anchor="middle" fill="#222" font-weight="normal" >0</text>
<text x="183.3" y="956" font-size="15" text-anchor="middle" fill="#222" font-weight="normal" >1,000</text>
<text x="292.4" y="956" font-size="15" text-anchor="middle" fill="#222" font-weight="normal" >2,000</text>
<text x="401.5" y="956" font-size="15" text-anchor="middle" fill="#222" font-weight="normal" >3,000</text>
<text x="510.6" y="956" font-size="15" text-anchor="middle" fill="#222" font-weight="normal" >4,000</text>
<text x="619.7" y="956" font-size="15" text-anchor="middle" fill="#222" font-weight="normal" >5,000</text>
<text x="728.8" y="956" font-size="15" text-anchor="middle" fill="#222" font-weight="normal" >6,000</text>
<text x="837.9" y="956" font-size="15" text-anchor="middle" fill="#222" font-weight="normal" >7,000</text>
<text x="947" y="956" font-size="15" text-anchor="middle" fill="#222" font-weight="normal" >8,000</text>
<text x="953" y="939.6" font-size="15" text-anchor="start" fill="#8a4a58" font-weight="normal" >0.4</text>
<text x="953" y="901.9" font-size="15" text-anchor="start" fill="#8a4a58" font-weight="normal" >0.6</text>
<text x="953" y="864.2" font-size="15" text-anchor="start" fill="#8a4a58" font-weight="normal" >0.8</text>
<text x="953" y="826.6" font-size="15" text-anchor="start" fill="#8a4a58" font-weight="normal" >1.0</text>
<text x="953" y="788.9" font-size="15" text-anchor="start" fill="#8a4a58" font-weight="normal" >1.2</text>
<text x="953" y="751.2" font-size="15" text-anchor="start" fill="#8a4a58" font-weight="normal" >1.4</text>
<path d="M946.8 934.3h-6M946.8 915.5h-3.5M946.8 896.6h-6M946.8 877.8h-3.5M946.8 858.9h-6M946.8 840.1h-3.5M946.8 821.3h-6M946.8 802.4h-3.5M946.8 783.6h-6M946.8 764.7h-3.5M946.8 745.9h-6" stroke="#333" stroke-width="1.1"/>
<text x="509" y="976" font-size="17" text-anchor="middle" fill="#222" font-weight="normal" >Time (h)</text>
<text transform="translate(34 838) rotate(-90)" font-size="17" text-anchor="middle" fill="#222">Terminal voltage (V)</text>
<text transform="translate(1000 840) rotate(-90)" font-size="17" text-anchor="middle" fill="#b84858">Terminal voltage (V)</text>
<text x="177.6" y="757.8" font-size="12.5" text-anchor="middle" fill="#222" font-weight="normal" >Iso-butane</text>
<path d="M177.6 775.4V765M151.7 783V803.9H92" stroke="#111" stroke-width="1.2" fill="none"/>
<path d="M177.6 760L174.6 767H180.6z M85.6 803.9L93 800.9V806.9z" fill="#111"/>
<text x="724.4" y="756.5" font-size="12.5" text-anchor="middle" fill="#2a3070" font-weight="normal" >Propane</text>
<path d="M724.4 781.5V767" stroke="#2a3070" stroke-width="1.2"/><path d="M724.4 761L721.4 768H727.4z" fill="#2a3070"/>
<text x="551.7" y="843.8" font-size="12.5" text-anchor="middle" fill="#b84040" font-weight="normal" >Methanol</text>
<path d="M551.7 877V857M726.8 867.4V853.2H826" stroke="#b84040" stroke-width="1.2" fill="none"/><path d="M551.7 852L548.7 859H554.7z M832.6 853.2L825.6 850.2V856.2z" fill="#b84040"/>
<text x="97.5" y="842" font-size="13" fill="#b0309a">Iso-octane, <tspan font-style="italic">j</tspan><tspan font-size="9" dy="3">1</tspan></text>
<text x="81.7" y="911" font-size="13" fill="#b0309a">Iso-octane, <tspan font-style="italic">j</tspan><tspan font-size="9" dy="3">2</tspan></text>
<text x="487.5" y="923.5" font-size="13" fill="#9030a0">Iso-octane, <tspan font-style="italic">j</tspan><tspan font-size="9" dy="3">3</tspan></text>
<path d="M75.8 859L90 841M81.7 885.8L103 893M115 878.3V889M244.7 897V879.4H312M435 907.5L476 918" stroke="#a03090" stroke-width="1.2" fill="none"/>
<path d="M93.3 837.5L85.5 842.5L90.5 846.5z M109.2 895L101 889.5L99.5 896z M115 895.8L112 888.5H118z M318.3 879.4L311 876.4V882.4z M482.5 920L474.5 914.5L473 921z" fill="#a03090"/>
</g>
<g id="pf">
<text x="17" y="1001" font-size="20" text-anchor="start" fill="#000" font-weight="bold" >f</text>
<path d="M85 1028.4 86.5 1029.5 88 1030.1 89.5 1029.2 91 1026.4 92.5 1029.8 94 1029 95.5 1027.5 97 1030.2 98.5 1029.8 100 1030.2 101.5 1027.7 103 1029 104.5 1028.3 106 1028 107.5 1029.9 109 1029.4 110.5 1028.4 112 1029.3 113.5 1030.9 115 1029.6 116.5 1031.1 118 1029.8 119.5 1031.6 121 1027.8 122.5 1029.7 124 1030.1 125.5 1030.9 127 1032 128.5 1030.7 130 1030.2 131.5 1031 133 1030.7 134.5 1031.5 136 1032.5 137.5 1028.9 139 1030.2 140.5 1032.5 142 1029.3 143.5 1032.2 145 1029.2 146.5 1031.7 148 1032.3 149.5 1030.1 151 1030.7 152.5 1030.1 154 1032.1 155.5 1031.4 157 1031.7 158.5 1030.6 160 1031.7 161.5 1033.2 163 1032.5 164.5 1033.2 166 1030.4 167.5 1031.5 169 1031 170.5 1030.9 172 1032.7 173.5 1030.3 175 1031.8 176.5 1032.7 178 1033.4 179.5 1029.7 181 1030.8 182.5 1031.7 184 1033.5 185.5 1030.4 187 1033.1 188.5 1031.4 190 1032 191.5 1033.6 193 1030.1 194.5 1031.2 196 1030.6 197.5 1030.5 199 1031.2 200.5 1032.8 202 1032.3 203.5 1030.4 205 1033.1 206.5 1031.9 208 1030.4 209.5 1033.1 211 1033.1 212.5 1030.7 214 1033.5 215.5 1033 217 1030.6 218.5 1029.7 220 1033.1 221.5 1032.9 223 1030 224.5 1032.7 226 1032.7 227.5 1032.1 229 1032.8 230.5 1033.4 232 1030.8 233.5 1032.8 235 1033.1 236.5 1030.6 238 1032.1 239.5 1032.1 241 1032.7 242.5 1031.6 244 1030.4 245.5 1030.2 247 1031.4 248.5 1029.7 250 1032.6 251.5 1032.7 253 1030.1 254.5 1031.9 256 1031.8 257.5 1029.5 259 1032.1 260.5 1032.1 262 1030.3 263.5 1029.6 265 1030.4 266.5 1032.4 268 1031.3 269.5 1032.7 271 1030.2 272.5 1030.1 274 1031.1 275.5 1033.3 277 1030.5 278.5 1030.2 280 1033 281.5 1030.4 283 1032.8 284.5 1030.6 286 1031.3 287.5 1033 289 1033.9 290.5 1032.2 292 1032.4 293.5 1030.8 295 1032.1 296.5 1031.8 298 1034.1 299.5 1033.8 301 1033.1 302.5 1030.6 304 1029.8 305.5 1026 307 1026.6 308.5 1026.4 310 1026.5 311.5 1028.4 313 1026.5 314.5 1027.1 316 1027 317.5 1029.5 319 1028.7 320.5 1028.2 322 1027.9 323.5 1030.2 325 1030.4 326.5 1028.6 328 1029.2 329.5 1030.5 331 1028.2 332.5 1028.4 334 1027.9 335.5 1029.6 337 1030.8 338.5 1028.5 340 1029.7 341.5 1032 343 1030 344.5 1029.7 346 1031.6 347.5 1031.8 349 1029.8 350.5 1028.8 352 1030.9 353.5 1031.4 355 1032.2 356.5 1031.2 358 1029.8 359.5 1030.7 361 1029.9 362.5 1030.5 364 1030.7 365.5 1032.5 367 1032.5 368.5 1032.7 370 1030.9 371.5 1032.9 373 1029.7 374.5 1032.8 376 1031.8 377.5 1032.7 379 1031 380.5 1033.3 382 1029.5 383.5 1032.8 385 1032.8 386.5 1031 388 1032.9 389.5 1030.5 391 1032.7 392.5 1031.6 394 1031.4 395.5 1030.6 397 1033.1 398.5 1032.9 400 1030.4 401.5 1033.9 403 1030.9 404.5 1031.5 406 1031.7 407.5 1032.3 409 1033.6 410.5 1033.8 412 1032.5 413.5 1031.5 415 1030.4 416.5 1030.3 418 1032.1 419.5 1032.3 421 1031.8 422.5 1033.9 424 1031.7 425.5 1031.4 427 1031.7 428.5 1030.7 430 1033.8 431.5 1032.4 433 1032.2 434.5 1031.7 436 1031 437.5 1031.3 439 1032 440.5 1031.8 442 1033.9 443.5 1032.3 445 1030.8 446.5 1030.2 448 1030.6 449.5 1031.4 451 1033.1 452.5 1033.6 454 1030.9 455.5 1033.1 457 1031.8 458.5 1032.2 460 1032.1 461.5 1030.2 463 1030.4 464.5 1032.8 466 1033 467.5 1031.8 469 1034 470.5 1033.6 472 1031.6 473.5 1030.7 475 1032.7 476.5 1033.2 478 1031.5 479.5 1030.8 481 1032.7 482.5 1030.9 484 1033.8 485.5 1033.4 487 1032 488.5 1032.8 488.5 1043.9 487 1043.7 485.5 1043.6 484 1046.1 482.5 1044.6 481 1045.6 479.5 1044.1 478 1045.8 476.5 1045 475 1045.1 473.5 1044 472 1044.7 470.5 1043.1 469 1046.2 467.5 1044.9 466 1044.3 464.5 1044.7 463 1042.5 461.5 1043.4 460 1042.9 458.5 1045.4 457 1042.1 455.5 1043.8 454 1045.5 452.5 1045.1 451 1044.9 449.5 1043.2 448 1042.9 446.5 1044.8 445 1043.2 443.5 1044.9 442 1043.4 440.5 1045 439 1044.3 437.5 1045.3 436 1045.9 434.5 1043.5 433 1045.9 431.5 1042 430 1045.5 428.5 1042.1 427 1044.2 425.5 1043.6 424 1045.1 422.5 1043.3 421 1042.8 419.5 1045.1 418 1044.2 416.5 1045 415 1044 413.5 1042.1 412 1045.1 410.5 1042.9 409 1043.9 407.5 1042 406 1043 404.5 1044.7 403 1045.1 401.5 1044.5 400 1043.8 398.5 1044.9 397 1044.6 395.5 1042.7 394 1043.9 392.5 1044.1 391 1044.6 389.5 1042.4 388 1042.8 386.5 1042.9 385 1041.9 383.5 1042.8 382 1044.3 380.5 1043.7 379 1042 377.5 1044.2 376 1041.7 374.5 1044.2 373 1041.7 371.5 1041.4 370 1042 368.5 1043 367 1042 365.5 1044.4 364 1044.6 362.5 1041.9 361 1043.7 359.5 1043.4 358 1042.8 356.5 1041.6 355 1044.3 353.5 1044.3 352 1040.5 350.5 1041.7 349 1041.6 347.5 1041 346 1041.9 344.5 1043.7 343 1040.2 341.5 1043.4 340 1041.2 338.5 1039.9 337 1043.3 335.5 1040.7 334 1040.3 332.5 1039.8 331 1040.7 329.5 1039.6 328 1039.7 326.5 1039.8 325 1041 323.5 1040.3 322 1039.6 320.5 1040.4 319 1041.2 317.5 1040.9 316 1039.3 314.5 1041.4 313 1040.8 311.5 1039.7 310 1039.3 308.5 1038.5 307 1037.6 305.5 1041 304 1041.4 302.5 1040.9 301 1045.7 299.5 1046.5 298 1043 296.5 1045.6 295 1043.7 293.5 1044.8 292 1045.9 290.5 1043.9 289 1044.4 287.5 1045 286 1043.1 284.5 1044.7 283 1043.9 281.5 1046 280 1042.8 278.5 1044.8 277 1042 275.5 1042.9 274 1042.2 272.5 1042.2 271 1043.7 269.5 1042.2 268 1044.6 266.5 1041.7 265 1043.7 263.5 1044.6 262 1041.6 260.5 1041.9 259 1044.1 257.5 1042.9 256 1044.8 254.5 1042.4 253 1042.7 251.5 1045 250 1042.5 248.5 1045.1 247 1044.8 245.5 1042 244 1043.4 242.5 1045.1 241 1041.8 239.5 1044.7 238 1044.5 236.5 1044.4 235 1043.8 233.5 1041.8 232 1045.3 230.5 1041.9 229 1044.7 227.5 1044.4 226 1042.8 224.5 1044.3 223 1043.3 221.5 1044.6 220 1041.8 218.5 1045.4 217 1043.3 215.5 1045 214 1043.7 212.5 1045 211 1043 209.5 1044 208 1042 206.5 1043.8 205 1042.2 203.5 1045.4 202 1044.7 200.5 1043.7 199 1045.9 197.5 1045.7 196 1045.8 194.5 1042.2 193 1044.7 191.5 1044.8 190 1044.3 188.5 1041.9 187 1045.5 185.5 1043.5 184 1044.1 182.5 1045 181 1042.8 179.5 1041.8 178 1045.3 176.5 1042.7 175 1041.7 173.5 1042.1 172 1045.5 170.5 1044.5 169 1042.3 167.5 1042 166 1045 164.5 1044.1 163 1043.7 161.5 1041.9 160 1043 158.5 1045.1 157 1041.3 155.5 1042.9 154 1041.5 152.5 1045.2 151 1041.6 149.5 1045 148 1044.5 146.5 1044 145 1041.3 143.5 1043.8 142 1043 140.5 1043 139 1041.5 137.5 1042.9 136 1043.9 134.5 1041.2 133 1044 131.5 1042.1 130 1041.4 128.5 1041.2 127 1042 125.5 1042.6 124 1042.2 122.5 1043.4 121 1041.8 119.5 1041.7 118 1043.5 116.5 1040.3 115 1039.4 113.5 1040.5 112 1040.4 110.5 1039.5 109 1040.6 107.5 1039 106 1042.5 104.5 1040.7 103 1042.2 101.5 1041.4 100 1041.5 98.5 1041.6 97 1039.7 95.5 1041.3 94 1039.2 92.5 1040.5 91 1040.6 89.5 1041.3 88 1038.8 86.5 1039.4 85 1041.3Z" fill="#1b2420" opacity="1"/>
<path d="M267.8 1046.9 290.2 1042.3 159.6 1032.3 123 1036.3 121.6 1038.3 481.8 1033.6 349.2 1038.3 298.5 1040.7 161.8 1037.4 263 1036.3 294.7 1042.1 269.8 1041.6 488.1 1032.1 212.4 1038 201.8 1044.9 427 1041.3 472 1038.5 452.7 1038.1 481.1 1040.1 399.5 1039 120.2 1031.1 132.7 1046.6 125.8 1043.5 311 1036.4 162 1037.6 132.1 1038.8 171 1036.3 207.9 1028.4 170.1 1044.5 125.5 1031.7 171.2 1037.9 204.7 1045.7 121.4 1038.7 235.2 1039.1 472.5 1033.7 158.9 1037.9 452 1039.4 383.7 1035 164.4 1046.3 255.3 1039.9 100.6 1032 188.8 1037.2 326 1034.2 112.8 1037.9 311 1037.2 455.6 1043 91.7 1034.9 156.2 1042.1 316.2 1031.6 481.1 1041.9 364.3 1038.9 92.2 1033.3 368.2 1037.8 279.8 1037.8 213.8 1039.5 382.8 1037.4 382.8 1035.6 227.1 1045.2 448.9 1035.4 433.8 1041.4 337.5 1040.2 117.4 1039.5 486.3 1044.2 382 1042.4 263 1036.4 97 1036.1 279.3 1038.8 333.3 1029.9 188.4 1041.6 166.8 1037.7 450.9 1035.9 217.1 1041.8 165.2 1031.5 440.6 1041.4 320.6 1035.3 423.2 1036.2 372.3 1040.5 267.1 1038.5 171.5 1042.9 212.4 1035.2 481.7 1040.4 437.6 1038.5 371.3 1034.2 92.7 1036 268.8 1045.8 141.9 1038.3 339.2 1041.9 411.2 1036.3 361.5 1038.3 89.3 1039 373.5 1038.7 366.7 1040.1 333.2 1035.3 451.1 1042.5 461.8 1038.5 337.7 1033.9 237.2 1030.7 466.5 1042.1 348.1 1034.7 344.2 1030.6 171.2 1029.3 301.9 1031.1 214.4 1045.2 118.4 1040.3 307.3 1033.7 411.9 1043.2 408.1 1036.5 141.8 1040.6 293.7 1040.1 467.1 1046.7 468.5 1041 202.2 1036.7 343.1 1044.7 210.9 1039.1 426.5 1036 476.2 1040.4 316.5 1035.6 329.5 1040.4 476.6 1034.9 312.4 1034 364.2 1041.9 471.6 1036.6 193.8 1040.2 414.5 1037.7 277.5 1039.1 458.8 1040.7 399.8 1040.9 362.6 1037.2 228.6 1036.3 134.6 1038.1 186.2 1039.6 236.8 1042.6 298.9 1040.6 342.9 1038.7 428.9 1044.8 384.3 1032.9 449.7 1036.7 173.1 1034.7 443.6 1036.2 189.8 1040.3 421.2 1045 247.7 1041 92.2 1032.6 476.2 1045.1 289.3 1038.7 161.4 1042.7 127.9 1041.7 314.8 1035.1 159.6 1035.4 459.5 1046.3 110 1031.2 217 1039.2 293.2 1044.2 368.2 1034.9 158.2 1044.4 163.8 1039.5 292.1 1031 369.7 1036.3 339.3 1041 482 1036 189.3 1032.8 414.1 1041.9 447.2 1034 394.2 1042.6 376.9 1040.9 89.3 1035.9 343 1034.2 354.1 1038.8 351.5 1041.4 489 1041.3 368.3 1037.9 333.6 1025.4 188.7 1039 236.8 1038.2 186.4 1042.5 475.7 1041.7 487 1044.2 326.4 1029.8 103.2 1037.1 153.3 1038.4 331.9 1045.4 297.8 1042.8 232.7 1038.9 199.5 1032.9 204.6 1041.3 148.3 1036.9 242.5 1043.3 484.5 1035.3 114.7 1039.3 478.2 1041.3 296.4 1045.5 480.4 1036.5 328.9 1039.7 167.3 1041.6 298.4 1042.4 269 1040.9 320.2 1041.1 488 1035.9 381.7 1037.3 401.9 1040.2 230.1 1038.4 324 1041.4 389.4 1036.6 455 1035.5 101 1038 336.8 1037.1 303.8 1036.9 307.5 1034 235.8 1040.5 385.9 1037.2 115 1041.3 395.6 1043.5 256.4 1037.5 349.1 1029.8 216.5 1032 257.8 1039.3 124.2 1037.2 312.9 1034.9 361.9 1039.1 171.2 1044.9 118 1037.9 199.3 1044.8 229.6 1038.2 371.5 1041.3 456.1 1047.3 409.4 1041.7 213.3 1031 185.3 1044 232.7 1040.4 163.8 1040.8 407 1046.3 156.3 1035.5 440.9 1038.2 304.8 1035.1 475.4 1043.3 305.9 1027.8 119 1030.5 119.2 1039.2 143.1 1037.2 174.1 1032.4 295.7 1039.2 476.2 1043 284.4 1032.6 454.7 1039.7 418.8 1034.5 421.9 1031.9 471.9 1035.6 409.1 1042.2 254.9 1033.5 236.7 1043.3 167.6 1034.8 108.9 1036.7 131.4 1041.1 110.2 1041.3 321 1035.4 159.6 1038 180.1 1038.9 159.7 1043.2 154.7 1037.4 415.1 1041.9 190.2 1045.4 306.1 1027.8 280 1037.8 408.8 1039.4 298.1 1036 350.7 1036.7 89.4 1030.8 373.2 1037.8 148.5 1039.3 436.2 1041.3 342.3 1039.6 145.9 1037 85.6 1031 118.3 1043.4 374.5 1041.4 471 1041.3 431.4 1040.6 455.4 1045.5 418.8 1039.5 148.7 1032.8 210.8 1038.5 273.8 1036.4 230.3 1038.3 271.6 1036 420.2 1038.4 371.8 1037.6 312.9 1033.1 408 1038.2 333.9 1036.6 205.5 1042.1 243.4 1039 380.5 1040.4 466.8 1044.9 419.1 1040.8 141.9 1032.5 157.7 1041.1 423.1 1039.6 148.5 1038.2 249.4 1046.3 291.7 1043.1 394.8 1039.7 251.5 1041.1 246.9 1034.1 351.7 1048.5 92.5 1036.3 127.9 1039.8 290.8 1040.6 149 1030.6 449.8 1042 142.3 1036 483.7 1033.1 164.7 1036.8 338.4 1036.5 317.9 1035.8 218 1041.5 135.1 1035.2 139.8 1041.6 311.4 1036.7 452.4 1046.3 134.6 1036.3 201.6 1040.6 420.6 1040 306.3 1034 483.8 1038.4 351 1034.5 239.2 1043.6 409.7 1041 142.8 1037.4 315.1 1036.3 314.5 1038.6 344.2 1042.7 472.6 1040 274.8 1043.1 391.2 1035 281.3 1031.2 250.2 1037.5 313.7 1038.2 259.6 1034.5 214.6 1032.3 380.7 1039.8 388.8 1039.7 135.3 1042.4 288.1 1039.6 297.6 1039.8 208.7 1040.5 453.2 1036.4 353.9 1033.9 174.6 1034.8 314 1032.4 135 1037.8 469.2 1041.7 216.2 1037.7 446.6 1039.8 321.5 1038.5 97.6 1037.6 462.3 1036.2 275.9 1037 447.3 1041.6 423.5 1041.1 440.4 1034.8 166.6 1035.9 105.2 1037 378.2 1034.3 373.1 1046 366.2 1041.4 175.2 1039.4 372.1 1038 353.5 1034.3 235.5 1042.3 177.5 1045.6 459.4 1039.8 121.4 1033.2 262.9 1042.6 327.3 1035.9 186.4 1038.4 390.3 1039.5 197.8 1035.8 484 1039.7 271.5 1037.6 287 1042.8 309.6 1035.9 401.3 1041.4 289.3 1042.3 469.4 1044 400 1041.1 262.9 1032.9 402.8 1038.8 174.4 1040.8 286.6 1033.6 316.3 1032.8 157.7 1037.8 260.6 1037.7 191.2 1037.4 314.8 1035.4 404.8 1038.2 102.1 1037.2 336 1039.1 120.7 1035.3 154.3 1037.3 420.7 1035.9 109.7 1038.6 477.1 1040.9 282.8 1039.1 268.9 1026.9 100.8 1035.2 243.7 1046.7 256.5 1036.2 393.4 1037.3 177.9 1037.7 271.5 1033 232.1 1044.1 101 1045.5 347.5 1040.1 434.2 1039.5 443.1 1034.5 239 1036.5 172 1039.2 151.2 1039.5 171.6 1041.3 486.3 1039.7 433.5 1039.2 364.3 1041.1 195.9 1040.8 243.8 1037 373.9 1037.6 463.4 1042.3 394.3 1039.4 215.1 1047.4 118.6 1033.2 294.8 1041.4 244.2 1037.4 325.5 1036 211.2 1042.8 370.5 1039.6 378.1 1038.5 198.3 1036.2 248.7 1044 203 1043.9 172.2 1038.5 313.6 1033.5 479.1 1037.1 172.3 1043.9 354.3 1045.2 340.5 1038.5 257.8 1038.3 217.6 1038.7 198 1040.4 152.4 1041 181.9 1041.1 145.9 1039.4 368.4 1043.5 243.1 1039.6 110.4 1036.3 321.7 1035.2 216.5 1037.7 445.3 1039 190.8 1039.3 333.6 1033.4 231.5 1029.8 338.4 1040.8 251 1034.7 440.4 1039.8 452.5 1040.4 209.7 1038.4 479.7 1040.4 359.8 1039 85.4 1038.3 284.4 1039.4 306.4 1029.8 476.4 1042.6 225.1 1035.2 365.9 1039.4 474.4 1039.7 283.2 1040.5 234.3 1039.1 180.8 1045 216.3 1040.1 110.5 1039.9 126.3 1036.7 396.9 1040 150.7 1043.2 187.6 1044.6 406.8 1043.6 374.2 1041.6 219.9 1037.3 314.3 1042.4 370.6 1032.2 135.6 1042.6 355.4 1036.9 321.6 1032.1 477.1 1043.2 340.1 1041.1 462.1 1036.9 132.8 1036.6 200.6 1039.7 218.3 1051.9 304.2 1039.1 408.4 1037.6 199.6 1034.1 481.3 1042.7 365.4 1044.6 155.7 1039.6 462.2 1038.1 215.8 1042.9 313.6 1037.6 176.9 1042.6 232.8 1037.5 445.6 1039.5 116.7 1033.7 166.7 1033.7 280.6 1045 108.3 1039.1 350.4 1034.3 434.3 1036 264.1 1040.8 95.8 1040.7 133 1033.5 210.2 1039.7 89.2 1037 298 1030.1 405.1 1037.7 419.4 1034.4 483.3 1047.7 369.9 1043.5 452.5 1043.8 241.9 1038.2 350.4 1037.9 228 1041.5 450.7 1038.9 384.6 1039.3 385.3 1044 127.8 1038.1 226.5 1038.1 248 1037.5 302 1034.7 214.6 1037 128.8 1032.4 173.7 1037.9 370.2 1038.6 467.9 1041.5 159.1 1045.8 341.4 1046.7 345.1 1035 431 1044.1 289 1036.8 363.7 1037.7 353.8 1040.3 327.7 1037.1 293.2 1044.9 324.7 1035.9 461.4 1035.7 383.1 1041.6 382.6 1033.8 136.2 1036.5 283.4 1039 463.8 1031.3 407.3 1052.3 436.5 1037.2 186.3 1039.5 434.7 1042.6 198 1039.1 403 1039.4 182.7 1035.5 306.9 1026.4 406.9 1040.5 99.9 1038.1 434.4 1039.1 242 1035.7 334.3 1034.4 168.5 1038.5 439.1 1038.4 259 1040 222.2 1040.2 328.6 1040.8 158 1042.1 137.2 1041.8 465.2 1041.4 486.9 1041.6 382.4 1039.9 144.1 1040.1 256.6 1039 289.6 1035.1 224.9 1038.5 200.1 1035.5 200.7 1042.1 462.2 1043.4 385.3 1041.5 254.3 1040 263.1 1040.8 356.5 1037.6 251.3 1043.6 254.9 1044.1 416.5 1041.5 125.2 1032.1 120.7 1033.4 355.4 1039.8 447.8 1038.9 274.6 1038 272.8 1040.3 477 1033.7 486 1045.6 368.2 1032.8 111.9 1039.6 173.1 1036.7 169.6 1039.2 384.7 1039.3 152.4 1034.2 187.4 1033.7 380.3 1037.7 91.4 1032.5 466.6 1039 301.5 1038.1 129.9 1037.3 135.3 1040.4 137.4 1041.4 399.1 1040.8 252.2 1040.1 310.5 1034.5 428.7 1044.9 477 1043.9 249.2 1031.7 252 1043 147.1 1034.7 148.2 1043.8 96.5 1032.1 344.8 1034.2 103.6 1036.3 130.1 1035.6 217.8 1032.5 467.4 1038.7 287.4 1042.1 383.7 1040 233.6 1042.1 258.9 1039.2 105 1035.6 306.2 1034.4 175 1041.1 280.5 1040.6 387.8 1038.2 475.4 1038.6 324.7 1038.8 234 1038.5 331.1 1038.5 293.5 1037 106.4 1037.7 406.4 1039.9 432.5 1041 119.5 1033.9 420.9 1036.5 403.5 1041.5 107.9 1035 308 1032.1 343 1027.8 319.3 1035.6 382.7 1032.7 455.4 1041.3 400.7 1045 265.9 1040 132.7 1039.6 131.8 1031.1 354.2 1038.6 210.3 1037.3 311.3 1036.2 301.7 1036.2 134.8 1040.2 259.5 1040.6 357.4 1041.3 241.8 1035.5 127.5 1036.3 166.7 1040.2 151.2 1040.7 242 1042.2 425.3 1041.7 481.2 1043.4 366.8 1036.6 317.3 1037.5 110.9 1033.5 259.8 1040.9 311.1 1043.2 281.7 1039.6 389.3 1035.2 99.2 1036.9 314.5 1037.6 469.1 1037.3 410.5 1044.4 165.5 1042 331.4 1040.8 448.4 1033.8 363.5 1031 202.5 1031.3 378.7 1037.6 302 1040.4 203.4 1038 195.1 1040.3 197.1 1047.1 432.3 1037.6 331.2 1042.3 351.6 1034.8 398.2 1037.9 231.5 1036.3 179.3 1034.3 466.2 1039.5 313.7 1032.2 129.5 1034.2 350.5 1045.1 313.4 1037.9 484.5 1042.2 354.2 1045 97 1046.1 430.5 1033.6 295.6 1043.6 297.8 1041.5 286.6 1040.6 281.3 1044.7 281.7 1049.4 139.5 1041.2 220.6 1035.1 468.8 1030.2 431.9 1038.8 323.6 1034.9 332.5 1043.3 294.8 1033.3 97.9 1029 94.7 1040.2 420.2 1040.1 391 1033.7 85.3 1028.2 421.7 1041.3 220.6 1037.3 191 1038.5 297.6 1042.3 179.7 1033 156 1039.3 401.6 1040.8 181.3 1039.7 188 1035.5 159.5 1037.8 378.5 1041.1 404.3 1036.6 183.8 1038.2 252.4 1041.4 453 1037.8 241.4 1033.1 221.6 1032.9 238.3 1036.2 277.2 1033.2 90.6 1038.6 454.5 1038 168.1 1030.9 223.1 1031.3 142.3 1039.4 139.8 1047.6 441.5 1039.6 235.4 1048.3 195.3 1039.5 225.4 1038.2 209 1038.8 303.3 1037.8 393 1048.5 175.1 1039.4 210 1038.5 149.8 1047.4 314.6 1032 270.7 1045.2 426.8 1035.7 480.1 1039.3 393.1 1039 154.9 1036.6 170.5 1035 286.7 1038.7 272.9 1038 101.8 1035.4 335 1039 213.1 1041.5 442.1 1042.1 271 1039.8 454.1 1037.1 441.3 1048.5 290.6 1042.2 377.3 1037.6 320.8 1040.3 124.2 1045.1 225.2 1033.6 292.7 1040.6 85.7 1037.6 340.3 1036.1 121.3 1040.9 476.9 1038.7 263.9 1044.2 419.9 1034.7 187.9 1042.2 309.3 1030.8 282.9 1035.2 288.2 1038.8 164.4 1035.9 480.4 1032 361.8 1035.1 408.7 1044.8 414.1 1037.1 94.2 1037.5 223.6 1036.3 461.7 1044 111.1 1034.2 437 1039.9 160.1 1035.3 336.6 1042.8 378.6 1030.5 402.3 1035.4 314.9 1039.8 240.3 1039.6 94.2 1038.6 349.1 1030.9 365.6 1040.8 160.7 1037.7 362.3 1033.7 453.3 1039.4 469.6 1031.6 219.6 1045.5 296.1 1037.8 301.3 1037.8 385.8 1037.5 182.5 1040.7 113.3 1039.2 468.4 1039.6 252.4 1039.9 472.5 1040.3 259.9 1040 344 1030.5 449.6 1038 298.2 1044.5 394.5 1040.2 195.1 1037.2 378.6 1040.5 370.2 1044 259.7 1033.8 443.9 1041.2 113.7 1036.1 136.7 1043.7 316.6 1034.1 360.3 1041.2 103.7 1035.3 276.4 1040.1 114.4 1039.2 470.3 1035.8 281.6 1035.4 133.4 1038.6 174.3 1041.1 246.1 1034 189 1039.6 232.8 1044.3 268 1039.9 207.7 1033.3 268.9 1046.6 236.9 1036.2 479.5 1039.7 384.3 1041.9 377.5 1043.5 260.8 1039.1 176.3 1037 223 1033.2 91.8 1040.9 332.9 1039.2 245.9 1034.9 109.2 1035.1 416.8 1040.3 372.7 1034 386.6 1035.1 311.8 1035.1 483.8 1043.9 378.5 1032.5 195.9 1043 152.5 1039.5 446 1036.5 254.7 1040.3 329.8 1030.8 315.1 1032.7 227.5 1037.6 364.5 1038.6 419.7 1040.6 302.1 1039.4 236.3 1038.8 437.5 1036.3 185.9 1038.8 405.8 1036.4 191.8 1044.8 415.8 1037.6 170.4 1039.5 439.9 1044.7 276.5 1036.3 315.3 1038.3 483.8 1039.4 145.7 1034.6 222.9 1034.1 454.8 1039.8 154.2 1041.6 441.6 1033.6 176.5 1035.9 104 1037.2 110.3 1038.1 123.5 1040.6 234.1 1050.3 331.4 1047.1 119.7 1041.5 103.2 1045.3 164.5 1044.6 357.8 1047.2 222 1046.4 208.9 1047.3 235.2 1045.3 193.1 1045.2 197.8 1043.1 217.3 1047.4 200.9 1043.9 428.3 1046.8 296.6 1046.3 444.5 1049 340.3 1046.3 367.8 1045.9 257.8 1045.2 293.6 1047.4 303.4 1044.9 405.7 1050.1 183.2 1042.9 213.6 1043 408.8 1048 207.5 1044.4 437.2 1049.7 364.4 1047.3 388.4 1046.2 251.6 1046.6 441.9 1050.9 456.3 1049.7 124.3 1042.9 477.6 1048 297.8 1046.4 434.6 1047.1 485.2 1044.5 486.4 1044 153.4 1045.3 347 1042.1 316.6 1046.4 266.6 1048.4 328.2 1044.6 163.2 1046.1 449.7 1048.4 180.4 1046.2 309.2 1041 322.6 1044.5 102 1041.4 353.7 1043.2 123.7 1047 226.5 1050.2 315.2 1039.6 345.9 1043.3 415.9 1048.8 393.8 1043.3 108.5 1046.3 150.4 1043.8 106.8 1041.2 281.6 1050.7 221.6 1044.7 421.2 1044.5 345.2 1046.1 463.5 1043.5 316.9 1042 419.5 1045 376.7 1043.7 290.1 1051.3 189.5 1045.1 456.5 1048.4 121 1042.2 188.4 1045.1 427.8 1048.6 481 1049.1 342.4 1044.1 377.7 1046.2 118.2 1044.5 246.3 1046.5 114.2 1040.5 482.3 1046.7 225 1043.8 328.4 1047.3 166.1 1046.4 291.9 1049.7 317.6 1040.9 169.7 1048.3 125.8 1048 108.2 1041.4 279.3 1049.7 339.1 1046.9 394.8 1048.6 115.3 1047 153.2 1043.5 109.8 1040.2 440.5 1046 129.1 1041.6 428.5 1047.8 456 1043.3 139.3 1044.2 170.3 1043.4 174 1047.7 161.2 1043.7 306 1041 153.9 1046.8 295.1 1046.9 281.9 1043.4 337.3 1042.3 227.3 1042.6 444.8 1047.7 249.5 1046.5 465.3 1044.2 246.1 1047.9 241.6 1048 452.8 1043.3 207.1 1045.2 390.6 1049 370.6 1049.4 168.2 1045.6 431 1049.1 139.4 1049.8 258.5 1040 258 1042.2 258.2 1044.4 258.6 1046.6 258.5 1048.8 225.8 1040.6 225.9 1042.8 225.8 1045 225.6 1047.2 225.9 1049.4 138.6 1039.9 138.8 1042.1 138.4 1044.3 139 1046.5 138.3 1048.7 235.5 1040.4 235.6 1042.6 235.9 1044.8 235.4 1047 235.7 1049.2 281.9 1041.1 281.2 1043.3 281.3 1045.5 281.6 1047.7 281.1 1049.9 279.5 1041 279.9 1043.2 279.7 1045.4 279.3 1047.6 279.3 1049.8 110.2 1038 110.2 1040.2 110.9 1042.4 110.5 1044.6 110 1046.8 252.9 1040.1 253.2 1042.3 253.4 1044.5 253.6 1046.7 253.6 1048.9 194 1040.9 194.1 1043.1 194 1045.3 194.4 1047.5 194.2 1049.7 246.8 1040.2 247.4 1042.4 247.6 1044.6 246.8 1046.8 247.2 1049 142 1040 142.3 1042.2 142.1 1044.4 142.6 1046.6 142.5 1048.8 245.4 1040.3 244.5 1042.5 244.5 1044.7 244.4 1046.9 244.9 1049.1 275.1 1040.7 274.9 1042.9 275.3 1045.1 274.8 1047.3 274.5 1049.5 237.8 1040.4 238 1042.6 237.9 1044.8 238 1047 237.9 1049.2 215.9 1040.7 216.4 1042.9 216.6 1045.1 216.2 1047.3 215.9 1049.5 244.5 1040.3 244.6 1042.5 244.3 1044.7 244.3 1046.9 244.6 1049.1 245.9 1040.2 245.2 1042.4 245.7 1044.6 245.6 1046.8 245.4 1049 112.1 1038.1 111.9 1040.3 112.3 1042.5 112.2 1044.7 112.2 1046.9 121.4 1038.8 121.9 1041 121.9 1043.2 122.2 1045.4 122 1047.6 168 1040.5 168 1042.7 168.3 1044.9 167.9 1047.1 168.4 1049.3 206.7 1040.9 206.8 1043.1 206.6 1045.3 207.3 1047.5 206.3 1049.7 189.5 1040.8 190.1 1043 189.6 1045.2 189.6 1047.4 189.9 1049.6 230.7 1040.5 230.4 1042.7 230.2 1044.9 230.3 1047.1 230.8 1049.3 152.2 1040.2 153 1042.4 152.6 1044.6 152.3 1046.8 152.3 1049 288.3 1041.4 287.6 1043.6 288.3 1045.8 287.8 1048 288 1050.2 230.6 1040.5 231.4 1042.7 230.8 1044.9 230.7 1047.1 231.3 1049.3 131.4 1039.5 132 1041.7 131.8 1043.9 132.2 1046.1 132.1 1048.3 150.8 1040.2 151.4 1042.4 151.3 1044.6 151.1 1046.8 151.7 1049 151.8 1040.2 151.3 1042.4 152.1 1044.6 152.1 1046.8 151.8 1049 174.3 1040.6 174.5 1042.8 174.4 1045 173.6 1047.2 174.1 1049.4 138 1039.9 138.4 1042.1 138.4 1044.3 137.7 1046.5 138 1048.7 173.2 1040.6 173.7 1042.8 173.7 1045 173.3 1047.2 173.4 1049.4 249.5 1040.2 249.3 1042.4 248.9 1044.6 248.9 1046.8 249 1049 275.3 1040.8 275.4 1043 275.1 1045.2 275.1 1047.4 275 1049.6 305 1037.1 304.6 1039.3 305.1 1041.5 305 1043.7 305 1045.9 264.1 1040.2 264.4 1042.4 264.5 1044.6 263.9 1046.8 264.1 1049 184.8 1040.7 184.7 1042.9 185 1045.1 184.7 1047.3 184.7 1049.5 279.7 1041 279.5 1043.2 279.7 1045.4 279.2 1047.6 279.5 1049.8 160.1 1040.3 159.8 1042.5 160.5 1044.7 160.7 1046.9 160.1 1049.1 185.3 1040.8 185.3 1043 185.8 1045.2 186.1 1047.4 185.2 1049.6 161.2 1040.3 160.6 1042.5 161.3 1044.7 160.8 1046.9 160.9 1049.1 150.1 1040.2 150.3 1042.4 150.1 1044.6 150.6 1046.8 149.9 1049 238.1 1040.4 237.6 1042.6 237.4 1044.8 237.4 1047 237.3 1049.2 268.5 1040.4 267.9 1042.6 268.4 1044.8 268.5 1047 268.3 1049.2 116.9 1038.5 116.8 1040.7 117.4 1042.9 116.8 1045.1 117.4 1047.3 283.7 1041.2 283.2 1043.4 283.9 1045.6 283.2 1047.8 283.7 1050 129 1039.3 129.4 1041.5 129.1 1043.7 129.9 1045.9 129.5 1048.1 289.9 1041.5 289.7 1043.7 289.6 1045.9 289.4 1048.1 289.7 1050.3 243.5 1040.3 243.9 1042.5 243.8 1044.7 243.9 1046.9 244.1 1049.1 247.9 1040.2 248.1 1042.4 248.1 1044.6 247.4 1046.8 247.5 1049 119.1 1038.6 119.9 1040.8 119.2 1043 119.4 1045.2 119.4 1047.4 222.7 1040.6 223.2 1042.8 222.7 1045 223.2 1047.2 223.2 1049.4 110.3 1038 109.8 1040.2 110.6 1042.4 109.8 1044.6 110 1046.8 263.8 1040.2 263.9 1042.4 263.7 1044.6 263.8 1046.8 263.5 1049 202.2 1041 202.7 1043.2 202.1 1045.4 202.1 1047.6 202.2 1049.8 216.7 1040.7 216.1 1042.9 217.1 1045.1 216.9 1047.3 216.5 1049.5 142.1 1040 142.2 1042.2 141.4 1044.4 142 1046.6 142.1 1048.8 297.2 1041.9 297.1 1044.1 297.1 1046.3 297.2 1048.5 297.8 1050.7 292 1041.6 291.6 1043.8 291.8 1046 291.7 1048.2 292.1 1050.4 254.3 1040.1 253.9 1042.3 254 1044.5 254 1046.7 253.9 1048.9 268 1013 268 1018 307 1013 307 1018 300 1022" fill="none" stroke="none" marker-start="url(#m18)" marker-mid="url(#m18)" marker-end="url(#m18)"/>
<path d="M85 1086.2 86.5 1087 88 1083.7 89.5 1084.1 91 1083.8 92.5 1086.4 94 1086.6 95.5 1086.3 97 1086.9 98.5 1086 100 1086.2 101.5 1087.7 103 1086.6 104.5 1086.6 106 1086.4 107.5 1086 109 1087 110.5 1086.3 112 1084.5 113.5 1085.7 115 1085.7 116.5 1085.7 118 1086.2 119.5 1085.4 121 1085.6 122.5 1085.7 124 1085.5 125.5 1087.9 127 1084.4 128.5 1084.1 130 1086.9 131.5 1085.6 133 1085.8 134.5 1086.4 136 1085.5 137.5 1085 139 1084.1 140.5 1087.5 142 1087.9 143.5 1085.3 145 1086.1 146.5 1085.6 148 1084.6 149.5 1088 151 1087.9 152.5 1085.6 154 1085.7 155.5 1087.6 157 1088 158.5 1086.8 160 1086.5 161.5 1086.1 163 1088.6 164.5 1089.1 166 1089.3 167.5 1086.5 169 1088.7 170.5 1090.4 172 1089.6 173.5 1088.8 175 1084.6 176.5 1079.7 178 1081 179.5 1078.5 181 1081.6 182.5 1081.1 184 1080.5 185.5 1082.3 187 1082.6 188.5 1081.5 190 1079.5 191.5 1081.6 193 1081.1 194.5 1080.5 196 1083.4 197.5 1082.7 199 1080.4 200.5 1081 202 1081.6 203.5 1082.6 205 1081.8 206.5 1082.4 208 1084.1 209.5 1081.7 211 1084 212.5 1082.6 214 1085.2 215.5 1085.4 217 1083 218.5 1084.3 220 1082.4 221.5 1083.8 223 1084.8 224.5 1085 226 1084 227.5 1082.9 229 1083.4 230.5 1085.3 232 1083.8 233.5 1084.5 235 1085.8 236.5 1087.1 238 1085.7 239.5 1084.7 241 1086.2 242.5 1085 244 1087.2 245.5 1084.8 247 1085.3 248.5 1086.1 250 1088.1 251.5 1085.3 253 1085.5 254.5 1085.4 256 1085.8 257.5 1086.4 259 1086.8 260.5 1088.3 262 1087 263.5 1087.4 265 1087.2 266.5 1088.8 268 1089.5 269.5 1087.7 271 1089.7 272.5 1087.1 274 1090 275.5 1088.3 277 1089 278.5 1087.8 280 1087.4 281.5 1086.9 283 1090 284.5 1087.9 286 1089.3 287.5 1088.4 289 1088.7 290.5 1087.5 292 1087.4 293.5 1088.1 295 1089.6 296.5 1089.1 298 1086.9 299.5 1089.8 301 1088.9 302.5 1087.7 304 1088.6 305.5 1088.7 307 1091.3 308.5 1090.5 310 1089.8 311.5 1089.7 313 1090.1 314.5 1090.3 316 1090.8 317.5 1092.8 319 1093 320.5 1092.8 322 1093.4 323.5 1092.4 325 1090.2 326.5 1089.9 328 1090.3 329.5 1090.6 331 1091.6 332.5 1092.7 334 1091.6 335.5 1090.9 337 1090.1 338.5 1093 340 1092 341.5 1090 343 1088.4 344.5 1091.8 346 1088.5 347.5 1090.5 349 1087.2 350.5 1089 352 1087.4 353.5 1089.2 355 1086.4 356.5 1085.3 358 1085.3 359.5 1087.3 361 1088 362.5 1086.7 364 1087 365.5 1085.5 367 1085.5 368.5 1084.9 370 1088.6 371.5 1084.9 373 1087.3 374.5 1086.3 376 1085.8 377.5 1086.9 379 1088.9 380.5 1086.3 382 1086.1 383.5 1088 385 1088.2 386.5 1087.8 388 1086.5 389.5 1089.4 391 1086.4 391 1098.7 389.5 1098.9 388 1099.9 386.5 1099.6 385 1099.8 383.5 1100.4 382 1101 380.5 1099.2 379 1097.4 377.5 1100.5 376 1097.1 374.5 1098.2 373 1097.4 371.5 1099.2 370 1099.8 368.5 1097.1 367 1097.6 365.5 1099.8 364 1099 362.5 1096.6 361 1098.8 359.5 1099.3 358 1098.1 356.5 1097.5 355 1099.9 353.5 1098.9 352 1098.5 350.5 1099 349 1100.4 347.5 1099.6 346 1101 344.5 1102.1 343 1102.5 341.5 1102.2 340 1104.2 338.5 1101.4 337 1102.5 335.5 1105 334 1104.8 332.5 1105.1 331 1104.5 329.5 1103.7 328 1104.8 326.5 1104 325 1102.2 323.5 1102.8 322 1102.3 320.5 1105.5 319 1103.1 317.5 1103.3 316 1103.6 314.5 1101.6 313 1103.8 311.5 1103.9 310 1103.7 308.5 1103.8 307 1101.3 305.5 1100.4 304 1102.6 302.5 1102.1 301 1100.6 299.5 1100.4 298 1099.5 296.5 1102.2 295 1100.7 293.5 1102 292 1100.1 290.5 1100 289 1100.7 287.5 1101.6 286 1102.1 284.5 1099.9 283 1101.2 281.5 1100 280 1101.8 278.5 1101.3 277 1100.5 275.5 1099.6 274 1099.2 272.5 1101.6 271 1101.2 269.5 1099.2 268 1098.2 266.5 1098.5 265 1101.5 263.5 1097.7 262 1100.6 260.5 1099.4 259 1099.4 257.5 1099.2 256 1098.6 254.5 1099.1 253 1097.1 251.5 1100.3 250 1096.9 248.5 1096.9 247 1099 245.5 1098.7 244 1099.3 242.5 1098.7 241 1099.5 239.5 1095.9 238 1095.6 236.5 1096.4 235 1098.5 233.5 1095.9 232 1097.3 230.5 1098.1 229 1095.5 227.5 1096.9 226 1098.2 224.5 1097.4 223 1095.9 221.5 1096.1 220 1095.1 218.5 1097.7 217 1096.8 215.5 1096.3 214 1094.6 212.5 1096.2 211 1095 209.5 1096.1 208 1094.3 206.5 1096.2 205 1095.2 203.5 1094.2 202 1094.5 200.5 1095.3 199 1094 197.5 1095.6 196 1091.7 194.5 1095.1 193 1094.2 191.5 1093.2 190 1094.5 188.5 1091.6 187 1092.2 185.5 1093.6 184 1093.9 182.5 1092 181 1094.3 179.5 1092.8 178 1090.3 176.5 1092 175 1096.3 173.5 1101.2 172 1100 170.5 1099.5 169 1100.1 167.5 1098.4 166 1101.5 164.5 1101 163 1099.7 161.5 1099 160 1098.2 158.5 1099.3 157 1098.2 155.5 1100.7 154 1100.5 152.5 1099.5 151 1099.9 149.5 1096.8 148 1096.9 146.5 1097.7 145 1096.8 143.5 1097.9 142 1100 140.5 1099.4 139 1099.8 137.5 1096.9 136 1096.9 134.5 1096.1 133 1097.1 131.5 1096.2 130 1098.1 128.5 1097.2 127 1098.7 125.5 1098.2 124 1098.4 122.5 1097.2 121 1098.9 119.5 1098.8 118 1098.9 116.5 1097.9 115 1097.9 113.5 1097.1 112 1096.2 110.5 1097.9 109 1098.5 107.5 1096.7 106 1099.4 104.5 1099.5 103 1099.4 101.5 1099.3 100 1098 98.5 1096.6 97 1096.9 95.5 1098.7 94 1099.5 92.5 1095.9 91 1095.4 89.5 1096.7 88 1096.6 86.5 1097.5 85 1095.4Z" fill="#2b3896" opacity="1"/>
<path d="M224.3 1087.6 184.9 1080.2 258.5 1094 203.4 1089.4 194.9 1089.4 215.3 1089.9 373.3 1093.4 181.9 1085.5 197.8 1086.9 265.7 1095.9 341.8 1094.5 117.2 1093.9 89.6 1091.6 306.5 1092.7 327 1100.2 181.5 1087.8 320.3 1097.7 223.3 1086.5 193.7 1079.6 165.1 1095.1 333 1102.7 378.5 1090.3 372 1099.4 146.4 1104.5 331.2 1100.2 220.3 1092.7 341.8 1095.3 359.7 1089.3 349.8 1093.1 172.4 1094.7 174.5 1084.1 267.1 1099 335.8 1100.3 308.8 1097.8 189.2 1087.3 100.6 1093.6 211.2 1084.8 257.9 1091.8 174 1101.6 187.7 1087.6 235.4 1088.8 100.8 1094.5 175.8 1089.1 94 1093.7 232.1 1100.3 195.2 1088.7 220.8 1089.1 116 1091.8 325.3 1092.8 190.2 1085.3 314.9 1089.3 340.7 1096.7 358.5 1091.4 226.2 1084 248.2 1087.5 335.7 1094.6 347.6 1102.2 273.6 1096.5 268.1 1095.1 230.4 1090.2 199.9 1090.5 257.3 1092.2 129.2 1092.1 310 1091.3 179 1086.6 153.7 1092.3 309.4 1102.1 169.2 1088.9 109.8 1090.2 103.5 1084.9 371.1 1091.6 231.7 1090.9 188.5 1094.4 371 1098.4 123 1088.6 290.7 1095.9 118.6 1089.7 229.7 1095 218.2 1081 370 1086.6 362.7 1093.7 159.8 1090.1 225.7 1086.8 192 1082.5 388.5 1093.5 112.8 1092.8 149.1 1091.4 97.8 1083.3 157.5 1093.3 359.7 1100 165.6 1103.2 382.3 1100.5 304.3 1088.3 319.8 1099.2 240.9 1091.1 287.7 1100 184.2 1085 382.1 1091.5 149.7 1094.2 375.7 1104.3 368.1 1097.3 336.3 1089.8 258.4 1099.6 340.7 1100.1 341.4 1098.2 308.6 1096.7 234.3 1102.1 221.8 1081.6 291.7 1091.2 197.5 1081.8 280.7 1103.2 306.4 1100 330.6 1094.5 223.1 1091 293.3 1092.7 86.1 1090.4 206.7 1088.8 152.8 1095.9 212.2 1085.9 292.1 1085.4 91.3 1095.6 308.9 1091.8 272.8 1091.6 106.8 1095.2 288.2 1101 363.8 1094.5 289.4 1088.2 378.7 1088.1 333.7 1102.3 89.5 1091 273 1088.3 272.3 1087.2 196.2 1096.1 276.2 1094.5 386.5 1086.4 321.3 1093.1 388.2 1084.5 206.4 1090.9 88.4 1089.3 388.7 1097.6 205.8 1087.5 114.8 1098.8 178.5 1084.3 268 1095.3 214.4 1090.8 384.1 1089.7 144.9 1089.1 89.4 1090.7 177.3 1089 234.5 1089.1 245.3 1091.6 105 1097.5 191.9 1085.5 320.6 1106 299.4 1087.5 311.8 1091.7 101.9 1097.1 342 1102 387.7 1094.2 258.5 1090.5 276 1092.3 381.3 1091.9 241.2 1090.3 202.7 1100.9 106.4 1090.3 151.8 1089.5 177.6 1083 288.4 1092.1 362 1101.5 367 1091.9 162.5 1094.2 263 1091.7 108.1 1100.9 123.8 1098.4 304.5 1095.5 327.7 1097.6 103.6 1098.3 236.9 1086.1 221.6 1097 97 1093 246 1098.2 120.7 1088.9 305.6 1094.6 321.1 1094.1 262.1 1088.7 169.4 1097.2 172.9 1098 321 1095.3 197.3 1087.8 379.8 1093.5 315 1103.2 104.1 1091.3 135 1097.9 275.3 1096.1 377.4 1092.2 152.7 1095.8 130 1097.2 213.5 1090.3 197.6 1091.5 338.1 1095.9 247.9 1093.2 271.5 1094.7 352.5 1100.5 156.1 1095 295.3 1098.5 159.8 1086.7 132.7 1101.8 367.6 1090.4 250.6 1096.6 363.5 1093.6 105.5 1091.6 354.4 1094.7 193.2 1091.1 147.3 1094.5 217.6 1084.8 114.5 1087.6 248.5 1096.9 332.2 1099.1 165.3 1095.2 205.3 1085.5 327.5 1103.3 249.2 1092.6 303.7 1102.1 153.4 1090.4 145.9 1088.7 254.3 1093.2 112.4 1090.4 100.3 1087.6 121.9 1100 354.6 1089.9 204.3 1091.2 307.2 1095.8 373.2 1093 123.7 1092.4 110.6 1094 230.8 1085.3 120 1090.5 125.9 1090.1 266.7 1088.7 338 1090.8 127 1091.2 235.3 1093.8 93.7 1096.2 332.4 1092.3 234.4 1098.6 338.7 1092.6 331.6 1098.3 102.2 1096 318.9 1084.8 173.6 1097.1 216.9 1097.6 316.6 1088.7 355.1 1096.4 273.7 1092.5 104.5 1087.1 239.8 1081.8 129.6 1090.5 226.2 1089.9 109.5 1084.8 311.3 1100.8 346.2 1090.8 101.8 1093.3 326.5 1093.5 129.4 1090 225.3 1092.6 109.3 1092.9 215 1095 271.7 1100.5 350.3 1091.9 169.6 1093.5 341.9 1090.9 278.5 1091 99.7 1093.5 343.3 1100.7 373.7 1090 99.2 1090.1 256 1084.2 148.2 1098 147.7 1093.5 332.1 1097.5 351.6 1094.6 261.3 1094 160.4 1085.6 313.6 1090.5 170.7 1091.6 317.4 1095.3 164 1098.2 357.9 1087.6 190.8 1092.9 163.7 1091.8 282.9 1093.6 97.1 1093.9 271.8 1094.2 322.7 1099.9 128.4 1092.1 196.2 1084.1 370.4 1096.7 385 1086.1 269.7 1099.7 263.1 1091 184.1 1082.4 160.6 1097.1 281.5 1099.1 153.9 1087.3 93.5 1088.3 344 1099.6 252.4 1086.6 254.2 1092.1 292.5 1089.4 157.2 1090.8 122.8 1083.3 374.7 1096.4 174.7 1088 223.9 1087.9 139.5 1092.5 154.8 1090.9 170.3 1095.3 109.4 1094.8 245.2 1095.2 268.7 1099.6 276.1 1088.1 175.5 1091.4 227 1089.5 309.4 1093.5 264.1 1099.7 252.9 1091.7 320.1 1097 217.3 1094 309.8 1095.9 376.9 1090.3 385.5 1078.9 275.1 1094.6 202.7 1089 265.9 1094.1 304.9 1089.9 218.5 1084.6 312.1 1091.7 252.8 1088.8 289.1 1092.8 291.5 1094 300.3 1084.3 232.2 1096.4 135.9 1087.8 135.6 1091.7 356.9 1095.9 137.1 1098.4 243.2 1093.9 347.8 1095 86.8 1100.9 222.2 1088.8 280.1 1091.7 193.9 1088.1 220 1091.5 250 1090.9 229.3 1083.4 268.4 1091.3 184 1092.4 168 1092.4 252.5 1093.6 283.3 1093.4 234.2 1090.7 155.9 1095.4 218.9 1084.5 167.7 1097 274.7 1086.3 331.2 1098.8 157.6 1098.5 187.5 1086.1 162.9 1092.3 294.2 1090.1 163.3 1095.7 351.3 1091.5 219.2 1085.1 245 1095.6 252.7 1082.5 312.3 1092.8 113.3 1092.8 101.1 1091.9 335.4 1097.1 138.9 1093.1 236.5 1092 135.6 1091.3 88.9 1095 235.2 1092.7 381.4 1088.1 265.8 1086.6 363.6 1090.7 198.9 1085 231.8 1099 232.8 1097.7 146.3 1084.2 168.7 1094.7 264.8 1096.4 142.3 1093.9 239.7 1090.5 295.8 1091.9 264.3 1093.7 187 1072 389.9 1088.8 139.4 1093.5 111 1090.7 95.6 1090 110.8 1089.1 165.6 1093 319.7 1095.6 292.9 1095.6 389.4 1090.4 249.7 1089.1 300 1099.2 161 1086.4 323.7 1099.7 240.3 1093.2 141.5 1088.7 373.7 1091.5 217.6 1094.1 223.5 1080.4 320.2 1093.5 123 1092.2 286.5 1100.6 182 1083.2 245.7 1089.4 321.5 1101.4 87 1085.8 130 1092.6 309 1096.3 160.8 1097.7 267.8 1087.6 215.1 1092.4 324.8 1095.7 235.6 1090.7 162.4 1090.1 231.9 1101.6 311.1 1100.2 121.2 1097.3 152.8 1093.3 362.7 1092.9 380.1 1092.8 309.6 1097 287.8 1102 105.7 1094.2 156.3 1094.2 156.6 1085.3 240.5 1093.7 245.7 1086.4 141.6 1094.7 245.5 1093.4 267.4 1087.6 257.6 1094.6 282.5 1087.1 247.6 1096.9 354.4 1101.8 321.3 1097.2 296.1 1091.7 116.3 1090.9 287.3 1094.6 253.1 1098.9 270.8 1091 177.9 1087.5 298.2 1097.9 181 1083.8 222 1084.5 316.3 1100.2 319.9 1100.6 382.4 1086.7 222.3 1084.1 181 1088.5 338.8 1092.1 244 1094.9 196.4 1091.3 230.7 1091.3 376.1 1099.4 382.6 1100.8 327.1 1097.5 354.4 1094.3 105.9 1088.8 291.1 1104.9 337.1 1098.6 239.4 1089.3 113.9 1088.2 335.1 1100.9 173.5 1093.7 163.5 1091.4 102.9 1086.8 303.2 1092.6 213.4 1096 258.9 1090.4 352.3 1095.5 253.7 1096.2 268.4 1100.4 99.2 1090.1 374 1089.9 318.3 1098.4 277.2 1097.7 163.2 1088.9 229 1086.8 262.7 1094.3 130.7 1092 93.3 1093.8 245.7 1091.8 361.1 1087.5 271.2 1092 360.1 1088.9 191.5 1089.2 376.3 1090.3 294 1098 132.6 1098.6 202.9 1085.4 195.7 1090.4 134.1 1090.4 328.5 1098.7 193.3 1086.3 383.2 1088.9 354.1 1091.1 364.6 1084 369.7 1087.5 106.1 1095.1 196.5 1084.7 87.3 1096.7 315.8 1101.6 233.4 1093.4 342.6 1094.6 288.9 1092.8 156.9 1089.4 377.5 1090 222.4 1089.7 378 1097 191.6 1087.5 290 1100.2 372.8 1096.4 306.2 1097.9 236.6 1089.1 113.3 1085.7 100.4 1093.7 140.8 1095.5 172.8 1095.6 245.5 1092.8 316.9 1098.6 307.8 1097.9 109.3 1095.3 175.9 1093.3 325.2 1092.3 199.5 1087.7 93.5 1093.5 338.1 1093.1 117.4 1086.9 132.3 1094.3 107.7 1101.8 391 1089.8 251.6 1092 231.1 1085 137.6 1088.9 292.7 1091 97.9 1091.3 318.5 1099.9 231.6 1089.4 244.3 1099.7 173.9 1094.8 103.5 1092.2 96.2 1100.7 251.5 1090.4 372.9 1086.2 117 1090.3 218.5 1086.3 284.7 1091.5 190.1 1085.4 234.8 1088.8 216 1088.1 159.2 1092.7 304 1098.2 389.3 1098.3 271.6 1093.3 381.3 1085.7 203.6 1082.4 92.8 1096.1 228.4 1090.1 309.2 1102.1 348.5 1088 109.2 1091.7 286.8 1100.2 235 1088.7 241.4 1089.4 145.4 1093.8 328.2 1096.3 273.2 1094 339.2 1095.4 376.3 1090.7 140.7 1087 135.7 1091.7 166.7 1095 97.6 1094.3 282.5 1092.7 376.2 1090.1 214.5 1079.5 283.6 1097.2 227.5 1090.6 179.3 1078.8 106.3 1091.2 268.7 1086.5 120.8 1091.9 329.1 1094.8 275.3 1093 196.7 1086.4 309.3 1097.4 211.5 1090 345.9 1093.3 110 1089.6 341.1 1100.6 148.3 1086.6 314.7 1100 182.9 1086.7 377.8 1095.7 309.6 1097 318.3 1097.5 346.3 1097.2 381.9 1098.3 111 1088.8 311.5 1091.7 317.4 1090.8 238.8 1096.6 221.5 1089.4 280 1095.8 372.9 1087 168.1 1101.5 190.9 1081.6 93.8 1086.6 378.7 1089.5 255.8 1091.7 136.6 1084.5 289 1091.7 169.1 1095.5 196 1087.1 183.1 1080.9 101.9 1093.8 340.9 1089.4 325.6 1101.1 226.6 1092.1 175.9 1090.7 89.4 1088.6 223.1 1091.3 270.5 1094.4 269.9 1092.3 256.6 1092.5 245 1091.1 132.7 1095 232.9 1087.2 291.3 1099.1 169.5 1091.6 313.2 1094.8 147.4 1086.3 329.6 1093.4 247.4 1103.5 327.5 1090.7 194.8 1086.9 124.3 1098.3 139.1 1097.4 203.5 1092 367 1094.4 189.2 1081.9 183.1 1088.6 351.8 1094.8 176.2 1100.9 201.3 1088.8 322.1 1086.6 109.6 1095.4 229.8 1090.4 365.7 1091.6 188.5 1086.2 109 1090.4 111.5 1094.6 365.3 1081.9 247.4 1098.9 240.1 1096 324.4 1093.9 137.3 1087.7 128.7 1096.2 173.4 1097.3 377 1100.3 121.7 1094.3 116.6 1094.8 267.1 1092.3 264 1090.2 128 1094.5 297.9 1090.7 335.5 1101.6 108.2 1088.3 370.2 1094.6 275 1095.8 89.5 1096 242.3 1094.1 240.5 1092.8 249.6 1093.8 180.3 1092.1 300 1103.2 222.4 1093 137.9 1090.4 114.1 1098.1 364.2 1093.1 107.2 1096.6 224.6 1093.3 139.5 1091.3 175.2 1099.9 108.6 1098.9 184.7 1093.6 89.6 1100.1 228.3 1100.1 226.1 1097.5 136.1 1100.4 186.6 1095.3 176.3 1095.2 124.3 1098.3 94.5 1100 99.2 1101.5 243.2 1098.6 244.4 1100.6 85.9 1098.6 144.6 1099.5 96.1 1098.7 87.9 1099 164.5 1100.6 237.5 1101.1 167.4 1103.3 143.3 1101.2 213.3 1096.7 207.1 1096.1 113.6 1099.7 103.8 1100.9 126.5 1100 218.4 1098.2 235 1100.3 199.3 1096.9 198.9 1097.6 183.1 1095.2 175.7 1097.9 240.3 1099 116.4 1100 136.4 1100.9 189.9 1093.1 119.5 1100.5 150.4 1101.2 162.5 1099.8 198.8 1097.8 100.2 1100.5 186.2 1095.3 168.4 1102.2 248.2 1101.9 156.7 1102.1 195.1 1096.8 249.7 1098.8 120 1098.9 220.1 1099.7 122.3 1099.9 231.8 1100 181.8 1096 237.4 1097.9 244.4 1099.2 186.4 1095.8 133.5 1099.2 234.4 1100.5 246.1 1098.6 188.4 1095.9" fill="none" stroke="none" marker-start="url(#m19)" marker-mid="url(#m19)" marker-end="url(#m19)"/>
<path d="M84.8 1008.2V1125.8H494.4V1008.2H84.8" stroke="#111" stroke-width="1.3" fill="none"/>
<text x="78.5" y="1131.1" font-size="15" text-anchor="end" fill="#222" font-weight="normal" >0.0</text>
<text x="78.5" y="1104.7" font-size="15" text-anchor="end" fill="#222" font-weight="normal" >0.2</text>
<text x="78.5" y="1078.4" font-size="15" text-anchor="end" fill="#222" font-weight="normal" >0.4</text>
<text x="78.5" y="1052" font-size="15" text-anchor="end" fill="#222" font-weight="normal" >0.6</text>
<text x="78.5" y="1025.7" font-size="15" text-anchor="end" fill="#222" font-weight="normal" >0.8</text>
<path d="M84.8 1125.8h-6M84.8 1112.6h-3.5M84.8 1099.4h-6M84.8 1086.3h-3.5M84.8 1073.1h-6M84.8 1059.9h-3.5M84.8 1046.7h-6M84.8 1033.5h-3.5M84.8 1020.4h-6M84.8 1007.2h-3.5M84.8 1125.8v5M115.2 1125.8v3M145.5 1125.8v5M175.9 1125.8v3M206.3 1125.8v5M236.7 1125.8v3M267 1125.8v5M297.4 1125.8v3M327.8 1125.8v5M358.1 1125.8v3M388.5 1125.8v5M418.9 1125.8v3M449.2 1125.8v5M479.6 1125.8v3" stroke="#111" stroke-width="1.1"/>
<text x="84.8" y="1145" font-size="15" text-anchor="middle" fill="#222" font-weight="normal" >0</text>
<text x="145.5" y="1145" font-size="15" text-anchor="middle" fill="#222" font-weight="normal" >200</text>
<text x="206.3" y="1145" font-size="15" text-anchor="middle" fill="#222" font-weight="normal" >400</text>
<text x="267" y="1145" font-size="15" text-anchor="middle" fill="#222" font-weight="normal" >600</text>
<text x="327.8" y="1145" font-size="15" text-anchor="middle" fill="#222" font-weight="normal" >800</text>
<text x="388.5" y="1145" font-size="15" text-anchor="middle" fill="#222" font-weight="normal" >1,000</text>
<text x="449.2" y="1145" font-size="15" text-anchor="middle" fill="#222" font-weight="normal" >1,200</text>
<text x="500" y="1129.7" font-size="15" text-anchor="start" fill="#3a3a70" font-weight="normal" >0.4</text>
<text x="500" y="1106.2" font-size="15" text-anchor="start" fill="#3a3a70" font-weight="normal" >0.6</text>
<text x="500" y="1082.6" font-size="15" text-anchor="start" fill="#3a3a70" font-weight="normal" >0.8</text>
<text x="500" y="1059.1" font-size="15" text-anchor="start" fill="#3a3a70" font-weight="normal" >1.0</text>
<text x="500" y="1035.5" font-size="15" text-anchor="start" fill="#3a3a70" font-weight="normal" >1.2</text>
<text x="500" y="1012" font-size="15" text-anchor="start" fill="#3a3a70" font-weight="normal" >1.4</text>
<path d="M494.4 1124.4h-6M494.4 1112.6h-3.5M494.4 1100.9h-6M494.4 1089.1h-3.5M494.4 1077.3h-6M494.4 1065.6h-3.5M494.4 1053.8h-6M494.4 1042h-3.5M494.4 1030.2h-6M494.4 1018.5h-3.5M494.4 1006.7h-6" stroke="#3a3a70" stroke-width="1.1"/>
<text x="293" y="1171" font-size="17" text-anchor="middle" fill="#222" font-weight="normal" >Time (h)</text>
<text transform="translate(47 1070) rotate(-90)" font-size="17" text-anchor="middle" fill="#222">Terminal voltage (V)</text>
<text transform="translate(542 1063) rotate(-90)" font-size="17" text-anchor="middle" fill="#3a3a70">Terminal voltage (V)</text>
<text x="94.2" y="1025.8" font-size="13" fill="#a04858">Ethanol <tspan font-style="italic">j</tspan> = 0.2 A cm<tspan font-size="9" dy="-4">−2</tspan></text>
<text x="230.2" y="1025.8" font-size="13" text-anchor="start" fill="#a04858" font-weight="normal" >550 °C</text>
<text x="256" y="1075.5" font-size="13" fill="#2a3070">Natural gas <tspan font-style="italic">j</tspan> = 0.25 A cm<tspan font-size="9" dy="-4">−2</tspan></text>
<text x="419" y="1075.5" font-size="13" text-anchor="start" fill="#2a3070" font-weight="normal" >500 °C</text>
<path d="M180.8 1041.8V1065.1H157" stroke="#111" stroke-width="1.2" fill="none"/><path d="M150.7 1065.1L158 1062.1V1068.1z" fill="#111"/>
<path d="M215 1086.3V1068.2H241" stroke="#2a3070" stroke-width="1.2" fill="none"/><path d="M247 1068.2L240 1065.2V1071.2z" fill="#2a3070"/>
</g>
<g id="pg">
<text x="566" y="1001" font-size="20" text-anchor="start" fill="#000" font-weight="bold" >g</text>
<path d="M679.5 1098 697.2 1081.5 715.9 1066.9 732.5 1056.4 749.2 1048.1 764.8 1041.8 779.3 1037.6 793.9 1034.5 807.4 1032.4 819.9 1031.4 831.3 1031.4 842.8 1031.6 853.2 1033.5 862.5 1035.8 871.9 1039.2 880.2 1042.9 888.5 1046.9 894.8 1050.1 901 1053.6 901 1053.6 901.8 1054 902.5 1054.5 904.3 1055.5 903.5 1054.4 903.9 1055.3 905.6 1055.9 905.4 1055.8 907.4 1058 906.8 1057.8 909.6 1057.9 909.3 1059.5 908.8 1060.2 911.3 1060.4 911 1060.4 913.2 1059.9 911.9 1061.9 914.7 1061.3 913.6 1062.7 915.8 1063.5 916.3 1062.9 915.9 1064.8 917.9 1064.2 917.1 1065.4 918.6 1066 918.8 1066.1 920.7 1068.8 921.4 1069.3 920.9 1069.3 922.2 1070.4 923.5 1070.5 925 1072 923.9 1071.4 924.5 1072.3 925.6 1073.3 926.7 1072.3 928.7 1073.3 928 1074.9 928.2 1076.2 930.5 1075.3 931 1076 931.6 1076.6 931.7 1078.2 933.1 1079.5 934.7 1079.5 934.1 1079.9 935.8 1081.1 935.2 1081.4 936.5 1083.7 937.3 1084.4 938.1 1084.6 938.3 1085 940.2 1085.1 940.3 1086.3 940.6 1087.4 941.2 1089 941.5 1089.2 942.8 1090.1 944.9 1092.5 945.8 1092.4 944.8 1094.3 946.4 1097.2 947.9 1099.2 946.7 1099.2 948.2 1102.3 948.1 1104.4 949.2 1108 950.1 1108.9 950.8 1112.5 951.3 1113.7 952.3 1115.4" fill="none" stroke="none" marker-start="url(#m20)" marker-mid="url(#m20)" marker-end="url(#m20)"/>
<path d="M677.4 1101.3 695.1 1083.7 713.8 1069.8 730.5 1061.1 747.1 1052.9 762.7 1048.8 777.3 1044.7 790.8 1042.7 803.3 1040.7 814.7 1039.8 825.1 1039.8 835.5 1040.6 844.9 1041.8 853.2 1043.8 861.5 1046 868.8 1048 876.1 1050.1 882.3 1052.3 888.5 1054.8 893.2 1056.6 892.1 1055.3 893.5 1057.8 892 1055 889.2 1056.3 891.7 1057.7 894.5 1057.6 890.8 1058.4 893 1054.7 891.1 1058.5 894.4 1057.8 893.9 1055 895.6 1056.2 894.9 1057.3 893.7 1057.4 896.1 1058.7 893.6 1058.9 892.7 1057 893.7 1055.9 894.3 1055.9 897.5 1059.2 895.2 1056.3 894.3 1059.3 894.7 1056.7 895.6 1058.8 894.2 1058.1 896.7 1059.8 896.1 1060.9 895.6 1060.1 894.9 1060.9 897.5 1058.1 899.1 1061 895.8 1061.2 900.3 1059.2 899.7 1060.9 898.7 1059.7 897.6 1061.6 900.3 1062.2 896.8 1060.9 900.4 1059.7 897 1062.5 901.2 1062 899.1 1061.1 901.8 1059.9 901.6 1062.5 900.4 1063.7 901.5 1063.6 899.5 1061.9 900.2 1062.4 902.8 1064.6 903.9 1064.2 904.4 1063.9 903.4 1061.5 901.9 1063.3 900.6 1065.2 902.2 1062.7 900.9 1064.1 902.4 1065.9 904.2 1064.1 901.9 1062.8 904.9 1065.2 904.1 1065 903.9 1066.8 902.3 1064.3 906.4 1064.9 904.2 1065.5 904.2 1067 903.4 1066.4 906.8 1065.8 907.1 1066.1 906.8 1065.3 905.4 1067.3 907.2 1067.2 904.4 1067.7 909 1066.8 905.8 1068.4 906.1 1066.6 905.5 1068.9 909.9 1069.7 908.6 1070.3 910.2 1068.1 908 1071.2 911.1 1070.1 909.7 1069.1 907.2 1069.3 908.1 1070.8 910.5 1071 912.1 1068.7 908.6 1069.4 909.7 1072.9 910.4 1072.7 909.2 1071.1 912.6 1071.2 912.5 1072.6 912.3 1070.6 911 1074.7 911.3 1072.2 914.8 1073.7 913.4 1073.5 913.3 1073.4 911.7 1073.3 911.6 1075.2 911.1 1073.2 913.5 1076.9 915.2 1075.9 915.2 1074.4 914.2 1073.9 914.5 1074.3 912.6 1074.9 914 1076.6 913.6 1075.3 913.3 1079.1 918 1079.3 913.8 1076.7 917.9 1076.3 914.3 1079.1 918.8 1080.5 918.4 1078.4 918.1 1081.2 919.1 1081.7 918.6 1081.2 918.6 1080.1 918.1 1082.4 918.3 1079.1 917.9 1082.8 919.5 1081.6 920.9 1083 917.4 1083.1 921 1080.7 921.6 1082.7 921.3 1081.3 918.8 1082.8 918.5 1084.6 921.7 1084.9 922.5 1083.1 919.5 1084.5 922.4 1086.2 923.6 1087.1 921.4 1086.9 923.2 1086.3 922.7 1088 923.7 1085.6 919.7 1088.1 924 1086.4 924.4 1089 921.1 1086.9 923.9 1089.1 921.5 1090.6 922 1090.6 926 1088.1 925 1090.1 926.3 1090.1 923.9 1089.6 926.4 1090.2 927 1089.5 927.1 1089.7 926.4 1093.8 924.6 1092.7 925.3 1091 927.7 1093.1 927.7 1091.6 924.6 1092.7 928.3 1092.3 924.4 1094.1 926.5 1096.3 929.1 1094.2 928.8 1095.1 929.1 1096.7 925.7 1096.3 927.8 1096.6 928.7 1097.9 928.1 1097.6 930.5 1098.7 927.5 1096.9 928.1 1100.5 928.9 1100.6 932.1 1100.3 929.3 1100.9 930.2 1102.1 930.4 1101.2 931.6 1101.6 929.2 1101.7 930.7 1102.6 932.7 1101.1 930.8 1101.7 934.1 1103 931.7 1105.3 933.6 1105.3 932.4 1102.7 931.9 1103 932.3 1104.8 933 1107.3 933.4 1104.5 931.8 1106.9 933.8 1106.3 933.9 1106.7 935.1 1107.8 932 1107.8 933.3 1108.6 934.6 1109.7 937.5 1110 935.9 1109.5 933.5 1110.8 934.1 1109.8 936.4 1109.7 938.1 1111.2 938.8 1109.5 936.4 1111.1 937.2 1112.8 937.5 1114.4 937 1112.5 938.8 1113.6 936.5 1115.5 936.5 1112.5 938.4 1116.2 940.2 1116.2 939.2 1115.4 937.7 1114.4 938.8 1117.5 939.6 1118.4 941.1 1117.1 918.7 1110.8 919.7 1103.5 917.7 1095.1 920.8 1086.7 926 1111.8 929.1 1107.6 931.2 1112.9" fill="none" stroke="none" marker-start="url(#m21)" marker-mid="url(#m21)" marker-end="url(#m21)"/>
<path d="M898.2 1065.6 899.6 1067.4 897.8 1068.1 899.7 1066.9 900.4 1067.6 900.6 1068.3 900.9 1070 902.1 1069.2 901 1070.3 902.3 1068.9 902.3 1069.9 903.1 1070 902.5 1070.7 902.9 1072.1 905.1 1072.8 904.8 1073.6 904.5 1073 905.7 1072.8 906.5 1075.4 907.3 1073.3 907.8 1074.2 905.9 1075.9 907 1075.1 908.2 1076.7 908.4 1077.1 909.1 1078.4 909.8 1078.8 910.6 1078.6 910.5 1078.1 909.2 1079.7 911.4 1079.7 912.7 1080.5 911.7 1081.7 913.6 1081.4 911.9 1083.6 912.7 1083.4 912.4 1085.9 913.8 1085.7 913.6 1087.7 913.6 1087.9 913.9 1088.5 915.1 1090.8 915.9 1091.7 915.1 1091.1 918.4 1092.8 916 1093.8 917.4 1096 917.9 1096.7 918.6 1098.6 918.2 1100.2 919.8 1101.9 920.7 1103 919.6 1105.9 919.7 1105.5 921.1 1107.3 920.9 1110.1 921.6 1110.6 922.9 1110.8 922.8 1112.2 923.6 1115.4 925 1117.3" fill="none" stroke="none" marker-start="url(#m22)" marker-mid="url(#m22)" marker-end="url(#m22)"/>
<path d="M643.1 1010.8V1116H1007.8" stroke="#111" stroke-width="1.3" fill="none"/>
<text x="636" y="1121.3" font-size="15" text-anchor="end" fill="#222" font-weight="normal" >0.00</text>
<text x="636" y="1100.4" font-size="15" text-anchor="end" fill="#222" font-weight="normal" >0.02</text>
<text x="636" y="1079.5" font-size="15" text-anchor="end" fill="#222" font-weight="normal" >0.04</text>
<text x="636" y="1058.6" font-size="15" text-anchor="end" fill="#222" font-weight="normal" >0.06</text>
<text x="636" y="1037.7" font-size="15" text-anchor="end" fill="#222" font-weight="normal" >0.08</text>
<text x="636" y="1016.8" font-size="15" text-anchor="end" fill="#222" font-weight="normal" >0.10</text>
<text x="643.1" y="1135" font-size="15" text-anchor="middle" fill="#222" font-weight="normal" >0.25</text>
<text x="695.1" y="1135" font-size="15" text-anchor="middle" fill="#222" font-weight="normal" >0.30</text>
<text x="747.1" y="1135" font-size="15" text-anchor="middle" fill="#222" font-weight="normal" >0.35</text>
<text x="799.1" y="1135" font-size="15" text-anchor="middle" fill="#222" font-weight="normal" >0.40</text>
<text x="851.1" y="1135" font-size="15" text-anchor="middle" fill="#222" font-weight="normal" >0.45</text>
<text x="903.1" y="1135" font-size="15" text-anchor="middle" fill="#222" font-weight="normal" >0.50</text>
<text x="955.1" y="1135" font-size="15" text-anchor="middle" fill="#222" font-weight="normal" >0.55</text>
<text x="1007.1" y="1135" font-size="15" text-anchor="middle" fill="#222" font-weight="normal" >0.60</text>
<path d="M643.1 1116h-6M643.1 1105.5h-3.5M643.1 1095.1h-6M643.1 1084.7h-3.5M643.1 1074.2h-6M643.1 1063.8h-3.5M643.1 1053.3h-6M643.1 1042.8h-3.5M643.1 1032.4h-6M643.1 1022h-3.5M643.1 1011.5h-6M643.1 1116v5M669.1 1116v3M695.1 1116v5M721.1 1116v3M747.1 1116v5M773.1 1116v3M799.1 1116v5M825.1 1116v3M851.1 1116v5M877.1 1116v3M903.1 1116v5M929.1 1116v3M955.1 1116v5M981.1 1116v3M1007.1 1116v5" stroke="#111" stroke-width="1.1"/>
<text x="778" y="1158" font-size="17" fill="#222"><tspan font-style="italic">Z</tspan><tspan font-size="12" dy="5">re</tspan><tspan dy="-5"> (Ω cm</tspan><tspan font-size="11" dy="-6">2</tspan><tspan dy="6">)</tspan></text>
<text transform="translate(596 1066) rotate(-90)" font-size="17" text-anchor="middle" fill="#222">−<tspan font-style="italic">Z</tspan><tspan font-size="12" dy="5">im</tspan><tspan dy="-5"> (Ω cm</tspan><tspan font-size="11" dy="-6">2</tspan><tspan dy="6">)</tspan></text>
<circle cx="933.6" cy="1018.8" r="1.4" fill="#303a88"/>
<text x="939.2" y="1023.2" font-size="12.3" text-anchor="start" fill="#222" font-weight="normal" >Methane</text>
<circle cx="933.6" cy="1037.3" r="1.4" fill="#222"/>
<text x="939.2" y="1041.7" font-size="12.3" text-anchor="start" fill="#222" font-weight="normal" >Sulfur-free natural gas</text>
<circle cx="933.6" cy="1054.9" r="1.4" fill="#d83040"/>
<text x="939.2" y="1059.3" font-size="12.3" text-anchor="start" fill="#222" font-weight="normal" >Simulated natural gas</text>
<text x="939.2" y="1074.7" font-size="12.3" fill="#222">(19.5 p.p.m. H<tspan font-size="9" dy="3">2</tspan><tspan dy="-3">S)</tspan></text>
<g stroke="#b8b8b8" stroke-width="1.6" fill="#fff" opacity="0.95">
<path d="M902 1131c-8 0-13 5-13 11c0 4 2 6 5 8l-1 5l5-3c1 0 3 1 4 1"/>
<path d="M913 1137c-9 0-16 6-16 12c0 7 7 12 16 12c2 0 4 0 5-1l5 3l-1-5c3-2 6-5 6-9c0-6-6-12-15-12z"/>
<circle cx="908" cy="1146" r="1" fill="#b8b8b8"/><circle cx="918" cy="1146" r="1" fill="#b8b8b8"/>
</g>
<g stroke="#b0b0b0" stroke-width="1.5" fill="none" opacity="0.9">
<path d="M944 1135l-3 6h9l-2-3M942 1145h8v14M942 1145v14M942 1150h8M942 1154h8M953 1133v9c0 2 1 2 6 2M958 1135l-5 3M953 1147v10c0 2 1 2 6 2M958 1149l-5 3"/>
<path d="M964 1136l3 2M963 1143l3 2M963 1159l4-8M969 1135h16M970 1135v12c0 5-1 9-3 13M973 1139h10v8h-10zM973 1143h10M978 1147v13l-2-1M975 1151l-3 5M981 1151l3 5"/>
<path d="M994 1133l2 3M1000 1132l1 3M1007 1132l-2 3M990 1138v-2h22v2M995 1141h12l-6 4v14l-3-1M990 1149h22"/>
<path d="M1029 1133c0 10-4 20-12 26M1029 1142c3 8 7 14 14 17"/>
</g>
</g>
</svg></body></html>
